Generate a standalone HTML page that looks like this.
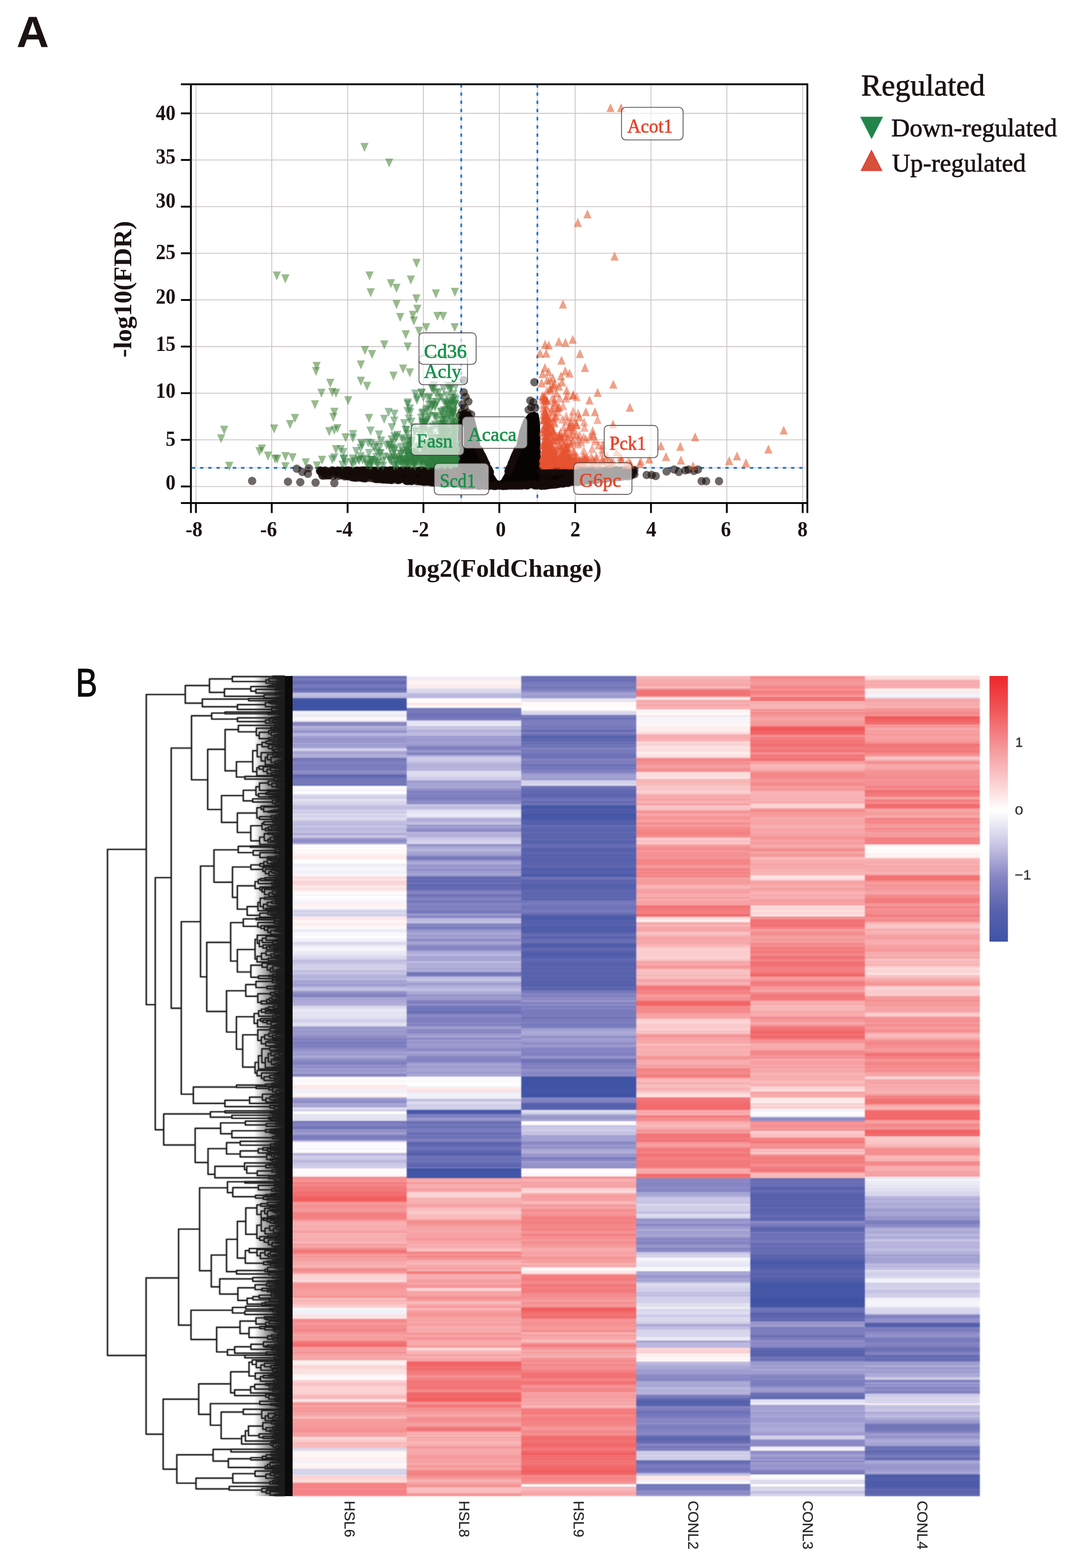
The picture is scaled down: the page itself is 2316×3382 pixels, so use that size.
<!DOCTYPE html>
<html lang="en"><head><meta charset="utf-8"><title>Figure</title>
<style>html,body{margin:0;padding:0;background:#fff}svg{display:block}text{font-family:"Liberation Serif","DejaVu Serif",serif}.ss text,text.ss{font-family:"Liberation Sans","DejaVu Sans",sans-serif}</style>
</head><body>
<svg width="2316" height="3382" viewBox="0 0 2316 3382">
<rect width="2316" height="3382" fill="#fff"/>
<text class="ss" x="35.6" y="101.6" font-size="94.3" font-weight="bold" fill="#1a1311" textLength="70.2" lengthAdjust="spacingAndGlyphs">A</text>
<text class="ss" x="163.2" y="1501.6" font-size="84.6" fill="#0a0a0a" stroke="#0a0a0a" stroke-width="1.5" textLength="46.6" lengthAdjust="spacingAndGlyphs">B</text>
<g id="volcano">
<path d="M422.5 181.7V1085M586 181.7V1085M749.6 181.7V1085M913.1 181.7V1085M1076.7 181.7V1085M1240.3 181.7V1085M1403.8 181.7V1085M1567.4 181.7V1085M1730.9 181.7V1085M411.7 1049.3H1741M411.7 948.7H1741M411.7 848.1H1741M411.7 747.5H1741M411.7 646.9H1741M411.7 546.3H1741M411.7 445.7H1741M411.7 345.1H1741M411.7 244.5H1741" stroke="#c9c4c4" stroke-width="1.8" fill="none"/>
<path d="M994.6 181.7V1083M1158.8 181.7V1083M413.7 1009.1H1739" stroke="#e6e3e3" stroke-width="3.2" fill="none"/>
<path d="M994.6 181.7V1083M1158.8 181.7V1083M413.7 1009.1H1739" stroke="#1e73cd" stroke-width="3.7" stroke-dasharray="7.2 10.5" fill="none"/>
<path d="M760 1019 L800 1017 L880 1016 L960 1015 L989 1014 L989 960 L989 903 L992 890 L1000 886 L1012 890 L1022 903 L1029 930 L1035 966 L1048 996 L1061 1020 L1071 1036 L1076.5 1039 L1082 1036 L1092 1018 L1104 992 L1114 966 L1121 930 L1130 906 L1141 893 L1152 889 L1160 894 L1163 912 L1164 960 L1165 1014 L1240 1016 L1300 1016 L1330 1017 L1330 1030 L1290 1037 L1240 1045 L1166 1051 L1100 1053.5 L1076 1054 L1040 1053 L987 1050 L945 1046.5 L900 1042.5 L860 1038 L814 1033 L780 1029 L760 1026 Z" fill="#070303" stroke="#070303" stroke-width="3" stroke-linejoin="round"/>
<g fill="#150c08" fill-opacity="0.62">
<circle cx="543.7" cy="1037.3" r="9"/><circle cx="621" cy="1039" r="9"/><circle cx="647.5" cy="1040" r="9"/><circle cx="680.5" cy="1040.8" r="9"/><circle cx="721" cy="1042" r="9"/><circle cx="640" cy="1011" r="9"/><circle cx="652" cy="1018" r="9"/><circle cx="664" cy="1022" r="9"/><circle cx="666" cy="1010" r="9"/><circle cx="1152.4" cy="824.4" r="9"/><circle cx="1143.6" cy="864" r="9"/><circle cx="1150" cy="867.5" r="9"/><circle cx="1146" cy="878" r="9"/><circle cx="1154" cy="880" r="9"/><circle cx="1140" cy="884" r="9"/><circle cx="1000" cy="846" r="9"/><circle cx="1004" cy="856" r="9"/><circle cx="1010" cy="866" r="9"/><circle cx="997" cy="872" r="9"/><circle cx="1002" cy="880" r="9"/><circle cx="996" cy="888" r="9"/><circle cx="1000" cy="820" r="9"/><circle cx="1008" cy="890" r="9"/><circle cx="1016" cy="894" r="9"/><circle cx="992" cy="896" r="9"/><circle cx="1368" cy="1013.5" r="9"/><circle cx="1368" cy="1023" r="9"/><circle cx="1394.4" cy="1024.5" r="9"/><circle cx="1405.4" cy="1024.5" r="9"/><circle cx="1414" cy="1026.7" r="9"/><circle cx="1437.5" cy="1017" r="9"/><circle cx="1453.7" cy="1012.7" r="9"/><circle cx="1463.9" cy="1018" r="9"/><circle cx="1478" cy="1014.4" r="9"/><circle cx="1484.5" cy="1012.7" r="9"/><circle cx="1496.4" cy="1015.7" r="9"/><circle cx="1505" cy="1012.7" r="9"/><circle cx="1513" cy="1037.8" r="9"/><circle cx="1522.8" cy="1037.8" r="9"/><circle cx="1550.5" cy="1037.8" r="9"/><circle cx="787.1" cy="1031.7" r="9"/><circle cx="850.8" cy="1015.2" r="9"/><circle cx="842.2" cy="1035.2" r="9"/><circle cx="717.2" cy="1017.1" r="9"/><circle cx="757" cy="1029.1" r="9"/><circle cx="982.9" cy="1023.2" r="9"/><circle cx="733.3" cy="1017.5" r="9"/><circle cx="864.5" cy="1016" r="9"/><circle cx="854.3" cy="1014.6" r="9"/><circle cx="751.8" cy="1015.3" r="9"/><circle cx="865.7" cy="1015.4" r="9"/><circle cx="928.3" cy="1016.3" r="9"/><circle cx="862.3" cy="1030.9" r="9"/><circle cx="776.4" cy="1020.4" r="9"/><circle cx="815.4" cy="1016.6" r="9"/><circle cx="836.7" cy="1032.8" r="9"/><circle cx="861.9" cy="1017.6" r="9"/><circle cx="898.6" cy="1038" r="9"/><circle cx="942" cy="1040" r="9"/><circle cx="884.1" cy="1026.5" r="9"/><circle cx="805.7" cy="1016.2" r="9"/><circle cx="828.5" cy="1014.8" r="9"/><circle cx="728.8" cy="1016.3" r="9"/><circle cx="824.8" cy="1030.9" r="9"/><circle cx="949.2" cy="1041.4" r="9"/><circle cx="955.3" cy="1019.2" r="9"/><circle cx="742.9" cy="1027.7" r="9"/><circle cx="768.8" cy="1015.3" r="9"/><circle cx="859.9" cy="1035.3" r="9"/><circle cx="875.3" cy="1016.2" r="9"/><circle cx="959.9" cy="1037.5" r="9"/><circle cx="807.7" cy="1015.3" r="9"/><circle cx="880.3" cy="1014.6" r="9"/><circle cx="752.6" cy="1015.1" r="9"/><circle cx="690.1" cy="1014.7" r="9"/><circle cx="874.2" cy="1014.7" r="9"/><circle cx="794.2" cy="1015.2" r="9"/><circle cx="944.7" cy="1040.8" r="9"/><circle cx="715.8" cy="1015.1" r="9"/><circle cx="938.7" cy="1014.8" r="9"/><circle cx="975.3" cy="1015.6" r="9"/><circle cx="853" cy="1030.2" r="9"/><circle cx="949" cy="1016.3" r="9"/><circle cx="800" cy="1031.5" r="9"/><circle cx="923.7" cy="1015.1" r="9"/><circle cx="933.5" cy="1037.2" r="9"/><circle cx="935.5" cy="1016.5" r="9"/><circle cx="845.3" cy="1015.2" r="9"/><circle cx="698.4" cy="1021.5" r="9"/><circle cx="824.2" cy="1033.5" r="9"/><circle cx="799.4" cy="1014.9" r="9"/><circle cx="749" cy="1027.3" r="9"/><circle cx="833.8" cy="1034.6" r="9"/><circle cx="888.2" cy="1036.1" r="9"/><circle cx="833.4" cy="1034.1" r="9"/><circle cx="930.2" cy="1019.8" r="9"/><circle cx="810.4" cy="1033" r="9"/><circle cx="728.1" cy="1019.5" r="9"/><circle cx="938" cy="1040.7" r="9"/><circle cx="854.6" cy="1014.7" r="9"/><circle cx="981.3" cy="1040.1" r="9"/><circle cx="820.1" cy="1021" r="9"/><circle cx="765.6" cy="1030" r="9"/><circle cx="815.7" cy="1021.4" r="9"/><circle cx="827.4" cy="1023.6" r="9"/><circle cx="965.3" cy="1042" r="9"/><circle cx="744.9" cy="1016.9" r="9"/><circle cx="832" cy="1034.1" r="9"/><circle cx="845.5" cy="1035.4" r="9"/><circle cx="858.1" cy="1014.9" r="9"/><circle cx="921.7" cy="1038.2" r="9"/><circle cx="963.7" cy="1042" r="9"/><circle cx="843.6" cy="1034.3" r="9"/><circle cx="833.4" cy="1031.6" r="9"/><circle cx="972.7" cy="1039.3" r="9"/><circle cx="942" cy="1014.7" r="9"/><circle cx="822.6" cy="1014.6" r="9"/><circle cx="925.2" cy="1017.9" r="9"/><circle cx="904.8" cy="1016.1" r="9"/><circle cx="954.8" cy="1019.6" r="9"/><circle cx="975.8" cy="1036.9" r="9"/><circle cx="939.7" cy="1040.4" r="9"/><circle cx="791.7" cy="1014.8" r="9"/><circle cx="906.6" cy="1038.5" r="9"/><circle cx="695.4" cy="1025.9" r="9"/><circle cx="985.5" cy="1019.7" r="9"/><circle cx="769.7" cy="1016.8" r="9"/><circle cx="728.9" cy="1020.7" r="9"/><circle cx="861.2" cy="1016.3" r="9"/><circle cx="817.6" cy="1026.8" r="9"/><circle cx="930.5" cy="1016.4" r="9"/><circle cx="948.8" cy="1015.4" r="9"/><circle cx="855.9" cy="1018.4" r="9"/><circle cx="728.8" cy="1014.9" r="9"/><circle cx="738.4" cy="1014.8" r="9"/><circle cx="781.5" cy="1016.6" r="9"/><circle cx="840" cy="1014.8" r="9"/><circle cx="695.4" cy="1024.8" r="9"/><circle cx="746.8" cy="1018.6" r="9"/><circle cx="935.7" cy="1038.5" r="9"/><circle cx="807.9" cy="1027.1" r="9"/><circle cx="792.8" cy="1030.7" r="9"/><circle cx="811.4" cy="1015.1" r="9"/><circle cx="728.9" cy="1016.5" r="9"/><circle cx="739" cy="1025" r="9"/><circle cx="774.6" cy="1014.9" r="9"/><circle cx="827.8" cy="1033.9" r="9"/><circle cx="978.5" cy="1043.5" r="9"/><circle cx="979.7" cy="1015.1" r="9"/><circle cx="832.4" cy="1015.5" r="9"/><circle cx="841.4" cy="1014.5" r="9"/><circle cx="716.9" cy="1014.6" r="9"/><circle cx="781.3" cy="1030.3" r="9"/><circle cx="915.2" cy="1036.8" r="9"/><circle cx="806.9" cy="1017.8" r="9"/><circle cx="907.2" cy="1016" r="9"/><circle cx="940.6" cy="1039.6" r="9"/><circle cx="933.7" cy="1040.1" r="9"/><circle cx="940.5" cy="1031.3" r="9"/><circle cx="957.8" cy="1042.3" r="9"/><circle cx="699.3" cy="1015.2" r="9"/><circle cx="940.7" cy="1040.1" r="9"/><circle cx="894.2" cy="1015.5" r="9"/><circle cx="929.3" cy="1039.7" r="9"/><circle cx="887.8" cy="1037.8" r="9"/><circle cx="712.3" cy="1016.5" r="9"/><circle cx="911.9" cy="1039" r="9"/><circle cx="833.7" cy="1033.3" r="9"/><circle cx="882.8" cy="1014.6" r="9"/><circle cx="766.2" cy="1030.5" r="9"/><circle cx="708.2" cy="1025.1" r="9"/><circle cx="777.3" cy="1030.2" r="9"/><circle cx="970.9" cy="1040.9" r="9"/><circle cx="980.4" cy="1015.4" r="9"/><circle cx="753.2" cy="1025.1" r="9"/><circle cx="842.6" cy="1034.9" r="9"/><circle cx="959.3" cy="1015.5" r="9"/><circle cx="825.2" cy="1015" r="9"/><circle cx="793.2" cy="1015.1" r="9"/><circle cx="915.2" cy="1017.2" r="9"/><circle cx="967.9" cy="1024.2" r="9"/><circle cx="801.7" cy="1025.6" r="9"/><circle cx="798.2" cy="1015.3" r="9"/><circle cx="704.5" cy="1017.2" r="9"/><circle cx="970.7" cy="1014.9" r="9"/><circle cx="843.3" cy="1014.8" r="9"/><circle cx="976.8" cy="1034.2" r="9"/><circle cx="964" cy="1041.1" r="9"/><circle cx="825.3" cy="1033.7" r="9"/><circle cx="728.2" cy="1015.1" r="9"/><circle cx="911.7" cy="1020.1" r="9"/><circle cx="886.8" cy="1037.4" r="9"/><circle cx="740.2" cy="1021.8" r="9"/><circle cx="988.9" cy="1015.4" r="9"/><circle cx="747.7" cy="1015.1" r="9"/><circle cx="761.7" cy="1026.6" r="9"/><circle cx="813.8" cy="1032.8" r="9"/><circle cx="791.5" cy="1014.6" r="9"/><circle cx="980.3" cy="1042.6" r="9"/><circle cx="948.9" cy="1014.9" r="9"/><circle cx="764.5" cy="1028.1" r="9"/><circle cx="951.9" cy="1014.5" r="9"/><circle cx="902.9" cy="1037.8" r="9"/><circle cx="968" cy="1042.6" r="9"/><circle cx="764.5" cy="1028.7" r="9"/><circle cx="972.4" cy="1041.4" r="9"/><circle cx="827.2" cy="1015.7" r="9"/><circle cx="924.7" cy="1031.5" r="9"/><circle cx="781.1" cy="1014.7" r="9"/><circle cx="880.9" cy="1016.3" r="9"/><circle cx="864.9" cy="1015.2" r="9"/><circle cx="870.3" cy="1014.5" r="9"/><circle cx="828.2" cy="1031.2" r="9"/><circle cx="832.6" cy="1014.9" r="9"/><circle cx="978.2" cy="1016.3" r="9"/><circle cx="892.3" cy="1015.3" r="9"/><circle cx="890.2" cy="1018.4" r="9"/><circle cx="700.2" cy="1026" r="9"/><circle cx="929.1" cy="1040.5" r="9"/><circle cx="981" cy="1021.8" r="9"/><circle cx="756.4" cy="1022.4" r="9"/><circle cx="746.2" cy="1024.8" r="9"/><circle cx="733.9" cy="1016.8" r="9"/><circle cx="705.6" cy="1025.3" r="9"/><circle cx="909.8" cy="1028.8" r="9"/><circle cx="913.9" cy="1039.1" r="9"/><circle cx="802.2" cy="1015.1" r="9"/><circle cx="690.9" cy="1016.5" r="9"/><circle cx="979.3" cy="1014.8" r="9"/><circle cx="936.5" cy="1041.2" r="9"/><circle cx="832" cy="1019" r="9"/><circle cx="799.3" cy="1017.9" r="9"/><circle cx="813.2" cy="1033.4" r="9"/><circle cx="700.5" cy="1018.3" r="9"/><circle cx="914.2" cy="1017.9" r="9"/><circle cx="771.7" cy="1030.4" r="9"/><circle cx="905" cy="1015.1" r="9"/><circle cx="964.9" cy="1016.7" r="9"/><circle cx="760.2" cy="1023.4" r="9"/><circle cx="765.3" cy="1018.2" r="9"/><circle cx="930.8" cy="1035.4" r="9"/><circle cx="872.2" cy="1015.1" r="9"/><circle cx="798.6" cy="1016.8" r="9"/><circle cx="749.2" cy="1014.9" r="9"/><circle cx="787.7" cy="1031.7" r="9"/><circle cx="769.5" cy="1028.8" r="9"/><circle cx="824.1" cy="1032.7" r="9"/><circle cx="892.2" cy="1031.1" r="9"/><circle cx="778.1" cy="1015.8" r="9"/><circle cx="911.4" cy="1014.8" r="9"/><circle cx="763.6" cy="1029.7" r="9"/><circle cx="808.8" cy="1032.8" r="9"/><circle cx="932.5" cy="1018.6" r="9"/><circle cx="832.4" cy="1033.2" r="9"/><circle cx="702.1" cy="1014.7" r="9"/><circle cx="981.9" cy="1026.4" r="9"/><circle cx="949.8" cy="1015.4" r="9"/><circle cx="923.3" cy="1018.9" r="9"/><circle cx="868.8" cy="1016" r="9"/><circle cx="800.6" cy="1014.7" r="9"/><circle cx="766.5" cy="1016.1" r="9"/><circle cx="693.4" cy="1016.2" r="9"/><circle cx="783.7" cy="1030.4" r="9"/><circle cx="709" cy="1025.3" r="9"/><circle cx="717.3" cy="1026.9" r="9"/><circle cx="782.3" cy="1019.1" r="9"/><circle cx="860" cy="1033.4" r="9"/><circle cx="989" cy="1015.2" r="9"/><circle cx="908.4" cy="1014.8" r="9"/><circle cx="960.5" cy="1026.5" r="9"/><circle cx="954.9" cy="1015.4" r="9"/><circle cx="882.2" cy="1018.1" r="9"/><circle cx="876.7" cy="1037.3" r="9"/><circle cx="775" cy="1017.3" r="9"/><circle cx="837.2" cy="1020.5" r="9"/><circle cx="982.7" cy="1015.5" r="9"/><circle cx="967.9" cy="1032.6" r="9"/><circle cx="937.4" cy="1041" r="9"/><circle cx="811.3" cy="1020.2" r="9"/><circle cx="755.4" cy="1015.6" r="9"/><circle cx="726.9" cy="1016.9" r="9"/><circle cx="858.7" cy="1016.6" r="9"/><circle cx="941.5" cy="1040.4" r="9"/><circle cx="878.1" cy="1036.3" r="9"/><circle cx="817.7" cy="1032.9" r="9"/><circle cx="836.9" cy="1032.7" r="9"/><circle cx="827.5" cy="1034.2" r="9"/><circle cx="728.5" cy="1027" r="9"/><circle cx="923.3" cy="1015.6" r="9"/><circle cx="841.2" cy="1017.9" r="9"/><circle cx="947.1" cy="1039.4" r="9"/><circle cx="837.6" cy="1021.8" r="9"/><circle cx="926.5" cy="1018.5" r="9"/><circle cx="795.3" cy="1016.6" r="9"/><circle cx="959" cy="1019" r="9"/><circle cx="840.7" cy="1018.3" r="9"/><circle cx="768.9" cy="1015.1" r="9"/><circle cx="744.6" cy="1025.7" r="9"/><circle cx="724.5" cy="1016" r="9"/><circle cx="951.9" cy="1039.1" r="9"/><circle cx="878.9" cy="1037.2" r="9"/><circle cx="987.1" cy="1015.8" r="9"/><circle cx="919.4" cy="1015.4" r="9"/><circle cx="913.1" cy="1021" r="9"/><circle cx="881.8" cy="1036.2" r="9"/><circle cx="783.8" cy="1014.5" r="9"/><circle cx="734.8" cy="1025.1" r="9"/><circle cx="729.6" cy="1016.1" r="9"/><circle cx="690.8" cy="1014.7" r="9"/><circle cx="757.3" cy="1015.8" r="9"/><circle cx="877.2" cy="1015.5" r="9"/><circle cx="971" cy="1014.9" r="9"/><circle cx="951.4" cy="1041.8" r="9"/><circle cx="858.7" cy="1035.5" r="9"/><circle cx="971.1" cy="1016.5" r="9"/><circle cx="961.1" cy="1042.1" r="9"/><circle cx="761.3" cy="1016.8" r="9"/><circle cx="855.3" cy="1018.7" r="9"/><circle cx="749.9" cy="1026.9" r="9"/><circle cx="742.4" cy="1015" r="9"/><circle cx="956.8" cy="1042.6" r="9"/><circle cx="943.3" cy="1039.7" r="9"/><circle cx="825.7" cy="1014.9" r="9"/><circle cx="759.7" cy="1028.3" r="9"/><circle cx="943.6" cy="1016.4" r="9"/><circle cx="856.1" cy="1035.1" r="9"/><circle cx="769.6" cy="1019.5" r="9"/><circle cx="954" cy="1014.5" r="9"/><circle cx="760.8" cy="1029.6" r="9"/><circle cx="954" cy="1015.1" r="9"/><circle cx="962.3" cy="1041.3" r="9"/><circle cx="983.7" cy="1035.6" r="9"/><circle cx="947.3" cy="1040.7" r="9"/><circle cx="782.3" cy="1031.4" r="9"/><circle cx="963.2" cy="1014.7" r="9"/><circle cx="793.5" cy="1014.7" r="9"/><circle cx="880.2" cy="1037.6" r="9"/><circle cx="867.1" cy="1033" r="9"/><circle cx="957.4" cy="1040.2" r="9"/><circle cx="973.3" cy="1014.7" r="9"/><circle cx="723.6" cy="1024" r="9"/><circle cx="937.5" cy="1016" r="9"/><circle cx="720" cy="1016.6" r="9"/><circle cx="785.7" cy="1015.3" r="9"/><circle cx="767" cy="1016.4" r="9"/><circle cx="786.2" cy="1028.9" r="9"/><circle cx="875.5" cy="1036.6" r="9"/><circle cx="921.9" cy="1039.2" r="9"/><circle cx="755" cy="1017.2" r="9"/><circle cx="690.4" cy="1016.7" r="9"/><circle cx="837.2" cy="1034.7" r="9"/><circle cx="838.4" cy="1020.3" r="9"/><circle cx="973.2" cy="1015" r="9"/><circle cx="899.8" cy="1015.5" r="9"/><circle cx="881" cy="1036" r="9"/><circle cx="926.1" cy="1016" r="9"/><circle cx="810.4" cy="1016.8" r="9"/><circle cx="956.5" cy="1014.5" r="9"/><circle cx="769" cy="1015.5" r="9"/><circle cx="955.2" cy="1041.3" r="9"/><circle cx="916.3" cy="1039.4" r="9"/><circle cx="788" cy="1026.1" r="9"/><circle cx="912.6" cy="1037.6" r="9"/><circle cx="863.8" cy="1033.4" r="9"/><circle cx="761.4" cy="1027.4" r="9"/><circle cx="736.4" cy="1014.9" r="9"/><circle cx="846.7" cy="1014.8" r="9"/><circle cx="908.6" cy="1017.2" r="9"/><circle cx="805.3" cy="1031" r="9"/><circle cx="820.5" cy="1033.8" r="9"/><circle cx="1207.7" cy="1015.2" r="9"/><circle cx="1246.6" cy="1038.4" r="9"/><circle cx="1293.7" cy="1015.4" r="9"/><circle cx="1287.9" cy="1031.2" r="9"/><circle cx="1252.9" cy="1037.9" r="9"/><circle cx="1212.2" cy="1037.2" r="9"/><circle cx="1307.4" cy="1031.7" r="9"/><circle cx="1229.2" cy="1016" r="9"/><circle cx="1250.8" cy="1037.5" r="9"/><circle cx="1216.5" cy="1041.4" r="9"/><circle cx="1248.7" cy="1020.4" r="9"/><circle cx="1298.2" cy="1016.8" r="9"/><circle cx="1264.9" cy="1020" r="9"/><circle cx="1275.8" cy="1031.9" r="9"/><circle cx="1270.9" cy="1035.5" r="9"/><circle cx="1310.9" cy="1024.5" r="9"/><circle cx="1248.9" cy="1018.9" r="9"/><circle cx="1304.2" cy="1016.7" r="9"/><circle cx="1364.9" cy="1014.6" r="9"/><circle cx="1246.7" cy="1038.6" r="9"/><circle cx="1307" cy="1015" r="9"/><circle cx="1272.5" cy="1023.4" r="9"/><circle cx="1208.8" cy="1041.2" r="9"/><circle cx="1294.1" cy="1033.7" r="9"/><circle cx="1360.7" cy="1024.7" r="9"/><circle cx="1260.6" cy="1037.7" r="9"/><circle cx="1334.4" cy="1017.4" r="9"/><circle cx="1242" cy="1039.6" r="9"/><circle cx="1166.5" cy="1016.4" r="9"/><circle cx="1215.5" cy="1042.1" r="9"/><circle cx="1294.7" cy="1016.1" r="9"/><circle cx="1177.5" cy="1040.7" r="9"/><circle cx="1194.4" cy="1045.3" r="9"/><circle cx="1168.3" cy="1047.8" r="9"/><circle cx="1186.5" cy="1014.7" r="9"/><circle cx="1322.8" cy="1027.5" r="9"/><circle cx="1199.9" cy="1042.4" r="9"/><circle cx="1301" cy="1020.1" r="9"/><circle cx="1305.9" cy="1029.5" r="9"/><circle cx="1278.1" cy="1015" r="9"/><circle cx="1194.1" cy="1015.5" r="9"/><circle cx="1260.4" cy="1036.9" r="9"/><circle cx="1275" cy="1017.5" r="9"/><circle cx="1335.8" cy="1026.6" r="9"/><circle cx="1241.7" cy="1017.2" r="9"/><circle cx="1294.7" cy="1016" r="9"/><circle cx="1289.2" cy="1022.3" r="9"/><circle cx="1364.3" cy="1015.9" r="9"/><circle cx="1311.1" cy="1021.4" r="9"/><circle cx="1261.9" cy="1037.4" r="9"/><circle cx="1253.9" cy="1036" r="9"/><circle cx="1225.2" cy="1040.8" r="9"/><circle cx="1220.9" cy="1033.1" r="9"/><circle cx="1326" cy="1015.1" r="9"/><circle cx="1284.5" cy="1035.1" r="9"/><circle cx="1312" cy="1015.7" r="9"/><circle cx="1226.7" cy="1014.5" r="9"/><circle cx="1352.1" cy="1024" r="9"/><circle cx="1289.6" cy="1032.8" r="9"/><circle cx="1286.5" cy="1016.2" r="9"/><circle cx="1300.7" cy="1016.7" r="9"/><circle cx="1202.6" cy="1040.7" r="9"/><circle cx="1298.5" cy="1029.7" r="9"/><circle cx="1279.5" cy="1014.9" r="9"/><circle cx="1251.2" cy="1037.4" r="9"/><circle cx="1354.6" cy="1015.8" r="9"/><circle cx="1190" cy="1042" r="9"/><circle cx="1256.2" cy="1014.5" r="9"/><circle cx="1285.6" cy="1026.5" r="9"/><circle cx="1249.3" cy="1038.8" r="9"/><circle cx="1196.7" cy="1014.5" r="9"/><circle cx="1304.1" cy="1019.6" r="9"/><circle cx="1341.6" cy="1028.3" r="9"/><circle cx="1314.2" cy="1030" r="9"/><circle cx="1183" cy="1045.7" r="9"/><circle cx="1354.3" cy="1027.3" r="9"/><circle cx="1169" cy="1018.6" r="9"/><circle cx="1228.8" cy="1016.5" r="9"/><circle cx="1339.9" cy="1014.6" r="9"/><circle cx="1282.1" cy="1035.2" r="9"/><circle cx="1327.1" cy="1029.6" r="9"/><circle cx="1243.9" cy="1034.8" r="9"/><circle cx="1280.5" cy="1015" r="9"/><circle cx="1333.1" cy="1027.4" r="9"/><circle cx="1287.4" cy="1031.6" r="9"/><circle cx="1242.1" cy="1036.5" r="9"/><circle cx="1329.1" cy="1014.5" r="9"/><circle cx="1251.3" cy="1036.3" r="9"/><circle cx="1174.5" cy="1043.5" r="9"/><circle cx="1281.5" cy="1031.5" r="9"/><circle cx="1304.3" cy="1015.1" r="9"/><circle cx="1277.8" cy="1016.9" r="9"/><circle cx="1213.3" cy="1042.2" r="9"/><circle cx="1207.7" cy="1041.5" r="9"/><circle cx="1258.9" cy="1032.7" r="9"/><circle cx="1213" cy="1040.1" r="9"/><circle cx="1271.4" cy="1036.3" r="9"/><circle cx="1204.8" cy="1043.5" r="9"/><circle cx="1280" cy="1035.4" r="9"/><circle cx="1175" cy="1023.3" r="9"/><circle cx="1187.4" cy="1045.8" r="9"/><circle cx="1286.6" cy="1034.9" r="9"/><circle cx="1172.8" cy="1034.2" r="9"/><circle cx="1280.6" cy="1034.8" r="9"/><circle cx="1217.3" cy="1014.6" r="9"/><circle cx="1202.5" cy="1014.6" r="9"/><circle cx="1278.6" cy="1031.4" r="9"/><circle cx="1349.8" cy="1015.9" r="9"/><circle cx="1190.2" cy="1019.3" r="9"/><circle cx="1280" cy="1029.2" r="9"/><circle cx="1245.4" cy="1015.4" r="9"/><circle cx="1210.8" cy="1014.6" r="9"/><circle cx="1237.1" cy="1036.8" r="9"/><circle cx="1175.5" cy="1045.9" r="9"/><circle cx="1365.1" cy="1021.9" r="9"/><circle cx="1302.7" cy="1033" r="9"/><circle cx="1231.4" cy="1014.9" r="9"/><circle cx="1263.2" cy="1014.8" r="9"/><circle cx="1194.9" cy="1016.2" r="9"/><circle cx="1310.9" cy="1018.4" r="9"/><circle cx="1345.5" cy="1015.4" r="9"/><circle cx="1292.9" cy="1015.4" r="9"/><circle cx="1332.3" cy="1016" r="9"/><circle cx="1210.8" cy="1042.3" r="9"/><circle cx="1195.2" cy="1017.6" r="9"/><circle cx="1249.2" cy="1014.8" r="9"/><circle cx="1335.6" cy="1028.8" r="9"/><circle cx="1348.4" cy="1020.3" r="9"/><circle cx="1208.7" cy="1015.5" r="9"/><circle cx="1218.1" cy="1014.8" r="9"/><circle cx="1352.9" cy="1015.7" r="9"/><circle cx="1312.7" cy="1020.3" r="9"/><circle cx="1329" cy="1014.7" r="9"/><circle cx="1334.1" cy="1025.9" r="9"/><circle cx="1210.1" cy="1015.8" r="9"/><circle cx="1202.4" cy="1044.1" r="9"/><circle cx="1182" cy="1045.7" r="9"/><circle cx="1221.3" cy="1040.4" r="9"/><circle cx="1329.9" cy="1014.8" r="9"/><circle cx="1314" cy="1016.4" r="9"/><circle cx="1329.8" cy="1023.6" r="9"/><circle cx="1169.1" cy="1045.1" r="9"/><circle cx="1219.8" cy="1025" r="9"/><circle cx="1199" cy="1044.8" r="9"/><circle cx="1271" cy="1036.5" r="9"/><circle cx="1310.3" cy="1017.5" r="9"/><circle cx="1309.7" cy="1016.6" r="9"/><circle cx="1266" cy="1036.1" r="9"/><circle cx="1170.2" cy="1019.6" r="9"/><circle cx="1202.8" cy="1014.7" r="9"/><circle cx="1331.1" cy="1029.6" r="9"/><circle cx="1169.6" cy="1047" r="9"/><circle cx="1307.9" cy="1032.5" r="9"/><circle cx="1190.9" cy="1045.2" r="9"/><circle cx="1190.7" cy="1015.3" r="9"/><circle cx="1285.5" cy="1017.5" r="9"/><circle cx="1281.7" cy="1016.6" r="9"/><circle cx="1244.5" cy="1028.1" r="9"/><circle cx="1245.9" cy="1038.9" r="9"/><circle cx="1214.6" cy="1037.1" r="9"/><circle cx="1176.8" cy="1045.2" r="9"/><circle cx="1216.4" cy="1042.2" r="9"/><circle cx="1273.2" cy="1035.4" r="9"/><circle cx="1170.2" cy="1040.6" r="9"/><circle cx="1344.7" cy="1016" r="9"/><circle cx="1303" cy="1026.5" r="9"/><circle cx="1216.6" cy="1038.3" r="9"/><circle cx="1224.1" cy="1041.8" r="9"/><circle cx="1286" cy="1034.5" r="9"/><circle cx="1260.2" cy="1015.6" r="9"/><circle cx="1191" cy="1014.7" r="9"/><circle cx="1248.1" cy="1015" r="9"/><circle cx="1183.7" cy="1034.5" r="9"/><circle cx="1281.2" cy="1016.1" r="9"/><circle cx="1309.5" cy="1031.4" r="9"/><circle cx="1228.7" cy="1014.9" r="9"/><circle cx="1269.5" cy="1036.8" r="9"/><circle cx="1237.2" cy="1017.5" r="9"/><circle cx="1278.4" cy="1015.5" r="9"/><circle cx="1365.5" cy="1016.7" r="9"/><circle cx="1179.5" cy="1046.9" r="9"/><circle cx="1244.4" cy="1039.5" r="9"/><circle cx="1211.5" cy="1043.1" r="9"/><circle cx="1234.1" cy="1039.4" r="9"/><circle cx="1270.6" cy="1034.6" r="9"/><circle cx="1262" cy="1034" r="9"/><circle cx="1191.7" cy="1017.6" r="9"/><circle cx="1320.7" cy="1024.4" r="9"/><circle cx="1250.4" cy="1030.3" r="9"/><circle cx="1242.7" cy="1037.9" r="9"/><circle cx="1225.2" cy="1041.1" r="9"/><circle cx="1231" cy="1029" r="9"/><circle cx="1255.7" cy="1014.8" r="9"/><circle cx="1195.3" cy="1045.1" r="9"/><circle cx="1351.9" cy="1027.2" r="9"/><circle cx="1207.3" cy="1015.6" r="9"/><circle cx="1175.6" cy="1043.6" r="9"/><circle cx="1322.2" cy="1029.8" r="9"/><circle cx="1304.4" cy="1032.3" r="9"/><circle cx="1272.1" cy="1014.7" r="9"/><circle cx="1247" cy="1036.2" r="9"/><circle cx="1360.8" cy="1018.3" r="9"/><circle cx="1235.3" cy="1019.9" r="9"/><circle cx="1230.3" cy="1031" r="9"/><circle cx="1188.3" cy="1043.4" r="9"/><circle cx="1251" cy="1014.8" r="9"/><circle cx="1269.3" cy="1015.6" r="9"/><circle cx="1202.8" cy="1043.7" r="9"/><circle cx="1174.5" cy="1047" r="9"/><circle cx="1305.5" cy="1025.5" r="9"/><circle cx="1301" cy="1032.9" r="9"/><circle cx="1296.7" cy="1026.1" r="9"/><circle cx="1249" cy="1014.7" r="9"/><circle cx="1319.4" cy="1014.7" r="9"/><circle cx="1271.5" cy="1034.2" r="9"/><circle cx="1178.5" cy="1046.5" r="9"/><circle cx="1310.5" cy="1014.8" r="9"/><circle cx="1186.1" cy="1045.6" r="9"/><circle cx="1256.9" cy="1015.2" r="9"/><circle cx="1345.9" cy="1026.8" r="9"/><circle cx="1216.4" cy="1038.7" r="9"/><circle cx="1229.6" cy="1025" r="9"/><circle cx="1287.7" cy="1030.3" r="9"/><circle cx="1215.1" cy="1042.6" r="9"/><circle cx="1228.4" cy="1039.1" r="9"/><circle cx="1215.2" cy="1014.8" r="9"/><circle cx="1203.7" cy="1019.8" r="9"/><circle cx="1279.4" cy="1035" r="9"/><circle cx="1247.4" cy="1014.6" r="9"/><circle cx="1332.8" cy="1014.9" r="9"/><circle cx="1223.3" cy="1014.9" r="9"/><circle cx="1300.2" cy="1033.3" r="9"/><circle cx="1220.5" cy="1017.2" r="9"/><circle cx="1255.5" cy="1020.6" r="9"/><circle cx="1237.3" cy="1016.4" r="9"/><circle cx="1359.6" cy="1026.3" r="9"/><circle cx="1257.4" cy="1037.8" r="9"/><circle cx="1347.7" cy="1015.2" r="9"/><circle cx="1288.9" cy="1017.3" r="9"/><circle cx="1269.6" cy="1015.7" r="9"/><circle cx="1321.9" cy="1030.4" r="9"/><circle cx="1244.8" cy="1014.6" r="9"/><circle cx="1337.9" cy="1016.1" r="9"/><circle cx="1279.5" cy="1035.2" r="9"/><circle cx="1179.3" cy="1015.1" r="9"/><circle cx="1191.5" cy="1016.4" r="9"/><circle cx="1247.5" cy="1036.1" r="9"/><circle cx="1340" cy="1015" r="9"/><circle cx="1303.3" cy="1031.4" r="9"/><circle cx="1307.2" cy="1017.3" r="9"/><circle cx="1293" cy="1014.8" r="9"/><circle cx="1309.9" cy="1014.6" r="9"/><circle cx="1206" cy="1015" r="9"/><circle cx="1173.9" cy="1047.3" r="9"/><circle cx="1335.6" cy="1016.4" r="9"/><circle cx="1253.9" cy="1016.2" r="9"/><circle cx="1166.2" cy="1048" r="9"/><circle cx="1174.7" cy="1047.5" r="9"/><circle cx="1215.4" cy="1042.6" r="9"/><circle cx="1183.4" cy="1016.3" r="9"/><circle cx="1121.6" cy="1045.7" r="9"/><circle cx="1039.5" cy="1047.7" r="9"/><circle cx="1156.6" cy="1046.5" r="9"/><circle cx="1153.7" cy="1045.8" r="9"/><circle cx="1120" cy="1045.7" r="9"/><circle cx="1100.5" cy="1047.4" r="9"/><circle cx="999.6" cy="1045.8" r="9"/><circle cx="1065.4" cy="1047.4" r="9"/><circle cx="1153.4" cy="1047.1" r="9"/><circle cx="1124.1" cy="1047.7" r="9"/><circle cx="1113.7" cy="1045.9" r="9"/><circle cx="1036" cy="1046.9" r="9"/><circle cx="1160.6" cy="1045.9" r="9"/><circle cx="1085.7" cy="1048" r="9"/><circle cx="1000.5" cy="1046.7" r="9"/><circle cx="1062.4" cy="1048" r="9"/><circle cx="1044.7" cy="1047.8" r="9"/><circle cx="1114.4" cy="1046.6" r="9"/><circle cx="1031.9" cy="1047.4" r="9"/><circle cx="1080.7" cy="1047.7" r="9"/><circle cx="1154.7" cy="1046.7" r="9"/><circle cx="1042.7" cy="1045.3" r="9"/><circle cx="1015" cy="1046.5" r="9"/><circle cx="1048.7" cy="1046" r="9"/><circle cx="1086.5" cy="1046.6" r="9"/><circle cx="1019.8" cy="1046.2" r="9"/><circle cx="1095.4" cy="1047.5" r="9"/><circle cx="1124.8" cy="1045.6" r="9"/><circle cx="1010.1" cy="1047" r="9"/><circle cx="1053.4" cy="1047.8" r="9"/><circle cx="1000.6" cy="1046.8" r="9"/><circle cx="1024.7" cy="1046.2" r="9"/><circle cx="1068.9" cy="1048.2" r="9"/><circle cx="1047.1" cy="1047.2" r="9"/><circle cx="1053.9" cy="1047.9" r="9"/><circle cx="1002.6" cy="1047.2" r="9"/><circle cx="1164.6" cy="1045.4" r="9"/><circle cx="1004.8" cy="1045.8" r="9"/><circle cx="1162.5" cy="1046.1" r="9"/><circle cx="1009.1" cy="1046.5" r="9"/><circle cx="1066.4" cy="1048.1" r="9"/><circle cx="1085.6" cy="1048.4" r="9"/><circle cx="1151.8" cy="1046" r="9"/><circle cx="1100.5" cy="1044.8" r="9"/><circle cx="1104.9" cy="1047.7" r="9"/><circle cx="1033.3" cy="1047.6" r="9"/><circle cx="994.9" cy="1045.3" r="9"/><circle cx="1137.8" cy="1047.1" r="9"/><circle cx="1022.7" cy="1046.4" r="9"/><circle cx="1138.8" cy="1044.3" r="9"/><circle cx="1019.6" cy="1045.7" r="9"/><circle cx="1136.1" cy="1045.9" r="9"/><circle cx="1047.5" cy="1047.7" r="9"/><circle cx="1135.3" cy="1047.1" r="9"/><circle cx="1054.9" cy="1047.2" r="9"/><circle cx="1055" cy="1046" r="9"/><circle cx="1032.1" cy="1047.7" r="9"/><circle cx="1089.8" cy="1047.1" r="9"/><circle cx="1134.3" cy="1046.1" r="9"/><circle cx="1149.3" cy="1043.8" r="9"/><circle cx="1077" cy="1047.7" r="9"/><circle cx="1017.7" cy="1047.1" r="9"/><circle cx="1092.3" cy="1048.2" r="9"/><circle cx="1111.1" cy="1047.7" r="9"/><circle cx="1068" cy="1044.1" r="9"/><circle cx="1005.8" cy="1047.2" r="9"/><circle cx="1067.4" cy="1048.1" r="9"/><circle cx="1117.2" cy="1047.8" r="9"/><circle cx="1138" cy="1045.2" r="9"/><circle cx="1128.5" cy="1047" r="9"/><circle cx="1038.4" cy="981.3" r="9"/><circle cx="1111.8" cy="980.7" r="9"/><circle cx="1048.2" cy="1001.7" r="9"/><circle cx="1103.4" cy="1000.4" r="9"/><circle cx="1044.4" cy="993.8" r="9"/><circle cx="1106.7" cy="992.8" r="9"/><circle cx="1042" cy="988.7" r="9"/><circle cx="1108.7" cy="987.9" r="9"/><circle cx="1039.8" cy="984.3" r="9"/><circle cx="1110.5" cy="983.6" r="9"/><circle cx="1042.4" cy="989.7" r="9"/><circle cx="1108.3" cy="988.8" r="9"/><circle cx="1048.3" cy="1002" r="9"/><circle cx="1103.3" cy="1000.6" r="9"/><circle cx="1052.5" cy="1010.6" r="9"/><circle cx="1099.8" cy="1009" r="9"/><circle cx="1054.5" cy="1014.8" r="9"/><circle cx="1098.1" cy="1013" r="9"/><circle cx="1035.3" cy="974.9" r="9"/><circle cx="1114.4" cy="974.6" r="9"/><circle cx="1038.7" cy="982" r="9"/><circle cx="1111.5" cy="981.4" r="9"/><circle cx="1042.5" cy="989.9" r="9"/><circle cx="1108.3" cy="989" r="9"/><circle cx="1045.6" cy="996.4" r="9"/><circle cx="1105.6" cy="995.3" r="9"/><circle cx="1040.1" cy="984.8" r="9"/><circle cx="1110.3" cy="984.1" r="9"/><circle cx="1036.1" cy="976.6" r="9"/><circle cx="1113.7" cy="976.2" r="9"/><circle cx="1033.2" cy="970.6" r="9"/><circle cx="1116.1" cy="970.4" r="9"/><circle cx="1039.4" cy="983.5" r="9"/><circle cx="1110.9" cy="982.8" r="9"/><circle cx="1043" cy="990.9" r="9"/><circle cx="1107.9" cy="989.9" r="9"/><circle cx="1056.3" cy="1018.4" r="9"/><circle cx="1096.6" cy="1016.5" r="9"/><circle cx="1054.6" cy="1015.1" r="9"/><circle cx="1098" cy="1013.3" r="9"/><circle cx="1053.5" cy="1012.7" r="9"/><circle cx="1099" cy="1011" r="9"/><circle cx="1056.3" cy="1018.6" r="9"/><circle cx="1096.6" cy="1016.7" r="9"/><circle cx="1056" cy="1017.9" r="9"/><circle cx="1096.8" cy="1016" r="9"/><circle cx="1047.1" cy="999.5" r="9"/><circle cx="1104.4" cy="998.2" r="9"/><circle cx="1052.1" cy="1009.8" r="9"/><circle cx="1100.2" cy="1008.2" r="9"/><circle cx="1032.6" cy="969.2" r="9"/><circle cx="1116.7" cy="969.1" r="9"/>
</g>
<path d="M924.9 967.1H986.9V1008.1H924.9Z" fill="#1f8a4c"/>
<g fill="#2f7d3e" fill-opacity="0.5">
<path d="M914.7 921.4h17.6l-8.8 19.4z"/><path d="M920.7 972.9h17.6l-8.8 19.4z"/><path d="M907.9 952.8h17.6l-8.8 19.4z"/><path d="M948.6 972.7h17.6l-8.8 19.4z"/><path d="M974.3 852.7h17.6l-8.8 19.4z"/><path d="M901.8 982.4h17.6l-8.8 19.4z"/><path d="M970.3 957h17.6l-8.8 19.4z"/><path d="M945.7 924.6h17.6l-8.8 19.4z"/><path d="M940.9 938.6h17.6l-8.8 19.4z"/><path d="M921.7 946.2h17.6l-8.8 19.4z"/><path d="M968.2 962.8h17.6l-8.8 19.4z"/><path d="M831.7 983.1h17.6l-8.8 19.4z"/><path d="M968.3 943.6h17.6l-8.8 19.4z"/><path d="M957 864.7h17.6l-8.8 19.4z"/><path d="M926.6 989.7h17.6l-8.8 19.4z"/><path d="M932.2 977.1h17.6l-8.8 19.4z"/><path d="M959.3 942.7h17.6l-8.8 19.4z"/><path d="M968.3 939.9h17.6l-8.8 19.4z"/><path d="M918 948.5h17.6l-8.8 19.4z"/><path d="M941.8 990.8h17.6l-8.8 19.4z"/><path d="M938.2 991.3h17.6l-8.8 19.4z"/><path d="M923.8 864.1h17.6l-8.8 19.4z"/><path d="M883.6 913.1h17.6l-8.8 19.4z"/><path d="M969.1 911.4h17.6l-8.8 19.4z"/><path d="M943.6 878.6h17.6l-8.8 19.4z"/><path d="M765.5 983.9h17.6l-8.8 19.4z"/><path d="M878.5 941.4h17.6l-8.8 19.4z"/><path d="M878.2 986.6h17.6l-8.8 19.4z"/><path d="M958.4 992.4h17.6l-8.8 19.4z"/><path d="M975.1 965.4h17.6l-8.8 19.4z"/><path d="M960.4 936.4h17.6l-8.8 19.4z"/><path d="M895.7 972.7h17.6l-8.8 19.4z"/><path d="M832.5 959.5h17.6l-8.8 19.4z"/><path d="M841.6 931.9h17.6l-8.8 19.4z"/><path d="M812.9 941.4h17.6l-8.8 19.4z"/><path d="M964.1 860.5h17.6l-8.8 19.4z"/><path d="M948.8 905.5h17.6l-8.8 19.4z"/><path d="M901.5 900.6h17.6l-8.8 19.4z"/><path d="M967.6 880.4h17.6l-8.8 19.4z"/><path d="M888.7 965.3h17.6l-8.8 19.4z"/><path d="M973.2 911.4h17.6l-8.8 19.4z"/><path d="M969.3 934.9h17.6l-8.8 19.4z"/><path d="M869.8 943.5h17.6l-8.8 19.4z"/><path d="M806.3 988.4h17.6l-8.8 19.4z"/><path d="M956.9 921.7h17.6l-8.8 19.4z"/><path d="M937.4 982.1h17.6l-8.8 19.4z"/><path d="M919.2 875.4h17.6l-8.8 19.4z"/><path d="M974.7 988.3h17.6l-8.8 19.4z"/><path d="M870.6 988.6h17.6l-8.8 19.4z"/><path d="M923.3 982.7h17.6l-8.8 19.4z"/><path d="M900.1 973.6h17.6l-8.8 19.4z"/><path d="M965.9 964.5h17.6l-8.8 19.4z"/><path d="M925.5 858h17.6l-8.8 19.4z"/><path d="M868.1 918.7h17.6l-8.8 19.4z"/><path d="M948.7 995.4h17.6l-8.8 19.4z"/><path d="M930.5 985.5h17.6l-8.8 19.4z"/><path d="M870.7 859.3h17.6l-8.8 19.4z"/><path d="M963 993.9h17.6l-8.8 19.4z"/><path d="M901.7 883.1h17.6l-8.8 19.4z"/><path d="M933.9 963.2h17.6l-8.8 19.4z"/><path d="M854.1 984.9h17.6l-8.8 19.4z"/><path d="M841.1 963.1h17.6l-8.8 19.4z"/><path d="M971 933.7h17.6l-8.8 19.4z"/><path d="M960.2 969.8h17.6l-8.8 19.4z"/><path d="M917.9 847.3h17.6l-8.8 19.4z"/><path d="M964 993.4h17.6l-8.8 19.4z"/><path d="M934.9 966.6h17.6l-8.8 19.4z"/><path d="M944 939.2h17.6l-8.8 19.4z"/><path d="M975.7 967.4h17.6l-8.8 19.4z"/><path d="M949.5 938.9h17.6l-8.8 19.4z"/><path d="M935.9 995h17.6l-8.8 19.4z"/><path d="M965.8 993.2h17.6l-8.8 19.4z"/><path d="M955.3 922.5h17.6l-8.8 19.4z"/><path d="M930.8 975.1h17.6l-8.8 19.4z"/><path d="M921.1 976.2h17.6l-8.8 19.4z"/><path d="M770.3 946.5h17.6l-8.8 19.4z"/><path d="M922.3 994h17.6l-8.8 19.4z"/><path d="M841.4 898.5h17.6l-8.8 19.4z"/><path d="M910.5 897.5h17.6l-8.8 19.4z"/><path d="M946.6 929.5h17.6l-8.8 19.4z"/><path d="M872.3 974.4h17.6l-8.8 19.4z"/><path d="M881.8 972.3h17.6l-8.8 19.4z"/><path d="M929.6 907h17.6l-8.8 19.4z"/><path d="M947.9 929.4h17.6l-8.8 19.4z"/><path d="M942 943.2h17.6l-8.8 19.4z"/><path d="M949.2 992.2h17.6l-8.8 19.4z"/><path d="M946.2 952.7h17.6l-8.8 19.4z"/><path d="M958.6 977.8h17.6l-8.8 19.4z"/><path d="M966.6 967.8h17.6l-8.8 19.4z"/><path d="M842.1 995.8h17.6l-8.8 19.4z"/><path d="M937.5 956.3h17.6l-8.8 19.4z"/><path d="M952.6 940.5h17.6l-8.8 19.4z"/><path d="M971.6 984h17.6l-8.8 19.4z"/><path d="M952 972.5h17.6l-8.8 19.4z"/><path d="M923.7 910.2h17.6l-8.8 19.4z"/><path d="M809.9 968.7h17.6l-8.8 19.4z"/><path d="M970.7 938.2h17.6l-8.8 19.4z"/><path d="M919.3 983.3h17.6l-8.8 19.4z"/><path d="M878.7 967h17.6l-8.8 19.4z"/><path d="M843.5 959.2h17.6l-8.8 19.4z"/><path d="M932.8 991.7h17.6l-8.8 19.4z"/><path d="M955 844h17.6l-8.8 19.4z"/><path d="M974.6 976.6h17.6l-8.8 19.4z"/><path d="M955.7 984.4h17.6l-8.8 19.4z"/><path d="M960 915.4h17.6l-8.8 19.4z"/><path d="M961.5 962.5h17.6l-8.8 19.4z"/><path d="M845.6 935h17.6l-8.8 19.4z"/><path d="M961.8 927h17.6l-8.8 19.4z"/><path d="M867.7 990.8h17.6l-8.8 19.4z"/><path d="M948.8 858h17.6l-8.8 19.4z"/><path d="M962.5 986.6h17.6l-8.8 19.4z"/><path d="M839.8 945.2h17.6l-8.8 19.4z"/><path d="M808.5 928.5h17.6l-8.8 19.4z"/><path d="M950.2 980.5h17.6l-8.8 19.4z"/><path d="M907.6 904.5h17.6l-8.8 19.4z"/><path d="M901.8 961.8h17.6l-8.8 19.4z"/><path d="M972.2 969h17.6l-8.8 19.4z"/><path d="M973.1 960.8h17.6l-8.8 19.4z"/><path d="M949.5 931h17.6l-8.8 19.4z"/><path d="M916.5 951.1h17.6l-8.8 19.4z"/><path d="M935.4 976.6h17.6l-8.8 19.4z"/><path d="M806.4 995.4h17.6l-8.8 19.4z"/><path d="M913.8 992.5h17.6l-8.8 19.4z"/><path d="M950 910.8h17.6l-8.8 19.4z"/><path d="M965 989.8h17.6l-8.8 19.4z"/><path d="M880.8 986.1h17.6l-8.8 19.4z"/><path d="M866.1 990.1h17.6l-8.8 19.4z"/><path d="M925.5 959.8h17.6l-8.8 19.4z"/><path d="M923.1 937.4h17.6l-8.8 19.4z"/><path d="M915.9 925.2h17.6l-8.8 19.4z"/><path d="M887.7 969.7h17.6l-8.8 19.4z"/><path d="M894.8 976.5h17.6l-8.8 19.4z"/><path d="M878.2 900.7h17.6l-8.8 19.4z"/><path d="M879.2 971.8h17.6l-8.8 19.4z"/><path d="M954.8 956.3h17.6l-8.8 19.4z"/><path d="M791 947.1h17.6l-8.8 19.4z"/><path d="M975.5 986.9h17.6l-8.8 19.4z"/><path d="M906.4 953.5h17.6l-8.8 19.4z"/><path d="M946.7 897.5h17.6l-8.8 19.4z"/><path d="M883.7 979.1h17.6l-8.8 19.4z"/><path d="M974.3 990.1h17.6l-8.8 19.4z"/><path d="M972.1 986.8h17.6l-8.8 19.4z"/><path d="M923.1 950.1h17.6l-8.8 19.4z"/><path d="M792.3 983h17.6l-8.8 19.4z"/><path d="M965.5 966.1h17.6l-8.8 19.4z"/><path d="M888.6 983.4h17.6l-8.8 19.4z"/><path d="M964.6 827.4h17.6l-8.8 19.4z"/><path d="M877.6 994.4h17.6l-8.8 19.4z"/><path d="M712.1 977.9h17.6l-8.8 19.4z"/><path d="M910 950.4h17.6l-8.8 19.4z"/><path d="M870.6 968.3h17.6l-8.8 19.4z"/><path d="M950.5 955.4h17.6l-8.8 19.4z"/><path d="M968.7 841.1h17.6l-8.8 19.4z"/><path d="M971.7 908.6h17.6l-8.8 19.4z"/><path d="M942.5 927.5h17.6l-8.8 19.4z"/><path d="M972.1 863.8h17.6l-8.8 19.4z"/><path d="M941.6 941.2h17.6l-8.8 19.4z"/><path d="M957.1 979.5h17.6l-8.8 19.4z"/><path d="M938.9 976.1h17.6l-8.8 19.4z"/><path d="M961.3 978.9h17.6l-8.8 19.4z"/><path d="M908.8 901.8h17.6l-8.8 19.4z"/><path d="M921 980.1h17.6l-8.8 19.4z"/><path d="M846 985h17.6l-8.8 19.4z"/><path d="M955.8 861.2h17.6l-8.8 19.4z"/><path d="M862.9 903.9h17.6l-8.8 19.4z"/><path d="M949.8 974.3h17.6l-8.8 19.4z"/><path d="M831.1 952.2h17.6l-8.8 19.4z"/><path d="M901 984.6h17.6l-8.8 19.4z"/><path d="M936.6 935.9h17.6l-8.8 19.4z"/><path d="M835.8 938.9h17.6l-8.8 19.4z"/><path d="M835.4 980.7h17.6l-8.8 19.4z"/><path d="M877.1 966.7h17.6l-8.8 19.4z"/><path d="M963 864.2h17.6l-8.8 19.4z"/><path d="M974.5 972.9h17.6l-8.8 19.4z"/><path d="M736.5 988.5h17.6l-8.8 19.4z"/><path d="M817.4 995.7h17.6l-8.8 19.4z"/><path d="M889 985.5h17.6l-8.8 19.4z"/><path d="M964 989.5h17.6l-8.8 19.4z"/><path d="M969.9 920.1h17.6l-8.8 19.4z"/><path d="M812.1 968.8h17.6l-8.8 19.4z"/><path d="M836.3 912.7h17.6l-8.8 19.4z"/><path d="M958.6 994.1h17.6l-8.8 19.4z"/><path d="M899.6 892h17.6l-8.8 19.4z"/><path d="M930.1 993.8h17.6l-8.8 19.4z"/><path d="M939.3 978.8h17.6l-8.8 19.4z"/><path d="M974.8 989h17.6l-8.8 19.4z"/><path d="M838.2 971.1h17.6l-8.8 19.4z"/><path d="M932.4 987.8h17.6l-8.8 19.4z"/><path d="M939.5 986.6h17.6l-8.8 19.4z"/><path d="M900.5 983.2h17.6l-8.8 19.4z"/><path d="M888.4 985.7h17.6l-8.8 19.4z"/><path d="M968.3 950.2h17.6l-8.8 19.4z"/><path d="M931.3 967.4h17.6l-8.8 19.4z"/><path d="M948 829.7h17.6l-8.8 19.4z"/><path d="M751.9 980.2h17.6l-8.8 19.4z"/><path d="M890.1 853.8h17.6l-8.8 19.4z"/><path d="M963.4 975.2h17.6l-8.8 19.4z"/><path d="M971.4 975.9h17.6l-8.8 19.4z"/><path d="M929.6 993.4h17.6l-8.8 19.4z"/><path d="M922.9 961.5h17.6l-8.8 19.4z"/><path d="M975.4 966.4h17.6l-8.8 19.4z"/><path d="M906.9 919h17.6l-8.8 19.4z"/><path d="M924.1 944.2h17.6l-8.8 19.4z"/><path d="M712 918.5h17.6l-8.8 19.4z"/><path d="M942.8 912.3h17.6l-8.8 19.4z"/><path d="M940.6 970.9h17.6l-8.8 19.4z"/><path d="M944.3 963.8h17.6l-8.8 19.4z"/><path d="M966 961.3h17.6l-8.8 19.4z"/><path d="M914.9 996h17.6l-8.8 19.4z"/><path d="M956.9 823.2h17.6l-8.8 19.4z"/><path d="M945.2 933.7h17.6l-8.8 19.4z"/><path d="M961.7 978h17.6l-8.8 19.4z"/><path d="M855 988.1h17.6l-8.8 19.4z"/><path d="M819.6 894.6h17.6l-8.8 19.4z"/><path d="M898.6 993h17.6l-8.8 19.4z"/><path d="M908.1 970.3h17.6l-8.8 19.4z"/><path d="M951.3 943.5h17.6l-8.8 19.4z"/><path d="M886.4 996.3h17.6l-8.8 19.4z"/><path d="M929.4 868.8h17.6l-8.8 19.4z"/><path d="M911.2 978.6h17.6l-8.8 19.4z"/><path d="M945 906h17.6l-8.8 19.4z"/><path d="M943.4 913.6h17.6l-8.8 19.4z"/><path d="M914 946.7h17.6l-8.8 19.4z"/><path d="M950.7 921.3h17.6l-8.8 19.4z"/><path d="M924.9 930.5h17.6l-8.8 19.4z"/><path d="M914.1 979.6h17.6l-8.8 19.4z"/><path d="M819.5 975.9h17.6l-8.8 19.4z"/><path d="M892.5 953.8h17.6l-8.8 19.4z"/><path d="M933.8 947.3h17.6l-8.8 19.4z"/><path d="M966.1 979.7h17.6l-8.8 19.4z"/><path d="M926.9 822.3h17.6l-8.8 19.4z"/><path d="M927.1 947.1h17.6l-8.8 19.4z"/><path d="M958.3 884.9h17.6l-8.8 19.4z"/><path d="M863.2 983.8h17.6l-8.8 19.4z"/><path d="M909.2 955.4h17.6l-8.8 19.4z"/><path d="M829.3 879.7h17.6l-8.8 19.4z"/><path d="M973.2 862h17.6l-8.8 19.4z"/><path d="M859.4 964.5h17.6l-8.8 19.4z"/><path d="M967.5 883.3h17.6l-8.8 19.4z"/><path d="M957.2 985.2h17.6l-8.8 19.4z"/><path d="M947.3 989.1h17.6l-8.8 19.4z"/><path d="M927.9 888.4h17.6l-8.8 19.4z"/><path d="M970.1 956.3h17.6l-8.8 19.4z"/><path d="M937.1 917.5h17.6l-8.8 19.4z"/><path d="M871.4 953.1h17.6l-8.8 19.4z"/><path d="M965.5 901.9h17.6l-8.8 19.4z"/><path d="M946.2 920.6h17.6l-8.8 19.4z"/><path d="M958.4 947.5h17.6l-8.8 19.4z"/><path d="M948.9 965.6h17.6l-8.8 19.4z"/><path d="M974.9 964.5h17.6l-8.8 19.4z"/><path d="M920.8 981.4h17.6l-8.8 19.4z"/><path d="M963.3 992.4h17.6l-8.8 19.4z"/><path d="M955.1 912.2h17.6l-8.8 19.4z"/><path d="M958 970.3h17.6l-8.8 19.4z"/><path d="M969.9 877h17.6l-8.8 19.4z"/><path d="M848 929.2h17.6l-8.8 19.4z"/><path d="M940.1 981.4h17.6l-8.8 19.4z"/><path d="M913.2 892h17.6l-8.8 19.4z"/><path d="M973.2 965.5h17.6l-8.8 19.4z"/><path d="M946.2 957.5h17.6l-8.8 19.4z"/><path d="M953.2 913.6h17.6l-8.8 19.4z"/><path d="M907.8 961.5h17.6l-8.8 19.4z"/><path d="M947.7 885.8h17.6l-8.8 19.4z"/><path d="M919.6 964h17.6l-8.8 19.4z"/><path d="M962.2 824.5h17.6l-8.8 19.4z"/><path d="M945.6 913.7h17.6l-8.8 19.4z"/><path d="M950 923.6h17.6l-8.8 19.4z"/><path d="M883.8 991.5h17.6l-8.8 19.4z"/><path d="M927.3 964.7h17.6l-8.8 19.4z"/><path d="M824.6 950.8h17.6l-8.8 19.4z"/><path d="M974.4 902.4h17.6l-8.8 19.4z"/><path d="M935.5 936.7h17.6l-8.8 19.4z"/><path d="M856.4 955.1h17.6l-8.8 19.4z"/><path d="M934.1 960.7h17.6l-8.8 19.4z"/><path d="M938.2 849.6h17.6l-8.8 19.4z"/><path d="M929.2 951.5h17.6l-8.8 19.4z"/><path d="M903.5 880.7h17.6l-8.8 19.4z"/><path d="M942.5 906.8h17.6l-8.8 19.4z"/><path d="M901.6 993.6h17.6l-8.8 19.4z"/><path d="M880.2 942.7h17.6l-8.8 19.4z"/><path d="M967.9 898.8h17.6l-8.8 19.4z"/><path d="M970.9 979.8h17.6l-8.8 19.4z"/><path d="M969.1 883.4h17.6l-8.8 19.4z"/><path d="M884.6 990.2h17.6l-8.8 19.4z"/><path d="M972.4 941.2h17.6l-8.8 19.4z"/><path d="M894.9 920.5h17.6l-8.8 19.4z"/><path d="M972.4 952.6h17.6l-8.8 19.4z"/><path d="M940.7 918.4h17.6l-8.8 19.4z"/><path d="M841.7 883.6h17.6l-8.8 19.4z"/><path d="M949.5 985.9h17.6l-8.8 19.4z"/><path d="M975.7 947.8h17.6l-8.8 19.4z"/><path d="M956.2 975h17.6l-8.8 19.4z"/><path d="M956.9 971.4h17.6l-8.8 19.4z"/><path d="M923 866.3h17.6l-8.8 19.4z"/><path d="M940.5 948.8h17.6l-8.8 19.4z"/><path d="M952.4 992.8h17.6l-8.8 19.4z"/><path d="M870.2 862.5h17.6l-8.8 19.4z"/><path d="M956.7 867.4h17.6l-8.8 19.4z"/><path d="M972.6 981.3h17.6l-8.8 19.4z"/><path d="M945.5 945.2h17.6l-8.8 19.4z"/><path d="M932.2 954.9h17.6l-8.8 19.4z"/><path d="M946.3 938.1h17.6l-8.8 19.4z"/><path d="M961.5 889h17.6l-8.8 19.4z"/><path d="M923 829.1h17.6l-8.8 19.4z"/><path d="M951.4 992.8h17.6l-8.8 19.4z"/><path d="M941.7 945.8h17.6l-8.8 19.4z"/><path d="M950.5 941.1h17.6l-8.8 19.4z"/><path d="M872.1 975.1h17.6l-8.8 19.4z"/><path d="M895 973.4h17.6l-8.8 19.4z"/><path d="M917.5 888.6h17.6l-8.8 19.4z"/><path d="M797.4 956.1h17.6l-8.8 19.4z"/><path d="M838.5 957.3h17.6l-8.8 19.4z"/><path d="M938.9 992.4h17.6l-8.8 19.4z"/><path d="M972.8 928.6h17.6l-8.8 19.4z"/><path d="M971.2 864.5h17.6l-8.8 19.4z"/><path d="M963.1 936.1h17.6l-8.8 19.4z"/><path d="M922.3 826.6h17.6l-8.8 19.4z"/><path d="M931 889.2h17.6l-8.8 19.4z"/><path d="M902.6 921.9h17.6l-8.8 19.4z"/><path d="M960.6 973.1h17.6l-8.8 19.4z"/><path d="M965.8 875.4h17.6l-8.8 19.4z"/><path d="M961 830.4h17.6l-8.8 19.4z"/><path d="M969.6 989.3h17.6l-8.8 19.4z"/><path d="M956.6 924.9h17.6l-8.8 19.4z"/><path d="M900.4 839.4h17.6l-8.8 19.4z"/><path d="M972.3 985.2h17.6l-8.8 19.4z"/><path d="M973.3 917.3h17.6l-8.8 19.4z"/><path d="M953.4 876.2h17.6l-8.8 19.4z"/><path d="M919 978.7h17.6l-8.8 19.4z"/><path d="M922.3 970.8h17.6l-8.8 19.4z"/><path d="M817.2 985.2h17.6l-8.8 19.4z"/><path d="M855.7 970.3h17.6l-8.8 19.4z"/><path d="M871 985.4h17.6l-8.8 19.4z"/><path d="M973.9 963.3h17.6l-8.8 19.4z"/><path d="M909.1 964.6h17.6l-8.8 19.4z"/><path d="M924.5 979.5h17.6l-8.8 19.4z"/><path d="M935.3 989.8h17.6l-8.8 19.4z"/><path d="M939.4 909.8h17.6l-8.8 19.4z"/><path d="M968.2 920.9h17.6l-8.8 19.4z"/><path d="M967.6 879.3h17.6l-8.8 19.4z"/><path d="M953.6 946.7h17.6l-8.8 19.4z"/><path d="M885.3 967.9h17.6l-8.8 19.4z"/><path d="M802.3 950.8h17.6l-8.8 19.4z"/><path d="M932.7 989.8h17.6l-8.8 19.4z"/><path d="M916.5 863.9h17.6l-8.8 19.4z"/><path d="M970.1 944.7h17.6l-8.8 19.4z"/><path d="M955.4 986.3h17.6l-8.8 19.4z"/><path d="M974 824.7h17.6l-8.8 19.4z"/><path d="M752.2 935.7h17.6l-8.8 19.4z"/><path d="M787.1 968.3h17.6l-8.8 19.4z"/><path d="M972.8 925.4h17.6l-8.8 19.4z"/><path d="M937.1 969.4h17.6l-8.8 19.4z"/><path d="M887.4 977.5h17.6l-8.8 19.4z"/><path d="M874.7 983.2h17.6l-8.8 19.4z"/><path d="M971.4 972.8h17.6l-8.8 19.4z"/><path d="M969.5 941.9h17.6l-8.8 19.4z"/><path d="M874.6 943.1h17.6l-8.8 19.4z"/><path d="M935.6 936.2h17.6l-8.8 19.4z"/><path d="M929 994.1h17.6l-8.8 19.4z"/><path d="M908 989.5h17.6l-8.8 19.4z"/><path d="M919.7 986.9h17.6l-8.8 19.4z"/><path d="M945.4 967.4h17.6l-8.8 19.4z"/><path d="M964.4 924.1h17.6l-8.8 19.4z"/><path d="M790.3 984h17.6l-8.8 19.4z"/><path d="M855.3 969.6h17.6l-8.8 19.4z"/><path d="M933.3 859.1h17.6l-8.8 19.4z"/><path d="M969.7 985.6h17.6l-8.8 19.4z"/><path d="M968 856.1h17.6l-8.8 19.4z"/><path d="M925.9 950.8h17.6l-8.8 19.4z"/><path d="M934.9 988h17.6l-8.8 19.4z"/><path d="M926 984.4h17.6l-8.8 19.4z"/><path d="M946.2 949.4h17.6l-8.8 19.4z"/><path d="M942.3 981.7h17.6l-8.8 19.4z"/><path d="M967.2 981.2h17.6l-8.8 19.4z"/><path d="M841.9 978.1h17.6l-8.8 19.4z"/><path d="M831.3 950.1h17.6l-8.8 19.4z"/><path d="M788.3 995.3h17.6l-8.8 19.4z"/><path d="M873.7 951.8h17.6l-8.8 19.4z"/><path d="M899.7 940.2h17.6l-8.8 19.4z"/><path d="M885.4 979h17.6l-8.8 19.4z"/><path d="M956.1 985.3h17.6l-8.8 19.4z"/><path d="M943.4 994.2h17.6l-8.8 19.4z"/><path d="M953.5 947.9h17.6l-8.8 19.4z"/><path d="M970.4 849.5h17.6l-8.8 19.4z"/><path d="M958.7 939h17.6l-8.8 19.4z"/><path d="M875.9 936.3h17.6l-8.8 19.4z"/><path d="M971.9 914h17.6l-8.8 19.4z"/><path d="M916.3 977.6h17.6l-8.8 19.4z"/><path d="M913.1 993.5h17.6l-8.8 19.4z"/><path d="M865.8 918.2h17.6l-8.8 19.4z"/><path d="M867.3 968.5h17.6l-8.8 19.4z"/><path d="M810.2 955.2h17.6l-8.8 19.4z"/><path d="M791.7 995.6h17.6l-8.8 19.4z"/><path d="M941.9 961.1h17.6l-8.8 19.4z"/><path d="M957.7 990.2h17.6l-8.8 19.4z"/><path d="M901.8 908.5h17.6l-8.8 19.4z"/><path d="M948.5 985.4h17.6l-8.8 19.4z"/><path d="M961.7 986.3h17.6l-8.8 19.4z"/><path d="M949.8 979.9h17.6l-8.8 19.4z"/><path d="M933.4 892.2h17.6l-8.8 19.4z"/><path d="M877.3 950.7h17.6l-8.8 19.4z"/><path d="M911.9 981.6h17.6l-8.8 19.4z"/><path d="M875.1 872.2h17.6l-8.8 19.4z"/><path d="M893.4 989.9h17.6l-8.8 19.4z"/><path d="M964.5 967.8h17.6l-8.8 19.4z"/><path d="M886.6 922.2h17.6l-8.8 19.4z"/><path d="M860.8 986.7h17.6l-8.8 19.4z"/><path d="M886.7 840.2h17.6l-8.8 19.4z"/><path d="M870.1 877.7h17.6l-8.8 19.4z"/><path d="M938.7 937.1h17.6l-8.8 19.4z"/><path d="M875.7 880.5h17.6l-8.8 19.4z"/><path d="M952.9 860.4h17.6l-8.8 19.4z"/><path d="M785.2 946h17.6l-8.8 19.4z"/><path d="M750 988.2h17.6l-8.8 19.4z"/><path d="M957.1 893.5h17.6l-8.8 19.4z"/><path d="M958.8 875.3h17.6l-8.8 19.4z"/><path d="M936.1 981.7h17.6l-8.8 19.4z"/><path d="M931.7 978.4h17.6l-8.8 19.4z"/><path d="M900.5 837.8h17.6l-8.8 19.4z"/><path d="M943.6 914h17.6l-8.8 19.4z"/><path d="M872.9 894.6h17.6l-8.8 19.4z"/><path d="M790.2 920.1h17.6l-8.8 19.4z"/><path d="M942 880.3h17.6l-8.8 19.4z"/><path d="M907 990.3h17.6l-8.8 19.4z"/><path d="M949 876.2h17.6l-8.8 19.4z"/><path d="M857.7 936.3h17.6l-8.8 19.4z"/><path d="M975.8 891.8h17.6l-8.8 19.4z"/><path d="M975 951.7h17.6l-8.8 19.4z"/><path d="M866.6 988.5h17.6l-8.8 19.4z"/><path d="M915.4 960.3h17.6l-8.8 19.4z"/><path d="M949.4 955.7h17.6l-8.8 19.4z"/><path d="M947.6 980.4h17.6l-8.8 19.4z"/><path d="M912.9 872.7h17.6l-8.8 19.4z"/><path d="M970.1 973.4h17.6l-8.8 19.4z"/><path d="M897.1 975.3h17.6l-8.8 19.4z"/><path d="M905.3 957.6h17.6l-8.8 19.4z"/><path d="M967.7 887.1h17.6l-8.8 19.4z"/><path d="M973.3 920.1h17.6l-8.8 19.4z"/><path d="M962.8 881.4h17.6l-8.8 19.4z"/><path d="M769.2 975.3h17.6l-8.8 19.4z"/><path d="M959.5 966.5h17.6l-8.8 19.4z"/><path d="M914.5 849.9h17.6l-8.8 19.4z"/><path d="M943.3 847.4h17.6l-8.8 19.4z"/><path d="M772.1 950.4h17.6l-8.8 19.4z"/><path d="M859.9 982.4h17.6l-8.8 19.4z"/><path d="M927.1 984.6h17.6l-8.8 19.4z"/><path d="M963.5 996.3h17.6l-8.8 19.4z"/><path d="M867.7 956.1h17.6l-8.8 19.4z"/><path d="M947.7 977.2h17.6l-8.8 19.4z"/><path d="M923.5 989.3h17.6l-8.8 19.4z"/><path d="M928.9 864.7h17.6l-8.8 19.4z"/><path d="M803.4 964.9h17.6l-8.8 19.4z"/><path d="M904.3 847.4h17.6l-8.8 19.4z"/><path d="M912.1 991.1h17.6l-8.8 19.4z"/><path d="M769 957.3h17.6l-8.8 19.4z"/><path d="M905.3 966.5h17.6l-8.8 19.4z"/><path d="M945.3 930h17.6l-8.8 19.4z"/><path d="M902.3 947.3h17.6l-8.8 19.4z"/><path d="M931 838.5h17.6l-8.8 19.4z"/><path d="M731.6 966.3h17.6l-8.8 19.4z"/><path d="M858.3 992.4h17.6l-8.8 19.4z"/><path d="M922.8 919.9h17.6l-8.8 19.4z"/><path d="M885.1 956.9h17.6l-8.8 19.4z"/><path d="M890.7 849.1h17.6l-8.8 19.4z"/><path d="M973.8 904.3h17.6l-8.8 19.4z"/><path d="M966.5 970.2h17.6l-8.8 19.4z"/><path d="M965.9 848.9h17.6l-8.8 19.4z"/><path d="M919.9 937.5h17.6l-8.8 19.4z"/><path d="M943.5 993.2h17.6l-8.8 19.4z"/><path d="M909 905h17.6l-8.8 19.4z"/><path d="M882.1 974.4h17.6l-8.8 19.4z"/><path d="M924.7 973.5h17.6l-8.8 19.4z"/><path d="M726 960.1h17.6l-8.8 19.4z"/><path d="M869.2 926.9h17.6l-8.8 19.4z"/><path d="M944.8 921.4h17.6l-8.8 19.4z"/><path d="M899.3 914.2h17.6l-8.8 19.4z"/><path d="M964.6 974.8h17.6l-8.8 19.4z"/><path d="M861.8 939.5h17.6l-8.8 19.4z"/><path d="M948.2 891.5h17.6l-8.8 19.4z"/><path d="M928.6 986.3h17.6l-8.8 19.4z"/><path d="M964.5 857h17.6l-8.8 19.4z"/><path d="M963.9 907.3h17.6l-8.8 19.4z"/><path d="M972.5 971.5h17.6l-8.8 19.4z"/><path d="M944.5 972.9h17.6l-8.8 19.4z"/><path d="M951.9 982.6h17.6l-8.8 19.4z"/><path d="M950.8 981.7h17.6l-8.8 19.4z"/><path d="M968.6 958h17.6l-8.8 19.4z"/><path d="M943.4 976.3h17.6l-8.8 19.4z"/><path d="M759.4 964h17.6l-8.8 19.4z"/><path d="M961.2 975.7h17.6l-8.8 19.4z"/><path d="M937 837.3h17.6l-8.8 19.4z"/><path d="M909.8 875.8h17.6l-8.8 19.4z"/><path d="M951.4 896.2h17.6l-8.8 19.4z"/><path d="M883.5 985.4h17.6l-8.8 19.4z"/><path d="M922.6 954.1h17.6l-8.8 19.4z"/><path d="M884.7 922.6h17.6l-8.8 19.4z"/><path d="M946.6 974.9h17.6l-8.8 19.4z"/><path d="M926.8 830.7h17.6l-8.8 19.4z"/><path d="M911 973.7h17.6l-8.8 19.4z"/><path d="M879.6 976.4h17.6l-8.8 19.4z"/><path d="M861.5 993.5h17.6l-8.8 19.4z"/><path d="M947.6 940.8h17.6l-8.8 19.4z"/><path d="M957.9 975.8h17.6l-8.8 19.4z"/><path d="M924.1 991.5h17.6l-8.8 19.4z"/><path d="M902 903.3h17.6l-8.8 19.4z"/><path d="M868.2 961h17.6l-8.8 19.4z"/><path d="M952.1 988.5h17.6l-8.8 19.4z"/><path d="M752.4 927.6h17.6l-8.8 19.4z"/><path d="M899.1 929.6h17.6l-8.8 19.4z"/><path d="M943.3 897.4h17.6l-8.8 19.4z"/><path d="M948.8 906.3h17.6l-8.8 19.4z"/><path d="M868.9 963.2h17.6l-8.8 19.4z"/><path d="M930.4 992.6h17.6l-8.8 19.4z"/><path d="M757.9 985.6h17.6l-8.8 19.4z"/><path d="M897.8 982.9h17.6l-8.8 19.4z"/><path d="M729.7 993.6h17.6l-8.8 19.4z"/><path d="M932.1 995h17.6l-8.8 19.4z"/><path d="M919.4 986.2h17.6l-8.8 19.4z"/><path d="M773 982.9h17.6l-8.8 19.4z"/><path d="M884.4 988.2h17.6l-8.8 19.4z"/><path d="M885.5 990.8h17.6l-8.8 19.4z"/><path d="M778.1 980.5h17.6l-8.8 19.4z"/><path d="M782.3 993.3h17.6l-8.8 19.4z"/><path d="M857.8 981.2h17.6l-8.8 19.4z"/><path d="M902.3 978.3h17.6l-8.8 19.4z"/><path d="M732.6 981.4h17.6l-8.8 19.4z"/><path d="M793.2 983.3h17.6l-8.8 19.4z"/><path d="M751.9 993.7h17.6l-8.8 19.4z"/><path d="M846.7 982.2h17.6l-8.8 19.4z"/><path d="M875.4 990.8h17.6l-8.8 19.4z"/><path d="M968.7 984.2h17.6l-8.8 19.4z"/><path d="M791.3 990.8h17.6l-8.8 19.4z"/><path d="M950.6 991.8h17.6l-8.8 19.4z"/><path d="M965.6 982.7h17.6l-8.8 19.4z"/><path d="M803.9 989.1h17.6l-8.8 19.4z"/><path d="M848.3 994.9h17.6l-8.8 19.4z"/><path d="M782.2 989.8h17.6l-8.8 19.4z"/><path d="M975.8 983.7h17.6l-8.8 19.4z"/><path d="M960.2 990.8h17.6l-8.8 19.4z"/><path d="M969.6 987.4h17.6l-8.8 19.4z"/><path d="M890.1 980.1h17.6l-8.8 19.4z"/><path d="M971.8 979.7h17.6l-8.8 19.4z"/><path d="M963.7 991.8h17.6l-8.8 19.4z"/><path d="M870.6 989.5h17.6l-8.8 19.4z"/><path d="M933.4 984.9h17.6l-8.8 19.4z"/><path d="M950 980.4h17.6l-8.8 19.4z"/><path d="M951.2 979.4h17.6l-8.8 19.4z"/><path d="M800.3 985.5h17.6l-8.8 19.4z"/><path d="M972.8 980.7h17.6l-8.8 19.4z"/><path d="M973.1 986.2h17.6l-8.8 19.4z"/><path d="M917.5 995.1h17.6l-8.8 19.4z"/><path d="M870.4 981.8h17.6l-8.8 19.4z"/><path d="M882.6 988.3h17.6l-8.8 19.4z"/><path d="M899.8 984.5h17.6l-8.8 19.4z"/><path d="M948.8 978.9h17.6l-8.8 19.4z"/><path d="M802.8 977h17.6l-8.8 19.4z"/><path d="M933.6 976.5h17.6l-8.8 19.4z"/><path d="M968.2 986.7h17.6l-8.8 19.4z"/><path d="M960.9 987.2h17.6l-8.8 19.4z"/><path d="M854.1 982.1h17.6l-8.8 19.4z"/><path d="M911.7 989.5h17.6l-8.8 19.4z"/><path d="M953.7 988.2h17.6l-8.8 19.4z"/><path d="M940.8 992.4h17.6l-8.8 19.4z"/><path d="M834.5 985.9h17.6l-8.8 19.4z"/><path d="M914.7 992.4h17.6l-8.8 19.4z"/><path d="M846.8 992.4h17.6l-8.8 19.4z"/><path d="M943.3 985.1h17.6l-8.8 19.4z"/><path d="M847.7 976.8h17.6l-8.8 19.4z"/><path d="M829.7 977.3h17.6l-8.8 19.4z"/><path d="M707.7 981.8h17.6l-8.8 19.4z"/><path d="M841 995.1h17.6l-8.8 19.4z"/><path d="M951.6 996.1h17.6l-8.8 19.4z"/><path d="M764.4 981.8h17.6l-8.8 19.4z"/><path d="M870.4 991h17.6l-8.8 19.4z"/><path d="M929.4 993h17.6l-8.8 19.4z"/><path d="M869.8 976.4h17.6l-8.8 19.4z"/><path d="M937.3 995.4h17.6l-8.8 19.4z"/><path d="M955.6 989.2h17.6l-8.8 19.4z"/><path d="M732.4 980.1h17.6l-8.8 19.4z"/><path d="M911.6 994.3h17.6l-8.8 19.4z"/>
</g>
<g fill="#34761f" fill-opacity="0.5">
<path d="M777.2 308.3h17.6l-8.8 19.4z"/><path d="M830.5 341.9h17.6l-8.8 19.4z"/><path d="M588.1 585.6h17.6l-8.8 19.4z"/><path d="M606.6 591.8h17.6l-8.8 19.4z"/><path d="M788.2 585.6h17.6l-8.8 19.4z"/><path d="M889.5 558.3h17.6l-8.8 19.4z"/><path d="M877.2 594.3h17.6l-8.8 19.4z"/><path d="M834.2 602.3h17.6l-8.8 19.4z"/><path d="M846.2 612h17.6l-8.8 19.4z"/><path d="M790.5 621.7h17.6l-8.8 19.4z"/><path d="M931.2 624.3h17.6l-8.8 19.4z"/><path d="M972.2 620.8h17.6l-8.8 19.4z"/><path d="M889 634.9h17.6l-8.8 19.4z"/><path d="M846.2 647.3h17.6l-8.8 19.4z"/><path d="M891.2 657.3h17.6l-8.8 19.4z"/><path d="M854.2 674.9h17.6l-8.8 19.4z"/><path d="M881.5 670.5h17.6l-8.8 19.4z"/><path d="M883.7 682.8h17.6l-8.8 19.4z"/><path d="M934.3 672.7h17.6l-8.8 19.4z"/><path d="M946.7 672.7h17.6l-8.8 19.4z"/><path d="M894.7 704.8h17.6l-8.8 19.4z"/><path d="M910.2 696.9h17.6l-8.8 19.4z"/><path d="M971.7 696.9h17.6l-8.8 19.4z"/><path d="M866.2 712.3h17.6l-8.8 19.4z"/><path d="M819.9 734.3h17.6l-8.8 19.4z"/><path d="M870.5 738.7h17.6l-8.8 19.4z"/><path d="M778.2 746.2h17.6l-8.8 19.4z"/><path d="M793.5 755h17.6l-8.8 19.4z"/><path d="M769.4 777.4h17.6l-8.8 19.4z"/><path d="M673.9 780.5h17.6l-8.8 19.4z"/><path d="M672.6 791.5h17.6l-8.8 19.4z"/><path d="M860.4 786.2h17.6l-8.8 19.4z"/><path d="M874.9 794.6h17.6l-8.8 19.4z"/><path d="M839.7 801.6h17.6l-8.8 19.4z"/><path d="M703.4 817h17.6l-8.8 19.4z"/><path d="M769.4 812.6h17.6l-8.8 19.4z"/><path d="M782.6 823.6h17.6l-8.8 19.4z"/><path d="M684.4 838.6h17.6l-8.8 19.4z"/><path d="M707.8 836.8h17.6l-8.8 19.4z"/><path d="M715.7 838.6h17.6l-8.8 19.4z"/><path d="M670.4 863.2h17.6l-8.8 19.4z"/><path d="M742.1 854.4h17.6l-8.8 19.4z"/><path d="M712.2 879.5h17.6l-8.8 19.4z"/><path d="M710 890.5h17.6l-8.8 19.4z"/><path d="M627.2 892.7h17.6l-8.8 19.4z"/><path d="M616.7 905.9h17.6l-8.8 19.4z"/><path d="M582.4 915.5h17.6l-8.8 19.4z"/><path d="M474.6 918.2h17.6l-8.8 19.4z"/><path d="M468 936.7h17.6l-8.8 19.4z"/><path d="M787 892.7h17.6l-8.8 19.4z"/><path d="M701.2 921.3h17.6l-8.8 19.4z"/><path d="M718.8 914.7h17.6l-8.8 19.4z"/><path d="M736.4 934.5h17.6l-8.8 19.4z"/><path d="M550.7 964.3h17.6l-8.8 19.4z"/><path d="M556 958.7h17.6l-8.8 19.4z"/><path d="M569.2 974.1h17.6l-8.8 19.4z"/><path d="M584.6 980.7h17.6l-8.8 19.4z"/><path d="M589 980.7h17.6l-8.8 19.4z"/><path d="M606.6 974.9h17.6l-8.8 19.4z"/><path d="M622 977.6h17.6l-8.8 19.4z"/><path d="M485.6 996.1h17.6l-8.8 19.4z"/><path d="M606.6 996.9h17.6l-8.8 19.4z"/><path d="M650.6 988.6h17.6l-8.8 19.4z"/><path d="M674.8 995.2h17.6l-8.8 19.4z"/><path d="M685.8 982.9h17.6l-8.8 19.4z"/><path d="M715.7 960h17.6l-8.8 19.4z"/>
</g>
<g fill="#e8532f" fill-opacity="0.46">
<path d="M1167.5 1006h17.6l-8.8 -19.4z"/><path d="M1186.7 922.1h17.6l-8.8 -19.4z"/><path d="M1166.3 908.6h17.6l-8.8 -19.4z"/><path d="M1194.6 1005.8h17.6l-8.8 -19.4z"/><path d="M1170.3 970h17.6l-8.8 -19.4z"/><path d="M1161.6 995.3h17.6l-8.8 -19.4z"/><path d="M1211.3 868.2h17.6l-8.8 -19.4z"/><path d="M1214.6 978.1h17.6l-8.8 -19.4z"/><path d="M1229 983.5h17.6l-8.8 -19.4z"/><path d="M1166.6 901.7h17.6l-8.8 -19.4z"/><path d="M1170.5 1012h17.6l-8.8 -19.4z"/><path d="M1180.2 959.7h17.6l-8.8 -19.4z"/><path d="M1233.2 1012.2h17.6l-8.8 -19.4z"/><path d="M1186.2 919.7h17.6l-8.8 -19.4z"/><path d="M1250.6 1010.1h17.6l-8.8 -19.4z"/><path d="M1163.7 966.7h17.6l-8.8 -19.4z"/><path d="M1200.7 989.2h17.6l-8.8 -19.4z"/><path d="M1187.8 882.1h17.6l-8.8 -19.4z"/><path d="M1170.1 951.2h17.6l-8.8 -19.4z"/><path d="M1257.3 996h17.6l-8.8 -19.4z"/><path d="M1165.2 983.7h17.6l-8.8 -19.4z"/><path d="M1166.2 958.8h17.6l-8.8 -19.4z"/><path d="M1185.6 999.3h17.6l-8.8 -19.4z"/><path d="M1202 959.6h17.6l-8.8 -19.4z"/><path d="M1184.4 938.7h17.6l-8.8 -19.4z"/><path d="M1213.4 1008.6h17.6l-8.8 -19.4z"/><path d="M1186.7 1009.5h17.6l-8.8 -19.4z"/><path d="M1206.4 981.9h17.6l-8.8 -19.4z"/><path d="M1171.9 937.3h17.6l-8.8 -19.4z"/><path d="M1208.8 949.5h17.6l-8.8 -19.4z"/><path d="M1166.9 974.3h17.6l-8.8 -19.4z"/><path d="M1198.1 868.1h17.6l-8.8 -19.4z"/><path d="M1171.8 1008.9h17.6l-8.8 -19.4z"/><path d="M1181 997.1h17.6l-8.8 -19.4z"/><path d="M1231.7 919.1h17.6l-8.8 -19.4z"/><path d="M1216 952.1h17.6l-8.8 -19.4z"/><path d="M1164.7 1010.4h17.6l-8.8 -19.4z"/><path d="M1162.3 914.8h17.6l-8.8 -19.4z"/><path d="M1171.9 1009.8h17.6l-8.8 -19.4z"/><path d="M1170.8 851.7h17.6l-8.8 -19.4z"/><path d="M1269.6 945.5h17.6l-8.8 -19.4z"/><path d="M1263.6 951.4h17.6l-8.8 -19.4z"/><path d="M1167.5 994.4h17.6l-8.8 -19.4z"/><path d="M1218.5 1011.7h17.6l-8.8 -19.4z"/><path d="M1308.6 1006.2h17.6l-8.8 -19.4z"/><path d="M1169.1 938.1h17.6l-8.8 -19.4z"/><path d="M1167.9 913.5h17.6l-8.8 -19.4z"/><path d="M1165.3 969.5h17.6l-8.8 -19.4z"/><path d="M1250.8 919.5h17.6l-8.8 -19.4z"/><path d="M1160.8 863h17.6l-8.8 -19.4z"/><path d="M1193.9 897.7h17.6l-8.8 -19.4z"/><path d="M1189.2 908.8h17.6l-8.8 -19.4z"/><path d="M1197.6 954.4h17.6l-8.8 -19.4z"/><path d="M1164 915.8h17.6l-8.8 -19.4z"/><path d="M1192.9 1009.4h17.6l-8.8 -19.4z"/><path d="M1181.4 992h17.6l-8.8 -19.4z"/><path d="M1216.6 1012.3h17.6l-8.8 -19.4z"/><path d="M1233.1 1011.3h17.6l-8.8 -19.4z"/><path d="M1185.7 912.1h17.6l-8.8 -19.4z"/><path d="M1203.6 1004.9h17.6l-8.8 -19.4z"/><path d="M1183.6 998.8h17.6l-8.8 -19.4z"/><path d="M1314 1005.7h17.6l-8.8 -19.4z"/><path d="M1178.5 965.1h17.6l-8.8 -19.4z"/><path d="M1214.2 1006.8h17.6l-8.8 -19.4z"/><path d="M1175.4 985.1h17.6l-8.8 -19.4z"/><path d="M1167.2 926h17.6l-8.8 -19.4z"/><path d="M1317.8 956.5h17.6l-8.8 -19.4z"/><path d="M1163.9 1012.4h17.6l-8.8 -19.4z"/><path d="M1208.9 1005.5h17.6l-8.8 -19.4z"/><path d="M1190.7 957.7h17.6l-8.8 -19.4z"/><path d="M1182.1 976.1h17.6l-8.8 -19.4z"/><path d="M1203.4 955.8h17.6l-8.8 -19.4z"/><path d="M1214.6 863h17.6l-8.8 -19.4z"/><path d="M1234.9 865.5h17.6l-8.8 -19.4z"/><path d="M1207.4 1010.9h17.6l-8.8 -19.4z"/><path d="M1183.7 898.3h17.6l-8.8 -19.4z"/><path d="M1168.8 885.7h17.6l-8.8 -19.4z"/><path d="M1184.5 840.1h17.6l-8.8 -19.4z"/><path d="M1175.3 995.2h17.6l-8.8 -19.4z"/><path d="M1176.7 986.9h17.6l-8.8 -19.4z"/><path d="M1184.6 1006.8h17.6l-8.8 -19.4z"/><path d="M1270.7 948.7h17.6l-8.8 -19.4z"/><path d="M1234.8 926.1h17.6l-8.8 -19.4z"/><path d="M1173.8 928.5h17.6l-8.8 -19.4z"/><path d="M1182.4 995.4h17.6l-8.8 -19.4z"/><path d="M1171.4 1011.5h17.6l-8.8 -19.4z"/><path d="M1221.7 924h17.6l-8.8 -19.4z"/><path d="M1232.1 1006.1h17.6l-8.8 -19.4z"/><path d="M1201 990.1h17.6l-8.8 -19.4z"/><path d="M1192.2 985.2h17.6l-8.8 -19.4z"/><path d="M1191.6 1002.2h17.6l-8.8 -19.4z"/><path d="M1192.3 949.4h17.6l-8.8 -19.4z"/><path d="M1182.1 845h17.6l-8.8 -19.4z"/><path d="M1174.5 998.4h17.6l-8.8 -19.4z"/><path d="M1161.2 869.7h17.6l-8.8 -19.4z"/><path d="M1212.1 994.6h17.6l-8.8 -19.4z"/><path d="M1184.2 1001.1h17.6l-8.8 -19.4z"/><path d="M1208.7 942.7h17.6l-8.8 -19.4z"/><path d="M1217.9 930.1h17.6l-8.8 -19.4z"/><path d="M1172.8 995.5h17.6l-8.8 -19.4z"/><path d="M1208.7 1011.1h17.6l-8.8 -19.4z"/><path d="M1173 998.6h17.6l-8.8 -19.4z"/><path d="M1197.3 950.6h17.6l-8.8 -19.4z"/><path d="M1197.9 948.4h17.6l-8.8 -19.4z"/><path d="M1175.5 941.1h17.6l-8.8 -19.4z"/><path d="M1163.5 1008.8h17.6l-8.8 -19.4z"/><path d="M1179 1011.9h17.6l-8.8 -19.4z"/><path d="M1165.6 1003.5h17.6l-8.8 -19.4z"/><path d="M1220.7 993.5h17.6l-8.8 -19.4z"/><path d="M1165 1001h17.6l-8.8 -19.4z"/><path d="M1182.2 991h17.6l-8.8 -19.4z"/><path d="M1184.8 942.2h17.6l-8.8 -19.4z"/><path d="M1164.8 934.1h17.6l-8.8 -19.4z"/><path d="M1177.8 850.3h17.6l-8.8 -19.4z"/><path d="M1162 905h17.6l-8.8 -19.4z"/><path d="M1171.2 906.3h17.6l-8.8 -19.4z"/><path d="M1227.1 896.2h17.6l-8.8 -19.4z"/><path d="M1174 945.7h17.6l-8.8 -19.4z"/><path d="M1169.3 1012.2h17.6l-8.8 -19.4z"/><path d="M1167.7 870.8h17.6l-8.8 -19.4z"/><path d="M1196.8 947.8h17.6l-8.8 -19.4z"/><path d="M1168.8 947.5h17.6l-8.8 -19.4z"/><path d="M1164.9 1003.4h17.6l-8.8 -19.4z"/><path d="M1203.9 983.6h17.6l-8.8 -19.4z"/><path d="M1171 961.9h17.6l-8.8 -19.4z"/><path d="M1161.3 1008.7h17.6l-8.8 -19.4z"/><path d="M1166.4 897.2h17.6l-8.8 -19.4z"/><path d="M1213.1 985.5h17.6l-8.8 -19.4z"/><path d="M1224.1 1003.8h17.6l-8.8 -19.4z"/><path d="M1179.3 995.3h17.6l-8.8 -19.4z"/><path d="M1165.5 968.1h17.6l-8.8 -19.4z"/><path d="M1225.7 995.6h17.6l-8.8 -19.4z"/><path d="M1180.3 992.5h17.6l-8.8 -19.4z"/><path d="M1171 925.4h17.6l-8.8 -19.4z"/><path d="M1170.8 999.8h17.6l-8.8 -19.4z"/><path d="M1179.3 983.5h17.6l-8.8 -19.4z"/><path d="M1186.8 950.9h17.6l-8.8 -19.4z"/><path d="M1162.8 889.8h17.6l-8.8 -19.4z"/><path d="M1234.7 947h17.6l-8.8 -19.4z"/><path d="M1161.9 996.6h17.6l-8.8 -19.4z"/><path d="M1165.7 978h17.6l-8.8 -19.4z"/><path d="M1211.5 975.6h17.6l-8.8 -19.4z"/><path d="M1165.8 1006.8h17.6l-8.8 -19.4z"/><path d="M1168.5 973.4h17.6l-8.8 -19.4z"/><path d="M1184.4 997h17.6l-8.8 -19.4z"/><path d="M1163.6 1005.2h17.6l-8.8 -19.4z"/><path d="M1186.6 985.7h17.6l-8.8 -19.4z"/><path d="M1216.4 997.6h17.6l-8.8 -19.4z"/><path d="M1244.2 962.8h17.6l-8.8 -19.4z"/><path d="M1165.4 895h17.6l-8.8 -19.4z"/><path d="M1242.5 1001.5h17.6l-8.8 -19.4z"/><path d="M1164.2 998.4h17.6l-8.8 -19.4z"/><path d="M1266.1 994.2h17.6l-8.8 -19.4z"/><path d="M1214.4 975.5h17.6l-8.8 -19.4z"/><path d="M1185.4 1008.1h17.6l-8.8 -19.4z"/><path d="M1170.1 989.7h17.6l-8.8 -19.4z"/><path d="M1179 947.1h17.6l-8.8 -19.4z"/><path d="M1330.2 1005.1h17.6l-8.8 -19.4z"/><path d="M1168.8 973.1h17.6l-8.8 -19.4z"/><path d="M1204 1012.1h17.6l-8.8 -19.4z"/><path d="M1161.7 969.2h17.6l-8.8 -19.4z"/><path d="M1215.8 974.4h17.6l-8.8 -19.4z"/><path d="M1171.6 966.3h17.6l-8.8 -19.4z"/><path d="M1198.7 971.1h17.6l-8.8 -19.4z"/><path d="M1167.1 949.2h17.6l-8.8 -19.4z"/><path d="M1279.7 914.5h17.6l-8.8 -19.4z"/><path d="M1179.4 895.3h17.6l-8.8 -19.4z"/><path d="M1168.9 872.1h17.6l-8.8 -19.4z"/><path d="M1197.9 997.3h17.6l-8.8 -19.4z"/><path d="M1164.2 872.8h17.6l-8.8 -19.4z"/><path d="M1162.2 998h17.6l-8.8 -19.4z"/><path d="M1166.9 977.9h17.6l-8.8 -19.4z"/><path d="M1217.2 1000h17.6l-8.8 -19.4z"/><path d="M1275.3 960h17.6l-8.8 -19.4z"/><path d="M1207.2 981.8h17.6l-8.8 -19.4z"/><path d="M1281.9 1012h17.6l-8.8 -19.4z"/><path d="M1187.2 996.8h17.6l-8.8 -19.4z"/><path d="M1281.8 969.5h17.6l-8.8 -19.4z"/><path d="M1170.7 954.2h17.6l-8.8 -19.4z"/><path d="M1169.9 904.4h17.6l-8.8 -19.4z"/><path d="M1171.2 976h17.6l-8.8 -19.4z"/><path d="M1182 989.4h17.6l-8.8 -19.4z"/><path d="M1205.8 987.4h17.6l-8.8 -19.4z"/><path d="M1179.8 1011.4h17.6l-8.8 -19.4z"/><path d="M1232.7 1002.1h17.6l-8.8 -19.4z"/><path d="M1198.9 1012.8h17.6l-8.8 -19.4z"/><path d="M1185.4 994.8h17.6l-8.8 -19.4z"/><path d="M1211.5 963h17.6l-8.8 -19.4z"/><path d="M1171.9 1003.8h17.6l-8.8 -19.4z"/><path d="M1292.6 1005h17.6l-8.8 -19.4z"/><path d="M1166.7 1003h17.6l-8.8 -19.4z"/><path d="M1196.3 968.2h17.6l-8.8 -19.4z"/><path d="M1163.1 881.4h17.6l-8.8 -19.4z"/><path d="M1168.2 996.7h17.6l-8.8 -19.4z"/><path d="M1185.3 959.6h17.6l-8.8 -19.4z"/><path d="M1250.3 981.1h17.6l-8.8 -19.4z"/><path d="M1241.1 947.4h17.6l-8.8 -19.4z"/><path d="M1277.1 993.9h17.6l-8.8 -19.4z"/><path d="M1162.8 981.2h17.6l-8.8 -19.4z"/><path d="M1165.2 864.2h17.6l-8.8 -19.4z"/><path d="M1174.7 1011.7h17.6l-8.8 -19.4z"/><path d="M1300 992.2h17.6l-8.8 -19.4z"/><path d="M1183 889.4h17.6l-8.8 -19.4z"/><path d="M1237.9 967.3h17.6l-8.8 -19.4z"/><path d="M1204 913.5h17.6l-8.8 -19.4z"/><path d="M1165.7 969.4h17.6l-8.8 -19.4z"/><path d="M1204.6 995.9h17.6l-8.8 -19.4z"/><path d="M1226.7 959.5h17.6l-8.8 -19.4z"/><path d="M1253.8 1008h17.6l-8.8 -19.4z"/><path d="M1168.9 961.8h17.6l-8.8 -19.4z"/><path d="M1172.8 941.7h17.6l-8.8 -19.4z"/><path d="M1179.3 996.5h17.6l-8.8 -19.4z"/><path d="M1206.9 968h17.6l-8.8 -19.4z"/><path d="M1216 1008.2h17.6l-8.8 -19.4z"/><path d="M1186.8 953.7h17.6l-8.8 -19.4z"/><path d="M1226.4 945.5h17.6l-8.8 -19.4z"/><path d="M1187.1 1012.2h17.6l-8.8 -19.4z"/><path d="M1211.2 944.4h17.6l-8.8 -19.4z"/><path d="M1168.8 949.8h17.6l-8.8 -19.4z"/><path d="M1171.5 919.8h17.6l-8.8 -19.4z"/><path d="M1290.2 978.8h17.6l-8.8 -19.4z"/><path d="M1182.2 998.8h17.6l-8.8 -19.4z"/><path d="M1171.5 873.8h17.6l-8.8 -19.4z"/><path d="M1178.9 932.6h17.6l-8.8 -19.4z"/><path d="M1220.2 947.1h17.6l-8.8 -19.4z"/><path d="M1171 1004.6h17.6l-8.8 -19.4z"/><path d="M1173.3 998.2h17.6l-8.8 -19.4z"/><path d="M1166.7 1010.6h17.6l-8.8 -19.4z"/><path d="M1183 981.3h17.6l-8.8 -19.4z"/><path d="M1196.4 1007.9h17.6l-8.8 -19.4z"/><path d="M1184.2 939.2h17.6l-8.8 -19.4z"/><path d="M1187.6 1001.1h17.6l-8.8 -19.4z"/><path d="M1206.8 1011.7h17.6l-8.8 -19.4z"/><path d="M1179.6 1002.2h17.6l-8.8 -19.4z"/><path d="M1234.5 924.9h17.6l-8.8 -19.4z"/><path d="M1201.8 950.8h17.6l-8.8 -19.4z"/><path d="M1175.3 925.1h17.6l-8.8 -19.4z"/><path d="M1231.2 995h17.6l-8.8 -19.4z"/><path d="M1238.2 957.3h17.6l-8.8 -19.4z"/><path d="M1197 887.2h17.6l-8.8 -19.4z"/><path d="M1161.3 999.4h17.6l-8.8 -19.4z"/><path d="M1213.6 966.6h17.6l-8.8 -19.4z"/><path d="M1163.6 993.6h17.6l-8.8 -19.4z"/><path d="M1168.5 1012.5h17.6l-8.8 -19.4z"/><path d="M1160.8 940.9h17.6l-8.8 -19.4z"/><path d="M1173.3 997h17.6l-8.8 -19.4z"/><path d="M1272.2 1005.5h17.6l-8.8 -19.4z"/><path d="M1177.4 1003.1h17.6l-8.8 -19.4z"/><path d="M1176.5 968.2h17.6l-8.8 -19.4z"/><path d="M1187.3 980.2h17.6l-8.8 -19.4z"/><path d="M1163 994.7h17.6l-8.8 -19.4z"/><path d="M1167.9 1007.5h17.6l-8.8 -19.4z"/><path d="M1200.7 1007h17.6l-8.8 -19.4z"/><path d="M1173.2 940.8h17.6l-8.8 -19.4z"/><path d="M1214 918.1h17.6l-8.8 -19.4z"/><path d="M1188.4 987.6h17.6l-8.8 -19.4z"/><path d="M1268.8 1000.2h17.6l-8.8 -19.4z"/><path d="M1162.8 963.2h17.6l-8.8 -19.4z"/><path d="M1208.9 1002.7h17.6l-8.8 -19.4z"/><path d="M1212.3 983.4h17.6l-8.8 -19.4z"/><path d="M1225.9 997.1h17.6l-8.8 -19.4z"/><path d="M1164.7 915h17.6l-8.8 -19.4z"/><path d="M1169.4 959.5h17.6l-8.8 -19.4z"/><path d="M1227.3 938.5h17.6l-8.8 -19.4z"/><path d="M1171.4 918.2h17.6l-8.8 -19.4z"/><path d="M1205.2 1006.9h17.6l-8.8 -19.4z"/><path d="M1166.8 962.5h17.6l-8.8 -19.4z"/><path d="M1196.4 999.9h17.6l-8.8 -19.4z"/><path d="M1201.8 1005.9h17.6l-8.8 -19.4z"/><path d="M1172.9 996.2h17.6l-8.8 -19.4z"/><path d="M1191.8 979.5h17.6l-8.8 -19.4z"/><path d="M1162 935h17.6l-8.8 -19.4z"/><path d="M1170.9 935h17.6l-8.8 -19.4z"/><path d="M1202.4 992h17.6l-8.8 -19.4z"/><path d="M1199.7 941.9h17.6l-8.8 -19.4z"/><path d="M1170 872.7h17.6l-8.8 -19.4z"/><path d="M1205.1 990.3h17.6l-8.8 -19.4z"/><path d="M1167.7 994.6h17.6l-8.8 -19.4z"/><path d="M1221 997.3h17.6l-8.8 -19.4z"/><path d="M1212.2 906.9h17.6l-8.8 -19.4z"/><path d="M1175.8 917.3h17.6l-8.8 -19.4z"/><path d="M1212.9 989.9h17.6l-8.8 -19.4z"/><path d="M1199.1 1009.3h17.6l-8.8 -19.4z"/><path d="M1162.7 1007.2h17.6l-8.8 -19.4z"/><path d="M1167.4 969.3h17.6l-8.8 -19.4z"/><path d="M1165.9 999.5h17.6l-8.8 -19.4z"/><path d="M1190.8 970.1h17.6l-8.8 -19.4z"/><path d="M1212.2 985.6h17.6l-8.8 -19.4z"/><path d="M1221.8 967.3h17.6l-8.8 -19.4z"/><path d="M1163.6 1006h17.6l-8.8 -19.4z"/><path d="M1187.7 983.2h17.6l-8.8 -19.4z"/><path d="M1205.8 995.2h17.6l-8.8 -19.4z"/><path d="M1176.3 997.6h17.6l-8.8 -19.4z"/><path d="M1211.6 973.7h17.6l-8.8 -19.4z"/><path d="M1179.7 924h17.6l-8.8 -19.4z"/><path d="M1268 977h17.6l-8.8 -19.4z"/><path d="M1202.1 976.1h17.6l-8.8 -19.4z"/><path d="M1162.2 993.1h17.6l-8.8 -19.4z"/><path d="M1166.3 867.7h17.6l-8.8 -19.4z"/><path d="M1200.2 974.9h17.6l-8.8 -19.4z"/><path d="M1163.6 991.3h17.6l-8.8 -19.4z"/><path d="M1220.9 928.9h17.6l-8.8 -19.4z"/><path d="M1164.3 978.1h17.6l-8.8 -19.4z"/><path d="M1164.7 982.6h17.6l-8.8 -19.4z"/><path d="M1174.6 1009.6h17.6l-8.8 -19.4z"/><path d="M1166.6 924.6h17.6l-8.8 -19.4z"/><path d="M1163.7 1006h17.6l-8.8 -19.4z"/><path d="M1191.7 1002h17.6l-8.8 -19.4z"/><path d="M1168.3 904.7h17.6l-8.8 -19.4z"/><path d="M1219.9 1001.3h17.6l-8.8 -19.4z"/><path d="M1177.5 979.3h17.6l-8.8 -19.4z"/><path d="M1172.1 1004.8h17.6l-8.8 -19.4z"/><path d="M1173 1005.3h17.6l-8.8 -19.4z"/><path d="M1251.6 931.3h17.6l-8.8 -19.4z"/><path d="M1186.9 871.2h17.6l-8.8 -19.4z"/><path d="M1174.6 956.9h17.6l-8.8 -19.4z"/><path d="M1212.2 975h17.6l-8.8 -19.4z"/><path d="M1166.4 932.9h17.6l-8.8 -19.4z"/><path d="M1290.5 999.8h17.6l-8.8 -19.4z"/><path d="M1229.3 1006h17.6l-8.8 -19.4z"/><path d="M1172.3 987.8h17.6l-8.8 -19.4z"/><path d="M1186.6 995h17.6l-8.8 -19.4z"/><path d="M1239.5 1003.1h17.6l-8.8 -19.4z"/><path d="M1168.4 989.4h17.6l-8.8 -19.4z"/><path d="M1177.8 930.4h17.6l-8.8 -19.4z"/><path d="M1182.8 1000.3h17.6l-8.8 -19.4z"/><path d="M1219.6 1012.2h17.6l-8.8 -19.4z"/><path d="M1254.6 956.5h17.6l-8.8 -19.4z"/><path d="M1176.9 829.5h17.6l-8.8 -19.4z"/><path d="M1173.3 909.6h17.6l-8.8 -19.4z"/><path d="M1179.9 985.3h17.6l-8.8 -19.4z"/><path d="M1180.1 986.5h17.6l-8.8 -19.4z"/><path d="M1171.2 1005.7h17.6l-8.8 -19.4z"/><path d="M1182.3 867.8h17.6l-8.8 -19.4z"/><path d="M1249.9 951.8h17.6l-8.8 -19.4z"/><path d="M1172.1 927.7h17.6l-8.8 -19.4z"/><path d="M1227.4 860.7h17.6l-8.8 -19.4z"/><path d="M1218.2 934.2h17.6l-8.8 -19.4z"/><path d="M1172.6 911.6h17.6l-8.8 -19.4z"/><path d="M1180.3 948.4h17.6l-8.8 -19.4z"/><path d="M1166.5 902.3h17.6l-8.8 -19.4z"/><path d="M1177.4 966h17.6l-8.8 -19.4z"/><path d="M1178 909.1h17.6l-8.8 -19.4z"/><path d="M1237.7 900.7h17.6l-8.8 -19.4z"/><path d="M1274.5 1003.8h17.6l-8.8 -19.4z"/><path d="M1206.9 930.5h17.6l-8.8 -19.4z"/><path d="M1162.7 949h17.6l-8.8 -19.4z"/><path d="M1193.1 889.6h17.6l-8.8 -19.4z"/><path d="M1177.6 976.1h17.6l-8.8 -19.4z"/><path d="M1223 920.6h17.6l-8.8 -19.4z"/><path d="M1170.5 889.7h17.6l-8.8 -19.4z"/><path d="M1172.4 987.7h17.6l-8.8 -19.4z"/><path d="M1176.9 1006.4h17.6l-8.8 -19.4z"/><path d="M1225.8 1011.2h17.6l-8.8 -19.4z"/><path d="M1163.7 997.2h17.6l-8.8 -19.4z"/><path d="M1215.9 1008.6h17.6l-8.8 -19.4z"/><path d="M1186 999.4h17.6l-8.8 -19.4z"/><path d="M1227 981.8h17.6l-8.8 -19.4z"/><path d="M1186.7 876.9h17.6l-8.8 -19.4z"/><path d="M1195.5 887.8h17.6l-8.8 -19.4z"/><path d="M1196.9 1006h17.6l-8.8 -19.4z"/><path d="M1190.6 906.1h17.6l-8.8 -19.4z"/><path d="M1182.7 972.8h17.6l-8.8 -19.4z"/><path d="M1205.5 884.6h17.6l-8.8 -19.4z"/><path d="M1179.1 998.7h17.6l-8.8 -19.4z"/><path d="M1291 985.5h17.6l-8.8 -19.4z"/><path d="M1166.1 940.9h17.6l-8.8 -19.4z"/><path d="M1162.1 864.5h17.6l-8.8 -19.4z"/><path d="M1183.8 958.8h17.6l-8.8 -19.4z"/><path d="M1183.6 936.5h17.6l-8.8 -19.4z"/><path d="M1191 1006.9h17.6l-8.8 -19.4z"/><path d="M1224.3 909.1h17.6l-8.8 -19.4z"/><path d="M1171 986.2h17.6l-8.8 -19.4z"/><path d="M1226.8 930.4h17.6l-8.8 -19.4z"/><path d="M1248.5 997.9h17.6l-8.8 -19.4z"/><path d="M1180.3 978.5h17.6l-8.8 -19.4z"/><path d="M1269.3 938.1h17.6l-8.8 -19.4z"/><path d="M1175.4 999.2h17.6l-8.8 -19.4z"/><path d="M1214.6 988.7h17.6l-8.8 -19.4z"/><path d="M1193 1000.3h17.6l-8.8 -19.4z"/><path d="M1205.8 970.9h17.6l-8.8 -19.4z"/><path d="M1289 1003.5h17.6l-8.8 -19.4z"/><path d="M1225.5 963.1h17.6l-8.8 -19.4z"/><path d="M1259.2 1000.6h17.6l-8.8 -19.4z"/><path d="M1219 964.4h17.6l-8.8 -19.4z"/><path d="M1310 1005.5h17.6l-8.8 -19.4z"/><path d="M1350.3 1008.6h17.6l-8.8 -19.4z"/><path d="M1162.4 1002.7h17.6l-8.8 -19.4z"/><path d="M1329.2 994.7h17.6l-8.8 -19.4z"/><path d="M1213.3 994h17.6l-8.8 -19.4z"/><path d="M1221.1 1009.9h17.6l-8.8 -19.4z"/><path d="M1234.1 996.6h17.6l-8.8 -19.4z"/><path d="M1201.3 1000.7h17.6l-8.8 -19.4z"/><path d="M1182.8 1007.2h17.6l-8.8 -19.4z"/><path d="M1200.8 1002.5h17.6l-8.8 -19.4z"/><path d="M1207.2 1010.9h17.6l-8.8 -19.4z"/><path d="M1161.1 1005.9h17.6l-8.8 -19.4z"/><path d="M1253.6 997.7h17.6l-8.8 -19.4z"/><path d="M1180.6 1007.6h17.6l-8.8 -19.4z"/><path d="M1214.2 1009.3h17.6l-8.8 -19.4z"/><path d="M1228.7 994.6h17.6l-8.8 -19.4z"/><path d="M1177.3 1001h17.6l-8.8 -19.4z"/><path d="M1254.6 997.7h17.6l-8.8 -19.4z"/><path d="M1252.3 998.5h17.6l-8.8 -19.4z"/><path d="M1184.1 995.9h17.6l-8.8 -19.4z"/><path d="M1351.4 1011.7h17.6l-8.8 -19.4z"/><path d="M1373 1003.9h17.6l-8.8 -19.4z"/><path d="M1167.3 1011.4h17.6l-8.8 -19.4z"/><path d="M1278 999.2h17.6l-8.8 -19.4z"/><path d="M1172 1003.5h17.6l-8.8 -19.4z"/><path d="M1235.6 992.7h17.6l-8.8 -19.4z"/><path d="M1190.8 997.4h17.6l-8.8 -19.4z"/><path d="M1181.4 1008.8h17.6l-8.8 -19.4z"/><path d="M1173.6 1004.5h17.6l-8.8 -19.4z"/><path d="M1231.6 1006.7h17.6l-8.8 -19.4z"/><path d="M1173.7 1008.4h17.6l-8.8 -19.4z"/><path d="M1167.2 1008.9h17.6l-8.8 -19.4z"/><path d="M1188.6 1002.6h17.6l-8.8 -19.4z"/><path d="M1175.6 1003.1h17.6l-8.8 -19.4z"/><path d="M1203.3 993.2h17.6l-8.8 -19.4z"/><path d="M1209.7 993.8h17.6l-8.8 -19.4z"/><path d="M1207.6 1008.8h17.6l-8.8 -19.4z"/><path d="M1226.7 1009.9h17.6l-8.8 -19.4z"/><path d="M1174.3 1011.3h17.6l-8.8 -19.4z"/><path d="M1249.6 993.3h17.6l-8.8 -19.4z"/><path d="M1198.7 1005.7h17.6l-8.8 -19.4z"/><path d="M1201.4 1005.7h17.6l-8.8 -19.4z"/><path d="M1247 1004.9h17.6l-8.8 -19.4z"/><path d="M1172.8 995.4h17.6l-8.8 -19.4z"/><path d="M1223.2 1012.7h17.6l-8.8 -19.4z"/><path d="M1300.1 998.1h17.6l-8.8 -19.4z"/><path d="M1192.9 1000.1h17.6l-8.8 -19.4z"/><path d="M1346.8 1004.7h17.6l-8.8 -19.4z"/><path d="M1202.4 1006.8h17.6l-8.8 -19.4z"/>
</g>
<g fill="#e15428" fill-opacity="0.55">
<path d="M1307.7 241.8h17.6l-8.8 -19.4z"/><path d="M1330.6 241.8h17.6l-8.8 -19.4z"/><path d="M1258 471h17.6l-8.8 -19.4z"/><path d="M1237.2 489.5h17.6l-8.8 -19.4z"/><path d="M1316.5 562.1h17.6l-8.8 -19.4z"/><path d="M1205.2 665.5h17.6l-8.8 -19.4z"/><path d="M1196.4 745.9h17.6l-8.8 -19.4z"/><path d="M1210.5 748.1h17.6l-8.8 -19.4z"/><path d="M1226.3 741.5h17.6l-8.8 -19.4z"/><path d="M1166.5 752.5h17.6l-8.8 -19.4z"/><path d="M1174.4 753.8h17.6l-8.8 -19.4z"/><path d="M1155.9 771.4h17.6l-8.8 -19.4z"/><path d="M1169.1 771.4h17.6l-8.8 -19.4z"/><path d="M1241.7 772.3h17.6l-8.8 -19.4z"/><path d="M1202.1 786.4h17.6l-8.8 -19.4z"/><path d="M1252.7 802.2h17.6l-8.8 -19.4z"/><path d="M1313.8 838.3h17.6l-8.8 -19.4z"/><path d="M1280 855.9h17.6l-8.8 -19.4z"/><path d="M1262.4 872.6h17.6l-8.8 -19.4z"/><path d="M1349.5 888h17.6l-8.8 -19.4z"/><path d="M1254.5 897.7h17.6l-8.8 -19.4z"/><path d="M1274.2 897.7h17.6l-8.8 -19.4z"/><path d="M1240.4 908.7h17.6l-8.8 -19.4z"/><path d="M1681.2 937.3h17.6l-8.8 -19.4z"/><path d="M1490.2 951.8h17.6l-8.8 -19.4z"/><path d="M1458.2 972.5h17.6l-8.8 -19.4z"/><path d="M1416.4 971.1h17.6l-8.8 -19.4z"/><path d="M1648.2 978.2h17.6l-8.8 -19.4z"/><path d="M1580.5 993.1h17.6l-8.8 -19.4z"/><path d="M1563.7 1003.2h17.6l-8.8 -19.4z"/><path d="M1599.8 1007.7h17.6l-8.8 -19.4z"/><path d="M1459.5 1001.9h17.6l-8.8 -19.4z"/><path d="M1427.4 994.5h17.6l-8.8 -19.4z"/><path d="M1485.9 1014.3h17.6l-8.8 -19.4z"/><path d="M1313.2 924.5h17.6l-8.8 -19.4z"/><path d="M1291.2 969.5h17.6l-8.8 -19.4z"/><path d="M1321.2 984.5h17.6l-8.8 -19.4z"/><path d="M1331.2 999.5h17.6l-8.8 -19.4z"/><path d="M1219.2 994.5h17.6l-8.8 -19.4z"/><path d="M1241.2 1004.5h17.6l-8.8 -19.4z"/><path d="M1266.2 1009.5h17.6l-8.8 -19.4z"/><path d="M1301.2 1009.5h17.6l-8.8 -19.4z"/><path d="M1341.2 1011.5h17.6l-8.8 -19.4z"/><path d="M1371.2 1009.5h17.6l-8.8 -19.4z"/><path d="M1391.2 999.5h17.6l-8.8 -19.4z"/><path d="M1166.2 802.5h17.6l-8.8 -19.4z"/><path d="M1174.2 811.5h17.6l-8.8 -19.4z"/><path d="M1183.2 824.5h17.6l-8.8 -19.4z"/><path d="M1201.2 820.5h17.6l-8.8 -19.4z"/><path d="M1210.2 809.5h17.6l-8.8 -19.4z"/><path d="M1219.2 814.5h17.6l-8.8 -19.4z"/><path d="M1203.2 833.5h17.6l-8.8 -19.4z"/><path d="M1196.2 842.5h17.6l-8.8 -19.4z"/><path d="M1161.2 815.5h17.6l-8.8 -19.4z"/><path d="M1171.2 829.5h17.6l-8.8 -19.4z"/><path d="M1187.2 837.5h17.6l-8.8 -19.4z"/><path d="M1159.2 835.5h17.6l-8.8 -19.4z"/><path d="M1177.2 847.5h17.6l-8.8 -19.4z"/><path d="M1213.2 851.5h17.6l-8.8 -19.4z"/><path d="M1227.2 861.5h17.6l-8.8 -19.4z"/><path d="M1191.2 857.5h17.6l-8.8 -19.4z"/>
</g>
<path d="M1275 954H1303" stroke="#e8532f" stroke-width="1.5" stroke-opacity=".7"/>
<rect x="903.5" y="767" width="104.7" height="62.7" rx="9" ry="9" fill="#fff" fill-opacity="0.64" stroke="#453f3f" stroke-width="1.6"/>
<text x="914.2" y="814.6" font-size="42" fill="#17914a" stroke="#17914a" stroke-width="0.9" textLength="80.5" lengthAdjust="spacingAndGlyphs">Acly</text>
<rect x="903.5" y="717.9" width="123.2" height="67.8" rx="9" ry="9" fill="#fff" fill-opacity="0.64" stroke="#453f3f" stroke-width="1.6"/>
<text x="914.2" y="772" font-size="42" fill="#17914a" stroke="#17914a" stroke-width="0.9" textLength="92.5" lengthAdjust="spacingAndGlyphs">Cd36</text>
<rect x="886.8" y="914.6" width="113.5" height="67.3" rx="9" ry="9" fill="#fff" fill-opacity="0.64" stroke="#453f3f" stroke-width="1.6"/>
<text x="898" y="965" font-size="42" fill="#17914a" stroke="#17914a" stroke-width="0.9" textLength="78" lengthAdjust="spacingAndGlyphs">Fasn</text>
<rect x="996.8" y="899" width="140.2" height="68" rx="9" ry="9" fill="#fff" fill-opacity="0.64" stroke="#453f3f" stroke-width="1.6"/>
<text x="1009" y="950.6" font-size="42" fill="#17914a" stroke="#17914a" stroke-width="0.9" textLength="105" lengthAdjust="spacingAndGlyphs">Acaca</text>
<rect x="936.5" y="999.5" width="117.5" height="67.7" rx="9" ry="9" fill="#fff" fill-opacity="0.64" stroke="#453f3f" stroke-width="1.6"/>
<text x="948.3" y="1050.5" font-size="42" fill="#17914a" stroke="#17914a" stroke-width="0.9" textLength="77.5" lengthAdjust="spacingAndGlyphs">Scd1</text>
<rect x="1302.9" y="917.6" width="115.7" height="69.6" rx="9" ry="9" fill="#fff" fill-opacity="0.64" stroke="#453f3f" stroke-width="1.6"/>
<text x="1314.3" y="969.6" font-size="42" fill="#e8432a" stroke="#e8432a" stroke-width="0.9" textLength="78.8" lengthAdjust="spacingAndGlyphs">Pck1</text>
<rect x="1237.3" y="998.2" width="125.4" height="68.2" rx="9" ry="9" fill="#fff" fill-opacity="0.64" stroke="#453f3f" stroke-width="1.6"/>
<text x="1249.2" y="1049.6" font-size="42" fill="#e8432a" stroke="#e8432a" stroke-width="0.9" textLength="90.2" lengthAdjust="spacingAndGlyphs">G6pc</text>
<rect x="1340.3" y="231.5" width="132.7" height="70.3" rx="9" ry="9" fill="#fff" fill-opacity="0.64" stroke="#453f3f" stroke-width="1.6"/>
<text x="1352.8" y="286" font-size="42" fill="#e8432a" stroke="#e8432a" stroke-width="0.9" textLength="98.1" lengthAdjust="spacingAndGlyphs">Acot1</text>
<path d="M390.2 181.7H1742.5M390.2 1085H1742.5M411.7 180.2V1106.5M1741 180.2V1106.5" stroke="#0b0707" stroke-width="4" fill="none"/>
<path d="M422.5 1085V1106.5M586 1085V1106.5M749.6 1085V1106.5M913.1 1085V1106.5M1076.7 1085V1106.5M1240.3 1085V1106.5M1403.8 1085V1106.5M1567.4 1085V1106.5M1730.9 1085V1106.5M390.2 1049.3H411.7M390.2 948.7H411.7M390.2 848.1H411.7M390.2 747.5H411.7M390.2 646.9H411.7M390.2 546.3H411.7M390.2 445.7H411.7M390.2 345.1H411.7M390.2 244.5H411.7" stroke="#0b0707" stroke-width="4" fill="none"/>
<g font-weight="bold" font-size="47" fill="#1a1311">
<text transform="translate(378.6 1055.5) scale(0.905 1)" text-anchor="end">0</text>
<text transform="translate(378.6 961.8) scale(0.905 1)" text-anchor="end">5</text>
<text transform="translate(378.6 858) scale(0.905 1)" text-anchor="end">10</text>
<text transform="translate(378.6 757) scale(0.905 1)" text-anchor="end">15</text>
<text transform="translate(378.6 655) scale(0.905 1)" text-anchor="end">20</text>
<text transform="translate(378.6 558.8) scale(0.905 1)" text-anchor="end">25</text>
<text transform="translate(378.6 448.1) scale(0.905 1)" text-anchor="end">30</text>
<text transform="translate(378.6 353.4) scale(0.905 1)" text-anchor="end">35</text>
<text transform="translate(378.6 258.8) scale(0.905 1)" text-anchor="end">40</text>
<text transform="translate(400.3 1156.7) scale(0.93 1)">-8</text>
<text transform="translate(561 1156.7) scale(0.93 1)">-6</text>
<text transform="translate(724 1156.7) scale(0.93 1)">-4</text>
<text transform="translate(888.6 1156.7) scale(0.93 1)">-2</text>
<text transform="translate(1069 1156.7) scale(0.93 1)">0</text>
<text transform="translate(1229.8 1156.7) scale(0.93 1)">2</text>
<text transform="translate(1393.6 1156.7) scale(0.93 1)">4</text>
<text transform="translate(1554.4 1156.7) scale(0.93 1)">6</text>
<text transform="translate(1719.8 1156.7) scale(0.93 1)">8</text>
</g>
<text x="878" y="1244.2" font-weight="bold" font-size="54.5" fill="#1a1311" textLength="419.6" lengthAdjust="spacingAndGlyphs">log2(FoldChange)</text>
<text transform="translate(282.6 771) rotate(-90)" font-weight="bold" font-size="55.5" fill="#1a1311" textLength="294.5" lengthAdjust="spacingAndGlyphs">-log10(FDR)</text>
<text x="1857" y="206.4" font-size="64.5" fill="#1a1311" stroke="#1a1311" stroke-width="0.9" textLength="267" lengthAdjust="spacingAndGlyphs">Regulated</text>
<text x="1922" y="294" font-size="54" fill="#1a1311" stroke="#1a1311" stroke-width="0.9" textLength="357.5" lengthAdjust="spacingAndGlyphs">Down-regulated</text>
<text x="1923.5" y="369.5" font-size="54" fill="#1a1311" stroke="#1a1311" stroke-width="0.9" textLength="288.5" lengthAdjust="spacingAndGlyphs">Up-regulated</text>
<path d="M1856.2 252.6H1903L1879.6 298.6Z" fill="#22844a" stroke="#17954b" stroke-width="1.6" stroke-linejoin="miter"/>
<path d="M1857 368H1901.6L1879.3 324.6Z" fill="#d6513a" stroke="#ec2f26" stroke-width="1.6" stroke-linejoin="miter"/>
</g>
<defs><filter id="vb" x="-0.01" y="-0.01" width="1.02" height="1.02" color-interpolation-filters="sRGB"><feGaussianBlur stdDeviation="1.1"/></filter></defs>
<g id="heat" shape-rendering="crispEdges" filter="url(#vb)">
<path d="M628 1515h249v3h-249z" fill="#3f53a5"/>
<path d="M628 1512h249v3h-249zM628 1518h249v15h-249z" fill="#3f53a5"/>
<path d="M628 1506h249v6h-249z" fill="#4355a6"/>
<path d="M628 1671h249v3h-249z" fill="#5862ad"/>
<path d="M628 1470h249v3h-249zM628 1485h249v3h-249zM628 1674h249v3h-249z" fill="#6269b1"/>
<path d="M628 1458h249v3h-249zM628 1473h249v3h-249z" fill="#686eb4"/>
<path d="M628 1461h249v3h-249zM628 1467h249v3h-249zM628 1482h249v3h-249zM628 1488h249v3h-249zM628 1635h249v3h-249zM628 1677h249v3h-249zM628 1692h249v3h-249zM628 2418h249v3h-249zM628 2430h249v3h-249z" fill="#6e72b7"/>
<path d="M628 1476h249v3h-249zM628 1491h249v3h-249zM628 1638h249v3h-249zM628 1680h249v12h-249zM628 2247h249v3h-249zM628 2433h249v3h-249z" fill="#7477ba"/>
<path d="M628 1464h249v3h-249zM628 1479h249v3h-249zM628 1641h249v3h-249zM628 1647h249v15h-249zM628 2241h249v3h-249zM628 2292h249v3h-249zM628 2448h249v9h-249z" fill="#7a7cbd"/>
<path d="M628 2145h249v3h-249zM628 2250h249v9h-249zM628 2319h249v3h-249zM628 2421h249v9h-249z" fill="#8080c0"/>
<path d="M628 1560h249v3h-249zM628 1644h249v3h-249zM628 1668h249v3h-249zM628 2148h249v3h-249zM628 2259h249v3h-249zM628 2289h249v3h-249zM628 2316h249v3h-249zM628 2457h249v3h-249z" fill="#8685c3"/>
<path d="M628 1557h249v3h-249zM628 1563h249v3h-249zM628 1665h249v3h-249zM628 1812h249v3h-249zM628 2142h249v3h-249zM628 2235h249v6h-249zM628 2244h249v3h-249zM628 2286h249v3h-249zM628 2295h249v3h-249zM628 2301h249v3h-249zM628 2376h249v3h-249zM628 2439h249v3h-249z" fill="#8c8ac6"/>
<path d="M628 1575h249v6h-249zM628 1593h249v3h-249zM628 1599h249v3h-249zM628 1662h249v3h-249zM628 1809h249v3h-249zM628 1815h249v3h-249zM628 2139h249v3h-249zM628 2223h249v3h-249zM628 2232h249v3h-249zM628 2262h249v6h-249zM628 2283h249v3h-249zM628 2298h249v3h-249zM628 2307h249v3h-249zM628 2370h249v6h-249z" fill="#9492ca"/>
<path d="M628 1590h249v3h-249zM628 1596h249v3h-249zM628 1605h249v3h-249zM628 2115h249v3h-249zM628 2124h249v3h-249zM628 2214h249v6h-249zM628 2226h249v6h-249zM628 2271h249v6h-249zM628 2310h249v3h-249zM628 2385h249v3h-249zM628 2436h249v3h-249zM628 2445h249v3h-249z" fill="#9c9ace"/>
<path d="M628 1587h249v3h-249zM628 1608h249v6h-249zM628 1623h249v3h-249zM628 2121h249v3h-249zM628 2154h249v3h-249zM628 2220h249v3h-249zM628 2268h249v3h-249zM628 2280h249v3h-249zM628 2304h249v3h-249zM628 2313h249v3h-249zM628 2442h249v3h-249z" fill="#a3a1d2"/>
<path d="M628 1569h249v6h-249zM628 1602h249v3h-249zM628 1620h249v3h-249zM628 1632h249v3h-249zM628 1797h249v3h-249zM628 1806h249v3h-249zM628 1818h249v3h-249zM628 2118h249v3h-249zM628 2136h249v3h-249zM628 2151h249v3h-249zM628 2157h249v6h-249zM628 2166h249v3h-249zM628 2277h249v3h-249zM628 2367h249v3h-249zM628 2379h249v6h-249z" fill="#aba9d6"/>
<path d="M628 1503h249v3h-249zM628 1626h249v6h-249zM628 2103h249v6h-249zM628 2127h249v3h-249zM628 2163h249v3h-249zM628 2487h249v3h-249z" fill="#b3b1da"/>
<path d="M628 1500h249v3h-249zM628 1566h249v3h-249zM628 1581h249v6h-249zM628 1776h249v3h-249zM628 1785h249v6h-249zM628 1800h249v3h-249zM628 2070h249v3h-249zM628 2094h249v3h-249zM628 2109h249v6h-249zM628 2490h249v3h-249zM628 2502h249v6h-249z" fill="#bab8de"/>
<path d="M628 1494h249v6h-249zM628 1737h249v9h-249zM628 1770h249v6h-249zM628 1779h249v3h-249zM628 1791h249v6h-249zM628 2073h249v6h-249zM628 2100h249v3h-249zM628 2130h249v3h-249z" fill="#c2c0e2"/>
<path d="M628 1719h249v3h-249zM628 1752h249v3h-249zM628 1782h249v3h-249zM628 2091h249v3h-249zM628 2097h249v3h-249zM628 2133h249v3h-249zM628 2394h249v3h-249zM628 2460h249v3h-249zM628 2499h249v3h-249zM628 2508h249v6h-249z" fill="#cac8e6"/>
<path d="M628 1617h249v3h-249zM628 1734h249v3h-249zM628 1746h249v6h-249zM628 1758h249v3h-249zM628 1803h249v3h-249zM628 1965h249v3h-249zM628 1971h249v6h-249zM628 2079h249v9h-249zM628 2199h249v6h-249zM628 2493h249v6h-249zM628 2514h249v6h-249zM628 3168h249v3h-249zM628 3177h249v3h-249z" fill="#d1cfe9"/>
<path d="M628 1614h249v3h-249zM628 1713h249v6h-249zM628 1728h249v6h-249zM628 1761h249v3h-249zM628 1767h249v3h-249zM628 1962h249v3h-249zM628 2034h249v3h-249zM628 2064h249v6h-249zM628 2088h249v3h-249zM628 2169h249v6h-249zM628 3123h249v3h-249zM628 3171h249v6h-249z" fill="#d7d6ec"/>
<path d="M628 1722h249v3h-249zM628 1755h249v3h-249zM628 1764h249v3h-249zM628 1968h249v3h-249zM628 2031h249v3h-249zM628 2061h249v3h-249zM628 2193h249v6h-249zM628 2205h249v3h-249zM628 2211h249v3h-249zM628 2388h249v6h-249zM628 2415h249v3h-249zM628 3126h249v3h-249z" fill="#deddef"/>
<path d="M628 1542h249v3h-249zM628 1554h249v3h-249zM628 1725h249v3h-249zM628 2037h249v3h-249zM628 2058h249v3h-249zM628 2175h249v3h-249zM628 2181h249v12h-249zM628 2208h249v3h-249zM628 2403h249v12h-249zM628 3180h249v3h-249z" fill="#e4e4f2"/>
<path d="M628 1863h249v3h-249zM628 2004h249v6h-249zM628 2052h249v6h-249zM628 2178h249v3h-249z" fill="#ebeaf6"/>
<path d="M628 1533h249v9h-249zM628 1545h249v3h-249zM628 1704h249v3h-249zM628 1866h249v6h-249zM628 1878h249v6h-249zM628 1929h249v3h-249zM628 1944h249v3h-249zM628 1959h249v3h-249zM628 2025h249v6h-249zM628 2040h249v6h-249zM628 2049h249v3h-249zM628 2322h249v3h-249zM628 2349h249v9h-249zM628 2820h249v3h-249zM628 2826h249v9h-249zM628 3150h249v6h-249z" fill="#f2f1f9"/>
<path d="M628 1701h249v3h-249zM628 1872h249v6h-249zM628 1884h249v6h-249zM628 1938h249v6h-249zM628 2010h249v6h-249zM628 2022h249v3h-249zM628 2046h249v3h-249zM628 2331h249v3h-249zM628 2358h249v3h-249zM628 2469h249v3h-249zM628 2475h249v6h-249zM628 2526h249v3h-249zM628 2532h249v6h-249zM628 2823h249v3h-249z" fill="#f8f8fc"/>
<path d="M628 1695h249v3h-249zM628 1707h249v6h-249zM628 1824h249v3h-249zM628 1830h249v3h-249zM628 1836h249v3h-249zM628 1854h249v9h-249zM628 1926h249v3h-249zM628 1932h249v6h-249zM628 2019h249v3h-249zM628 2325h249v3h-249zM628 2337h249v3h-249zM628 2397h249v6h-249zM628 2466h249v3h-249zM628 2472h249v3h-249zM628 2481h249v3h-249zM628 2523h249v3h-249zM628 2529h249v3h-249zM628 2973h249v3h-249zM628 3132h249v3h-249z" fill="#ffffff"/>
<path d="M628 1548h249v6h-249zM628 1698h249v3h-249zM628 1821h249v3h-249zM628 1827h249v3h-249zM628 1923h249v3h-249zM628 1956h249v3h-249zM628 1986h249v3h-249zM628 1998h249v6h-249zM628 2016h249v3h-249zM628 2328h249v3h-249zM628 2334h249v3h-249zM628 2361h249v3h-249zM628 2484h249v3h-249zM628 2520h249v3h-249zM628 2967h249v6h-249zM628 3138h249v6h-249zM628 3156h249v6h-249zM628 3165h249v3h-249z" fill="#fef8f8"/>
<path d="M628 1833h249v3h-249zM628 1839h249v6h-249zM628 1920h249v3h-249zM628 1947h249v9h-249zM628 1977h249v3h-249zM628 1983h249v3h-249zM628 1989h249v3h-249zM628 1995h249v3h-249zM628 2463h249v3h-249zM628 2841h249v3h-249zM628 2934h249v9h-249zM628 2964h249v3h-249zM628 3135h249v3h-249zM628 3147h249v3h-249zM628 3162h249v3h-249z" fill="#fef2f2"/>
<path d="M628 1845h249v9h-249zM628 1896h249v3h-249zM628 1911h249v3h-249zM628 1992h249v3h-249zM628 2343h249v6h-249zM628 2364h249v3h-249zM628 3018h249v3h-249zM628 3129h249v3h-249zM628 3144h249v3h-249z" fill="#fdebeb"/>
<path d="M628 1914h249v3h-249zM628 1980h249v3h-249zM628 2340h249v3h-249zM628 2835h249v6h-249zM628 2943h249v3h-249zM628 2955h249v3h-249zM628 2961h249v3h-249zM628 3021h249v3h-249z" fill="#fce4e4"/>
<path d="M628 1890h249v6h-249zM628 1908h249v3h-249zM628 1917h249v3h-249zM628 2760h249v3h-249zM628 2952h249v3h-249zM628 2958h249v3h-249zM628 3192h249v6h-249z" fill="#fcddde"/>
<path d="M628 1899h249v3h-249zM628 1905h249v3h-249zM628 2754h249v3h-249zM628 2949h249v3h-249zM628 2976h249v3h-249zM628 2991h249v3h-249zM628 3000h249v3h-249zM628 3099h249v6h-249zM628 3186h249v6h-249z" fill="#fbd6d7"/>
<path d="M628 1902h249v3h-249zM628 2748h249v6h-249zM628 2757h249v3h-249zM628 2763h249v3h-249zM628 2814h249v3h-249zM628 2946h249v3h-249zM628 2979h249v3h-249zM628 2994h249v6h-249zM628 3003h249v3h-249zM628 3183h249v3h-249z" fill="#fbd0d1"/>
<path d="M628 2817h249v3h-249zM628 2988h249v3h-249zM628 3006h249v3h-249zM628 3105h249v6h-249z" fill="#fac9ca"/>
<path d="M628 2799h249v3h-249zM628 2982h249v6h-249z" fill="#f9c2c4"/>
<path d="M628 2679h249v3h-249zM628 2808h249v6h-249zM628 3009h249v3h-249zM628 3015h249v3h-249zM628 3057h249v3h-249zM628 3114h249v9h-249z" fill="#f9bcbd"/>
<path d="M628 2640h249v3h-249zM628 2661h249v3h-249zM628 2667h249v3h-249zM628 2730h249v3h-249zM628 2802h249v6h-249zM628 3012h249v3h-249zM628 3054h249v3h-249zM628 3111h249v3h-249z" fill="#f8b5b6"/>
<path d="M628 2634h249v6h-249zM628 2646h249v6h-249zM628 2673h249v6h-249zM628 2721h249v3h-249zM628 2727h249v3h-249zM628 2925h249v3h-249z" fill="#f8aeb0"/>
<path d="M628 2643h249v3h-249zM628 2652h249v3h-249zM628 2658h249v3h-249zM628 2664h249v3h-249zM628 2670h249v3h-249zM628 2688h249v3h-249zM628 2724h249v3h-249zM628 2733h249v3h-249zM628 2745h249v3h-249zM628 2931h249v3h-249zM628 3051h249v3h-249z" fill="#f7a8aa"/>
<path d="M628 2685h249v3h-249zM628 2706h249v3h-249zM628 2712h249v9h-249zM628 2784h249v3h-249zM628 2790h249v3h-249zM628 2877h249v6h-249zM628 2886h249v3h-249zM628 2907h249v3h-249zM628 2913h249v3h-249zM628 2919h249v6h-249zM628 2928h249v3h-249zM628 3024h249v3h-249zM628 3030h249v6h-249zM628 3045h249v6h-249zM628 3090h249v9h-249z" fill="#f6a1a3"/>
<path d="M628 2595h249v3h-249zM628 2607h249v6h-249zM628 2631h249v3h-249zM628 2655h249v3h-249zM628 2682h249v3h-249zM628 2766h249v3h-249zM628 2778h249v6h-249zM628 2787h249v3h-249zM628 2793h249v3h-249zM628 2844h249v3h-249zM628 2853h249v3h-249zM628 2883h249v3h-249zM628 2889h249v3h-249zM628 2910h249v3h-249zM628 3039h249v3h-249zM628 3060h249v18h-249z" fill="#f69b9c"/>
<path d="M628 2544h249v6h-249zM628 2592h249v3h-249zM628 2598h249v3h-249zM628 2604h249v3h-249zM628 2709h249v3h-249zM628 2742h249v3h-249zM628 2769h249v9h-249zM628 2856h249v3h-249zM628 2871h249v6h-249zM628 3036h249v3h-249zM628 3042h249v3h-249zM628 3078h249v6h-249zM628 3087h249v3h-249z" fill="#f59496"/>
<path d="M628 2538h249v6h-249zM628 2601h249v3h-249zM628 2613h249v3h-249zM628 2691h249v3h-249zM628 2703h249v3h-249zM628 2739h249v3h-249zM628 2796h249v3h-249zM628 2850h249v3h-249zM628 2859h249v9h-249zM628 2904h249v3h-249zM628 2916h249v3h-249zM628 3027h249v3h-249zM628 3084h249v3h-249zM628 3210h249v3h-249z" fill="#f48d8f"/>
<path d="M628 2553h249v6h-249zM628 2628h249v3h-249zM628 2694h249v3h-249zM628 2736h249v3h-249zM628 2847h249v3h-249zM628 3198h249v3h-249zM628 3204h249v3h-249zM628 3216h249v3h-249zM628 3222h249v5h-249z" fill="#f48688"/>
<path d="M628 2616h249v12h-249zM628 2868h249v3h-249zM628 2892h249v3h-249zM628 3201h249v3h-249zM628 3207h249v3h-249zM628 3213h249v3h-249zM628 3219h249v3h-249z" fill="#f47f81"/>
<path d="M628 2550h249v3h-249zM628 2559h249v12h-249zM628 2700h249v3h-249z" fill="#f3787a"/>
<path d="M628 2574h249v3h-249zM628 2697h249v3h-249zM628 2895h249v6h-249z" fill="#f27173"/>
<path d="M628 2571h249v3h-249zM628 2577h249v3h-249z" fill="#f26a6c"/>
<path d="M628 2580h249v3h-249zM628 2589h249v3h-249zM628 2901h249v3h-249z" fill="#f26365"/>
<path d="M628 2583h249v6h-249z" fill="#f15c5e"/>
<path d="M877 2394h247v3h-247zM877 2520h247v6h-247zM877 2538h247v3h-247z" fill="#3f53a5"/>
<path d="M877 2526h247v9h-247z" fill="#4355a6"/>
<path d="M877 2535h247v3h-247z" fill="#4657a7"/>
<path d="M877 2397h247v6h-247z" fill="#4a59a8"/>
<path d="M877 2487h247v3h-247z" fill="#515eab"/>
<path d="M877 2466h247v3h-247zM877 2490h247v3h-247z" fill="#5862ad"/>
<path d="M877 1893h247v3h-247zM877 1899h247v3h-247zM877 1908h247v3h-247zM877 2463h247v3h-247zM877 2484h247v3h-247zM877 2511h247v6h-247z" fill="#5c64ae"/>
<path d="M877 1911h247v3h-247zM877 1917h247v3h-247zM877 2469h247v3h-247zM877 2481h247v3h-247zM877 2508h247v3h-247z" fill="#6269b1"/>
<path d="M877 1905h247v3h-247zM877 1914h247v3h-247zM877 1929h247v3h-247zM877 2181h247v3h-247zM877 2421h247v3h-247zM877 2430h247v3h-247zM877 2442h247v6h-247zM877 2451h247v3h-247zM877 2472h247v3h-247zM877 2499h247v3h-247z" fill="#686eb4"/>
<path d="M877 1539h247v9h-247zM877 1890h247v3h-247zM877 1896h247v3h-247zM877 1902h247v3h-247zM877 1944h247v3h-247zM877 2097h247v3h-247zM877 2175h247v3h-247zM877 2184h247v3h-247zM877 2418h247v3h-247zM877 2475h247v6h-247zM877 2493h247v6h-247zM877 2502h247v6h-247z" fill="#6e72b7"/>
<path d="M877 1527h247v6h-247zM877 1536h247v3h-247zM877 1848h247v6h-247zM877 1932h247v3h-247zM877 1965h247v3h-247zM877 2100h247v3h-247zM877 2169h247v6h-247zM877 2178h247v3h-247zM877 2424h247v6h-247zM877 2448h247v3h-247zM877 2454h247v3h-247zM877 2517h247v3h-247z" fill="#7477ba"/>
<path d="M877 1533h247v3h-247zM877 1548h247v3h-247zM877 1611h247v3h-247zM877 1707h247v3h-247zM877 1719h247v6h-247zM877 1941h247v3h-247zM877 1962h247v3h-247zM877 1968h247v3h-247zM877 1998h247v6h-247zM877 2103h247v3h-247zM877 2160h247v3h-247zM877 2196h247v3h-247zM877 2202h247v3h-247zM877 2406h247v3h-247zM877 2433h247v9h-247z" fill="#7a7cbd"/>
<path d="M877 1551h247v3h-247zM877 1614h247v3h-247zM877 1623h247v3h-247zM877 1713h247v6h-247zM877 1920h247v3h-247zM877 1935h247v3h-247zM877 1953h247v6h-247zM877 1992h247v3h-247zM877 2199h247v3h-247zM877 2208h247v3h-247zM877 2286h247v3h-247zM877 2457h247v6h-247z" fill="#8080c0"/>
<path d="M877 1626h247v3h-247zM877 1710h247v3h-247zM877 1725h247v3h-247zM877 1731h247v3h-247zM877 1791h247v3h-247zM877 1923h247v6h-247zM877 1938h247v3h-247zM877 1947h247v6h-247zM877 1959h247v3h-247zM877 1977h247v3h-247zM877 2040h247v9h-247zM877 2157h247v3h-247zM877 2163h247v3h-247zM877 2187h247v3h-247zM877 2193h247v3h-247zM877 2211h247v3h-247zM877 2220h247v3h-247zM877 2226h247v3h-247zM877 2238h247v3h-247zM877 2280h247v6h-247zM877 2403h247v3h-247z" fill="#8685c3"/>
<path d="M877 1608h247v3h-247zM877 1704h247v3h-247zM877 1788h247v3h-247zM877 1821h247v3h-247zM877 1845h247v3h-247zM877 1875h247v3h-247zM877 1974h247v3h-247zM877 1995h247v3h-247zM877 2025h247v6h-247zM877 2190h247v3h-247zM877 2205h247v3h-247zM877 2223h247v3h-247zM877 2247h247v3h-247zM877 2262h247v6h-247zM877 2277h247v3h-247zM877 2289h247v3h-247zM877 2409h247v3h-247z" fill="#8c8ac6"/>
<path d="M877 1617h247v3h-247zM877 1701h247v3h-247zM877 1728h247v3h-247zM877 1779h247v3h-247zM877 1854h247v3h-247zM877 1866h247v3h-247zM877 2004h247v3h-247zM877 2037h247v3h-247zM877 2049h247v3h-247zM877 2145h247v3h-247zM877 2166h247v3h-247zM877 2241h247v3h-247zM877 2259h247v3h-247zM877 2415h247v3h-247z" fill="#9492ca"/>
<path d="M877 1587h247v3h-247zM877 1593h247v6h-247zM877 1605h247v3h-247zM877 1620h247v3h-247zM877 1686h247v3h-247zM877 1785h247v3h-247zM877 1869h247v6h-247zM877 1881h247v3h-247zM877 1887h247v3h-247zM877 2007h247v3h-247zM877 2016h247v3h-247zM877 2121h247v3h-247zM877 2148h247v9h-247zM877 2217h247v3h-247zM877 2229h247v6h-247zM877 2253h247v6h-247zM877 2271h247v6h-247zM877 2292h247v3h-247zM877 2298h247v3h-247zM877 2313h247v3h-247zM877 2412h247v3h-247z" fill="#9c9ace"/>
<path d="M877 1590h247v3h-247zM877 1599h247v6h-247zM877 1683h247v3h-247zM877 1692h247v3h-247zM877 1698h247v3h-247zM877 1782h247v3h-247zM877 1824h247v3h-247zM877 1839h247v6h-247zM877 1857h247v3h-247zM877 1863h247v3h-247zM877 1878h247v3h-247zM877 1971h247v3h-247zM877 2010h247v3h-247zM877 2019h247v6h-247zM877 2034h247v3h-247zM877 2064h247v3h-247zM877 2070h247v3h-247zM877 2088h247v3h-247zM877 2214h247v3h-247zM877 2244h247v3h-247zM877 2250h247v3h-247zM877 2301h247v6h-247zM877 2310h247v3h-247zM877 2319h247v3h-247z" fill="#a3a1d2"/>
<path d="M877 1575h247v3h-247zM877 1689h247v3h-247zM877 1695h247v3h-247zM877 1767h247v3h-247zM877 1827h247v3h-247zM877 1836h247v3h-247zM877 1884h247v3h-247zM877 2013h247v3h-247zM877 2031h247v3h-247zM877 2055h247v3h-247zM877 2061h247v3h-247zM877 2067h247v3h-247zM877 2079h247v3h-247zM877 2094h247v3h-247zM877 2118h247v3h-247zM877 2124h247v3h-247zM877 2139h247v6h-247zM877 2235h247v3h-247zM877 2268h247v3h-247zM877 2295h247v3h-247zM877 2307h247v3h-247zM877 2316h247v3h-247z" fill="#aba9d6"/>
<path d="M877 1629h247v3h-247zM877 1647h247v9h-247zM877 1659h247v3h-247zM877 1764h247v3h-247zM877 1770h247v3h-247zM877 1797h247v9h-247zM877 1830h247v3h-247zM877 1860h247v3h-247zM877 2052h247v3h-247zM877 2076h247v3h-247zM877 2082h247v6h-247zM877 2091h247v3h-247zM877 2127h247v3h-247z" fill="#b3b1da"/>
<path d="M877 1497h247v9h-247zM877 1578h247v6h-247zM877 1644h247v3h-247zM877 1656h247v3h-247zM877 1740h247v3h-247zM877 1794h247v3h-247zM877 1833h247v3h-247zM877 1980h247v6h-247zM877 2106h247v3h-247zM877 2115h247v3h-247zM877 2130h247v3h-247zM877 2136h247v3h-247z" fill="#bab8de"/>
<path d="M877 1494h247v3h-247zM877 1566h247v3h-247zM877 1572h247v3h-247zM877 1584h247v3h-247zM877 1734h247v3h-247zM877 1743h247v3h-247zM877 1773h247v6h-247zM877 1986h247v6h-247zM877 2058h247v3h-247zM877 2073h247v3h-247zM877 2109h247v3h-247zM877 2133h247v3h-247zM877 2370h247v6h-247z" fill="#c2c0e2"/>
<path d="M877 1569h247v3h-247zM877 1632h247v3h-247zM877 1638h247v6h-247zM877 1677h247v3h-247zM877 1737h247v3h-247zM877 1806h247v6h-247zM877 2112h247v3h-247zM877 2391h247v3h-247z" fill="#cac8e6"/>
<path d="M877 1635h247v3h-247zM877 1680h247v3h-247zM877 1812h247v3h-247zM877 1818h247v3h-247zM877 2382h247v6h-247z" fill="#d1cfe9"/>
<path d="M877 1488h247v3h-247zM877 1662h247v3h-247zM877 1674h247v3h-247zM877 1815h247v3h-247zM877 2379h247v3h-247zM877 2388h247v3h-247z" fill="#d7d6ec"/>
<path d="M877 1485h247v3h-247zM877 1491h247v3h-247zM877 1665h247v9h-247zM877 1746h247v3h-247zM877 1761h247v3h-247z" fill="#deddef"/>
<path d="M877 1554h247v9h-247zM877 1749h247v6h-247zM877 2376h247v3h-247z" fill="#e4e4f2"/>
<path d="M877 1461h247v3h-247zM877 1563h247v3h-247zM877 1755h247v6h-247zM877 2355h247v3h-247z" fill="#ebeaf6"/>
<path d="M877 2343h247v3h-247zM877 2358h247v12h-247z" fill="#f2f1f9"/>
<path d="M877 1458h247v3h-247zM877 2325h247v3h-247zM877 2331h247v3h-247z" fill="#f8f8fc"/>
<path d="M877 1506h247v9h-247zM877 2322h247v3h-247zM877 2328h247v3h-247zM877 2334h247v9h-247z" fill="#ffffff"/>
<path d="M877 1473h247v3h-247zM877 1521h247v6h-247z" fill="#fef8f8"/>
<path d="M877 1467h247v6h-247z" fill="#fef2f2"/>
<path d="M877 1464h247v3h-247zM877 1476h247v9h-247zM877 1515h247v3h-247zM877 2346h247v3h-247z" fill="#fdebeb"/>
<path d="M877 1518h247v3h-247zM877 2349h247v6h-247z" fill="#fce4e4"/>
<path d="M877 2907h247v3h-247z" fill="#fcddde"/>
<path d="M877 2574h247v3h-247zM877 2580h247v3h-247zM877 2778h247v6h-247zM877 2910h247v3h-247z" fill="#fbd6d7"/>
<path d="M877 2571h247v3h-247zM877 2577h247v3h-247z" fill="#fbd0d1"/>
<path d="M877 2613h247v6h-247zM877 2694h247v3h-247z" fill="#fac9ca"/>
<path d="M877 2610h247v3h-247zM877 2808h247v3h-247zM877 3210h247v3h-247zM877 3216h247v3h-247z" fill="#f9c2c4"/>
<path d="M877 2607h247v3h-247zM877 2619h247v9h-247zM877 2724h247v3h-247zM877 3096h247v3h-247zM877 3213h247v3h-247z" fill="#f9bcbd"/>
<path d="M877 2559h247v3h-247zM877 2586h247v6h-247zM877 2604h247v3h-247zM877 2628h247v3h-247zM877 2691h247v3h-247zM877 2697h247v3h-247zM877 2718h247v3h-247zM877 2739h247v3h-247zM877 2823h247v3h-247zM877 2913h247v6h-247zM877 2925h247v3h-247zM877 3090h247v3h-247zM877 3108h247v9h-247zM877 3192h247v3h-247zM877 3207h247v3h-247z" fill="#f8b5b6"/>
<path d="M877 2544h247v6h-247zM877 2553h247v3h-247zM877 2583h247v3h-247zM877 2592h247v6h-247zM877 2682h247v6h-247zM877 2721h247v3h-247zM877 2748h247v9h-247zM877 2784h247v3h-247zM877 2811h247v3h-247zM877 2820h247v3h-247zM877 2862h247v3h-247zM877 2871h247v3h-247zM877 2892h247v3h-247zM877 2898h247v3h-247zM877 2919h247v3h-247zM877 2928h247v3h-247zM877 3102h247v3h-247zM877 3126h247v3h-247zM877 3156h247v3h-247zM877 3195h247v3h-247zM877 3219h247v3h-247z" fill="#f8aeb0"/>
<path d="M877 2541h247v3h-247zM877 2556h247v3h-247zM877 2568h247v3h-247zM877 2601h247v3h-247zM877 2646h247v3h-247zM877 2652h247v6h-247zM877 2676h247v3h-247zM877 2688h247v3h-247zM877 2727h247v6h-247zM877 2757h247v3h-247zM877 2766h247v3h-247zM877 2790h247v3h-247zM877 2805h247v3h-247zM877 2814h247v3h-247zM877 2844h247v3h-247zM877 2850h247v3h-247zM877 2859h247v3h-247zM877 2865h247v6h-247zM877 2880h247v3h-247zM877 2895h247v3h-247zM877 3051h247v3h-247zM877 3093h247v3h-247zM877 3105h247v3h-247zM877 3117h247v3h-247zM877 3129h247v9h-247zM877 3165h247v3h-247z" fill="#f7a8aa"/>
<path d="M877 2562h247v3h-247zM877 2649h247v3h-247zM877 2658h247v12h-247zM877 2679h247v3h-247zM877 2733h247v6h-247zM877 2769h247v3h-247zM877 2787h247v3h-247zM877 2793h247v3h-247zM877 2826h247v3h-247zM877 2841h247v3h-247zM877 2847h247v3h-247zM877 2853h247v3h-247zM877 2889h247v3h-247zM877 2931h247v6h-247zM877 3048h247v3h-247zM877 3054h247v3h-247zM877 3069h247v6h-247zM877 3087h247v3h-247zM877 3099h247v3h-247zM877 3123h247v3h-247zM877 3147h247v9h-247zM877 3168h247v3h-247zM877 3189h247v3h-247zM877 3198h247v3h-247z" fill="#f6a1a3"/>
<path d="M877 2565h247v3h-247zM877 2598h247v3h-247zM877 2640h247v6h-247zM877 2673h247v3h-247zM877 2760h247v6h-247zM877 2802h247v3h-247zM877 2829h247v3h-247zM877 2838h247v3h-247zM877 2856h247v3h-247zM877 2877h247v3h-247zM877 2883h247v3h-247zM877 2901h247v6h-247zM877 2922h247v3h-247zM877 3024h247v3h-247zM877 3045h247v3h-247zM877 3138h247v9h-247zM877 3159h247v3h-247zM877 3186h247v3h-247zM877 3201h247v3h-247z" fill="#f69b9c"/>
<path d="M877 2550h247v3h-247zM877 2631h247v3h-247zM877 2670h247v3h-247zM877 2706h247v3h-247zM877 2712h247v6h-247zM877 2772h247v6h-247zM877 2796h247v3h-247zM877 2817h247v3h-247zM877 2832h247v6h-247zM877 2874h247v3h-247zM877 2967h247v3h-247zM877 3036h247v3h-247zM877 3042h247v3h-247zM877 3066h247v3h-247zM877 3075h247v3h-247zM877 3120h247v3h-247zM877 3162h247v3h-247zM877 3225h247v2h-247z" fill="#f59496"/>
<path d="M877 2634h247v6h-247zM877 2703h247v3h-247zM877 2799h247v3h-247zM877 2886h247v3h-247zM877 2970h247v3h-247zM877 3000h247v3h-247zM877 3027h247v3h-247zM877 3039h247v3h-247zM877 3057h247v9h-247zM877 3183h247v3h-247zM877 3204h247v3h-247zM877 3222h247v3h-247z" fill="#f48d8f"/>
<path d="M877 2997h247v3h-247zM877 3171h247v6h-247zM877 3180h247v3h-247z" fill="#f48688"/>
<path d="M877 2700h247v3h-247zM877 2709h247v3h-247zM877 2745h247v3h-247zM877 2961h247v6h-247zM877 2973h247v3h-247zM877 3177h247v3h-247z" fill="#f47f81"/>
<path d="M877 2742h247v3h-247zM877 2955h247v6h-247zM877 2976h247v3h-247zM877 2982h247v9h-247zM877 2994h247v3h-247zM877 3030h247v6h-247zM877 3078h247v3h-247zM877 3084h247v3h-247z" fill="#f3787a"/>
<path d="M877 2949h247v3h-247zM877 2979h247v3h-247zM877 2991h247v3h-247zM877 3081h247v3h-247z" fill="#f27173"/>
<path d="M877 2946h247v3h-247zM877 3003h247v3h-247zM877 3009h247v6h-247zM877 3021h247v3h-247z" fill="#f26a6c"/>
<path d="M877 2940h247v6h-247zM877 2952h247v3h-247zM877 3006h247v3h-247zM877 3015h247v3h-247z" fill="#f26365"/>
<path d="M877 2937h247v3h-247zM877 3018h247v3h-247z" fill="#f15c5e"/>
<path d="M1124 2322h248v6h-248zM1124 2337h248v9h-248z" fill="#3f53a5"/>
<path d="M1124 2328h248v9h-248zM1124 2349h248v3h-248zM1124 2358h248v9h-248z" fill="#3f53a5"/>
<path d="M1124 1755h248v3h-248zM1124 2346h248v3h-248zM1124 2352h248v6h-248z" fill="#4355a6"/>
<path d="M1124 1737h248v6h-248zM1124 1758h248v9h-248zM1124 1887h248v3h-248z" fill="#4657a7"/>
<path d="M1124 1743h248v3h-248zM1124 1749h248v3h-248zM1124 1980h248v3h-248z" fill="#4a59a8"/>
<path d="M1124 1752h248v3h-248zM1124 1767h248v3h-248zM1124 1776h248v3h-248zM1124 1875h248v3h-248zM1124 1974h248v6h-248zM1124 1998h248v9h-248zM1124 2037h248v3h-248zM1124 2058h248v3h-248zM1124 2124h248v3h-248z" fill="#4e5caa"/>
<path d="M1124 1746h248v3h-248zM1124 1830h248v3h-248zM1124 1872h248v3h-248zM1124 1884h248v3h-248zM1124 1983h248v3h-248zM1124 2007h248v3h-248zM1124 2040h248v3h-248zM1124 2055h248v3h-248z" fill="#515eab"/>
<path d="M1124 1587h248v3h-248zM1124 1770h248v3h-248zM1124 1836h248v3h-248zM1124 1842h248v3h-248zM1124 1851h248v6h-248zM1124 1881h248v3h-248zM1124 1899h248v3h-248zM1124 1905h248v12h-248zM1124 1986h248v6h-248zM1124 2010h248v3h-248zM1124 2034h248v3h-248zM1124 2052h248v3h-248zM1124 2061h248v6h-248zM1124 2079h248v3h-248zM1124 2109h248v3h-248zM1124 2118h248v3h-248zM1124 2382h248v9h-248z" fill="#5560ac"/>
<path d="M1124 1590h248v3h-248zM1124 1596h248v3h-248zM1124 1713h248v3h-248zM1124 1773h248v3h-248zM1124 1788h248v3h-248zM1124 1806h248v3h-248zM1124 1812h248v9h-248zM1124 1833h248v3h-248zM1124 1845h248v3h-248zM1124 1857h248v9h-248zM1124 1878h248v3h-248zM1124 1917h248v3h-248zM1124 1926h248v3h-248zM1124 1938h248v3h-248zM1124 1992h248v6h-248zM1124 2022h248v3h-248zM1124 2043h248v3h-248zM1124 2073h248v6h-248zM1124 2088h248v3h-248zM1124 2097h248v6h-248zM1124 2106h248v3h-248zM1124 2115h248v3h-248zM1124 2121h248v3h-248z" fill="#5862ad"/>
<path d="M1124 1575h248v3h-248zM1124 1716h248v3h-248zM1124 1728h248v3h-248zM1124 1785h248v3h-248zM1124 1791h248v3h-248zM1124 1797h248v9h-248zM1124 1848h248v3h-248zM1124 1869h248v3h-248zM1124 1932h248v3h-248zM1124 2019h248v3h-248zM1124 2049h248v3h-248zM1124 2082h248v6h-248zM1124 2091h248v6h-248zM1124 2103h248v3h-248zM1124 2112h248v3h-248zM1124 2130h248v6h-248zM1124 2379h248v3h-248zM1124 2391h248v3h-248z" fill="#5c64ae"/>
<path d="M1124 1593h248v3h-248zM1124 1602h248v3h-248zM1124 1701h248v12h-248zM1124 1782h248v3h-248zM1124 1794h248v3h-248zM1124 1809h248v3h-248zM1124 1827h248v3h-248zM1124 1839h248v3h-248zM1124 1866h248v3h-248zM1124 1890h248v3h-248zM1124 1896h248v3h-248zM1124 1902h248v3h-248zM1124 1920h248v6h-248zM1124 1929h248v3h-248zM1124 1935h248v3h-248zM1124 1971h248v3h-248zM1124 2013h248v3h-248zM1124 2067h248v6h-248zM1124 2127h248v3h-248z" fill="#6269b1"/>
<path d="M1124 1458h248v6h-248zM1124 1467h248v3h-248zM1124 1548h248v3h-248zM1124 1584h248v3h-248zM1124 1632h248v3h-248zM1124 1650h248v3h-248zM1124 1719h248v3h-248zM1124 1779h248v3h-248zM1124 1821h248v6h-248zM1124 1956h248v3h-248zM1124 2016h248v3h-248zM1124 2025h248v9h-248zM1124 2046h248v3h-248z" fill="#686eb4"/>
<path d="M1124 1464h248v3h-248zM1124 1482h248v3h-248zM1124 1608h248v3h-248zM1124 1626h248v6h-248zM1124 1656h248v3h-248zM1124 1695h248v6h-248zM1124 1722h248v3h-248zM1124 1731h248v6h-248zM1124 1941h248v3h-248zM1124 1968h248v3h-248zM1124 2193h248v3h-248zM1124 2286h248v6h-248z" fill="#6e72b7"/>
<path d="M1124 1470h248v3h-248zM1124 1551h248v3h-248zM1124 1566h248v3h-248zM1124 1572h248v3h-248zM1124 1581h248v3h-248zM1124 1599h248v3h-248zM1124 1605h248v3h-248zM1124 1617h248v3h-248zM1124 1623h248v3h-248zM1124 1641h248v3h-248zM1124 1647h248v3h-248zM1124 1725h248v3h-248zM1124 1893h248v3h-248zM1124 1944h248v3h-248zM1124 1950h248v6h-248zM1124 1959h248v6h-248zM1124 2136h248v6h-248zM1124 2178h248v3h-248zM1124 2184h248v3h-248zM1124 2196h248v3h-248zM1124 2208h248v3h-248zM1124 2283h248v3h-248zM1124 2496h248v3h-248z" fill="#7477ba"/>
<path d="M1124 1473h248v9h-248zM1124 1542h248v6h-248zM1124 1557h248v3h-248zM1124 1563h248v3h-248zM1124 1569h248v3h-248zM1124 1578h248v3h-248zM1124 1611h248v3h-248zM1124 1620h248v3h-248zM1124 1653h248v3h-248zM1124 1947h248v3h-248zM1124 1965h248v3h-248zM1124 2148h248v3h-248zM1124 2163h248v3h-248zM1124 2169h248v3h-248zM1124 2181h248v3h-248zM1124 2187h248v6h-248zM1124 2199h248v6h-248zM1124 2211h248v6h-248zM1124 2295h248v3h-248zM1124 2301h248v3h-248zM1124 2376h248v3h-248z" fill="#7a7cbd"/>
<path d="M1124 1485h248v6h-248zM1124 1554h248v3h-248zM1124 1560h248v3h-248zM1124 1635h248v3h-248zM1124 1644h248v3h-248zM1124 1659h248v6h-248zM1124 2172h248v3h-248zM1124 2205h248v3h-248zM1124 2271h248v6h-248zM1124 2292h248v3h-248zM1124 2373h248v3h-248z" fill="#8080c0"/>
<path d="M1124 1614h248v3h-248zM1124 1638h248v3h-248zM1124 1665h248v3h-248zM1124 2142h248v6h-248zM1124 2154h248v3h-248zM1124 2175h248v3h-248zM1124 2259h248v12h-248zM1124 2313h248v3h-248zM1124 2367h248v6h-248zM1124 2463h248v3h-248zM1124 2499h248v3h-248z" fill="#8685c3"/>
<path d="M1124 2160h248v3h-248zM1124 2235h248v3h-248zM1124 2250h248v3h-248zM1124 2298h248v3h-248zM1124 2304h248v3h-248zM1124 2310h248v3h-248zM1124 2316h248v6h-248zM1124 2466h248v3h-248zM1124 2502h248v3h-248zM1124 2517h248v3h-248z" fill="#8c8ac6"/>
<path d="M1124 1491h248v3h-248zM1124 2151h248v3h-248zM1124 2166h248v3h-248zM1124 2247h248v3h-248zM1124 2277h248v3h-248zM1124 2307h248v3h-248zM1124 2409h248v3h-248zM1124 2472h248v6h-248zM1124 2490h248v3h-248zM1124 2508h248v9h-248z" fill="#9492ca"/>
<path d="M1124 1500h248v6h-248zM1124 1668h248v3h-248zM1124 1680h248v3h-248zM1124 2157h248v3h-248zM1124 2217h248v3h-248zM1124 2238h248v3h-248zM1124 2244h248v3h-248zM1124 2253h248v6h-248zM1124 2280h248v3h-248zM1124 2406h248v3h-248zM1124 2460h248v3h-248zM1124 2469h248v3h-248zM1124 2493h248v3h-248z" fill="#9c9ace"/>
<path d="M1124 1494h248v6h-248zM1124 1671h248v9h-248zM1124 2220h248v3h-248zM1124 2232h248v3h-248zM1124 2241h248v3h-248zM1124 2412h248v6h-248zM1124 2448h248v12h-248zM1124 2487h248v3h-248zM1124 2505h248v3h-248z" fill="#a3a1d2"/>
<path d="M1124 2223h248v9h-248zM1124 2403h248v3h-248zM1124 2478h248v6h-248z" fill="#aba9d6"/>
<path d="M1124 2484h248v3h-248z" fill="#b3b1da"/>
<path d="M1124 2427h248v3h-248zM1124 2442h248v3h-248z" fill="#c2c0e2"/>
<path d="M1124 2430h248v6h-248zM1124 2439h248v3h-248zM1124 2445h248v3h-248z" fill="#cac8e6"/>
<path d="M1124 1686h248v3h-248zM1124 2436h248v3h-248z" fill="#d1cfe9"/>
<path d="M1124 1536h248v6h-248zM1124 1683h248v3h-248zM1124 1689h248v3h-248zM1124 2397h248v6h-248z" fill="#d7d6ec"/>
<path d="M1124 1533h248v3h-248zM1124 1692h248v3h-248z" fill="#deddef"/>
<path d="M1124 1506h248v6h-248zM1124 2394h248v3h-248z" fill="#e4e4f2"/>
<path d="M1124 2529h248v6h-248z" fill="#f8f8fc"/>
<path d="M1124 1515h248v3h-248zM1124 1524h248v6h-248zM1124 2421h248v3h-248zM1124 2526h248v3h-248z" fill="#ffffff"/>
<path d="M1124 1518h248v6h-248zM1124 1530h248v3h-248zM1124 2418h248v3h-248zM1124 2424h248v3h-248zM1124 2520h248v6h-248zM1124 2736h248v3h-248zM1124 3201h248v6h-248z" fill="#fef8f8"/>
<path d="M1124 2535h248v3h-248zM1124 2733h248v3h-248zM1124 2739h248v3h-248z" fill="#fef2f2"/>
<path d="M1124 1512h248v3h-248zM1124 2742h248v6h-248z" fill="#fce4e4"/>
<path d="M1124 2568h248v3h-248z" fill="#fcddde"/>
<path d="M1124 2562h248v6h-248zM1124 2571h248v3h-248z" fill="#fbd0d1"/>
<path d="M1124 3210h248v3h-248z" fill="#f9c2c4"/>
<path d="M1124 2592h248v3h-248zM1124 2874h248v3h-248zM1124 2889h248v6h-248zM1124 3033h248v3h-248z" fill="#f9bcbd"/>
<path d="M1124 2544h248v3h-248zM1124 2595h248v3h-248zM1124 2724h248v3h-248zM1124 2925h248v3h-248z" fill="#f8b5b6"/>
<path d="M1124 2691h248v3h-248zM1124 2697h248v3h-248zM1124 2727h248v3h-248zM1124 2913h248v3h-248zM1124 3024h248v3h-248zM1124 3030h248v3h-248zM1124 3213h248v6h-248zM1124 3225h248v2h-248z" fill="#f8aeb0"/>
<path d="M1124 2541h248v3h-248zM1124 2547h248v3h-248zM1124 2553h248v3h-248zM1124 2574h248v3h-248zM1124 2589h248v3h-248zM1124 2604h248v3h-248zM1124 2694h248v3h-248zM1124 2706h248v3h-248zM1124 2883h248v3h-248zM1124 2919h248v6h-248zM1124 3003h248v3h-248zM1124 3015h248v3h-248zM1124 3207h248v3h-248zM1124 3222h248v3h-248z" fill="#f7a8aa"/>
<path d="M1124 2550h248v3h-248zM1124 2556h248v6h-248zM1124 2577h248v3h-248zM1124 2583h248v6h-248zM1124 2601h248v3h-248zM1124 2700h248v6h-248zM1124 2718h248v3h-248zM1124 2730h248v3h-248zM1124 2805h248v3h-248zM1124 2877h248v6h-248zM1124 2886h248v3h-248zM1124 2895h248v3h-248zM1124 2910h248v3h-248zM1124 3009h248v3h-248zM1124 3018h248v6h-248zM1124 3027h248v3h-248zM1124 3219h248v3h-248z" fill="#f6a1a3"/>
<path d="M1124 2580h248v3h-248zM1124 2613h248v3h-248zM1124 2673h248v3h-248zM1124 2685h248v6h-248zM1124 2709h248v3h-248zM1124 2715h248v3h-248zM1124 2721h248v3h-248zM1124 2802h248v3h-248zM1124 2814h248v3h-248zM1124 2862h248v6h-248zM1124 2916h248v3h-248zM1124 3006h248v3h-248zM1124 3078h248v6h-248z" fill="#f69b9c"/>
<path d="M1124 2598h248v3h-248zM1124 2607h248v3h-248zM1124 2616h248v6h-248zM1124 2655h248v6h-248zM1124 2667h248v3h-248zM1124 2676h248v3h-248zM1124 2682h248v3h-248zM1124 2712h248v3h-248zM1124 2799h248v3h-248zM1124 2811h248v3h-248zM1124 2817h248v3h-248zM1124 2844h248v9h-248zM1124 2856h248v6h-248zM1124 2907h248v3h-248zM1124 2928h248v6h-248zM1124 2937h248v6h-248zM1124 2946h248v3h-248zM1124 2988h248v6h-248zM1124 3012h248v3h-248zM1124 3036h248v3h-248zM1124 3093h248v3h-248zM1124 3195h248v6h-248z" fill="#f59496"/>
<path d="M1124 2646h248v3h-248zM1124 2670h248v3h-248zM1124 2679h248v3h-248zM1124 2748h248v3h-248zM1124 2766h248v3h-248zM1124 2790h248v9h-248zM1124 2808h248v3h-248zM1124 2853h248v3h-248zM1124 2868h248v6h-248zM1124 2904h248v3h-248zM1124 2949h248v6h-248zM1124 3051h248v3h-248zM1124 3075h248v3h-248zM1124 3084h248v3h-248zM1124 3090h248v3h-248zM1124 3183h248v3h-248z" fill="#f48d8f"/>
<path d="M1124 2610h248v3h-248zM1124 2622h248v3h-248zM1124 2631h248v3h-248zM1124 2640h248v6h-248zM1124 2652h248v3h-248zM1124 2664h248v3h-248zM1124 2763h248v3h-248zM1124 2898h248v3h-248zM1124 2934h248v3h-248zM1124 2973h248v3h-248zM1124 2994h248v9h-248zM1124 3054h248v3h-248zM1124 3066h248v3h-248zM1124 3072h248v3h-248zM1124 3087h248v3h-248zM1124 3189h248v6h-248z" fill="#f48688"/>
<path d="M1124 2538h248v3h-248zM1124 2625h248v6h-248zM1124 2634h248v6h-248zM1124 2649h248v3h-248zM1124 2661h248v3h-248zM1124 2751h248v6h-248zM1124 2760h248v3h-248zM1124 2775h248v6h-248zM1124 2787h248v3h-248zM1124 2943h248v3h-248zM1124 2955h248v6h-248zM1124 2976h248v3h-248zM1124 2985h248v3h-248zM1124 3042h248v3h-248zM1124 3057h248v9h-248zM1124 3069h248v3h-248zM1124 3180h248v3h-248zM1124 3186h248v3h-248z" fill="#f47f81"/>
<path d="M1124 2757h248v3h-248zM1124 2769h248v6h-248zM1124 2781h248v6h-248zM1124 2901h248v3h-248zM1124 3039h248v3h-248zM1124 3045h248v6h-248zM1124 3123h248v6h-248zM1124 3150h248v3h-248zM1124 3156h248v3h-248z" fill="#f3787a"/>
<path d="M1124 2832h248v9h-248zM1124 2961h248v12h-248zM1124 2979h248v6h-248zM1124 3096h248v6h-248zM1124 3105h248v9h-248zM1124 3120h248v3h-248zM1124 3138h248v3h-248zM1124 3144h248v3h-248zM1124 3153h248v3h-248z" fill="#f27173"/>
<path d="M1124 2829h248v3h-248zM1124 2841h248v3h-248zM1124 3102h248v3h-248zM1124 3117h248v3h-248zM1124 3129h248v3h-248zM1124 3141h248v3h-248zM1124 3147h248v3h-248zM1124 3159h248v6h-248zM1124 3168h248v3h-248z" fill="#f26a6c"/>
<path d="M1124 2820h248v3h-248zM1124 2826h248v3h-248zM1124 3114h248v3h-248zM1124 3132h248v3h-248zM1124 3165h248v3h-248zM1124 3174h248v3h-248z" fill="#f26365"/>
<path d="M1124 2823h248v3h-248zM1124 3135h248v3h-248zM1124 3171h248v3h-248zM1124 3177h248v3h-248z" fill="#f15c5e"/>
<path d="M1372 3021h246v3h-246z" fill="#515eab"/>
<path d="M1372 3027h246v3h-246z" fill="#5560ac"/>
<path d="M1372 3024h246v3h-246zM1372 3102h246v3h-246z" fill="#5862ad"/>
<path d="M1372 3030h246v3h-246zM1372 3150h246v3h-246z" fill="#5c64ae"/>
<path d="M1372 3015h246v6h-246zM1372 3099h246v3h-246zM1372 3105h246v6h-246z" fill="#6269b1"/>
<path d="M1372 3045h246v3h-246zM1372 3096h246v3h-246zM1372 3153h246v3h-246zM1372 3201h246v3h-246z" fill="#686eb4"/>
<path d="M1372 3111h246v3h-246zM1372 3156h246v3h-246zM1372 3168h246v3h-246z" fill="#6e72b7"/>
<path d="M1372 3009h246v3h-246zM1372 3042h246v3h-246zM1372 3048h246v6h-246zM1372 3120h246v3h-246zM1372 3165h246v3h-246zM1372 3171h246v3h-246zM1372 3207h246v6h-246z" fill="#7477ba"/>
<path d="M1372 3039h246v3h-246zM1372 3054h246v3h-246zM1372 3078h246v3h-246zM1372 3126h246v3h-246zM1372 3159h246v6h-246zM1372 3174h246v3h-246zM1372 3204h246v3h-246z" fill="#7a7cbd"/>
<path d="M1372 2679h246v3h-246zM1372 2691h246v3h-246zM1372 3012h246v3h-246zM1372 3036h246v3h-246zM1372 3057h246v3h-246zM1372 3072h246v6h-246zM1372 3081h246v3h-246zM1372 3117h246v3h-246zM1372 3123h246v3h-246zM1372 3213h246v3h-246z" fill="#8080c0"/>
<path d="M1372 2544h246v3h-246zM1372 2550h246v9h-246zM1372 2565h246v6h-246zM1372 2640h246v3h-246zM1372 2670h246v3h-246zM1372 2697h246v3h-246zM1372 2973h246v3h-246zM1372 3033h246v3h-246zM1372 3063h246v6h-246zM1372 3084h246v6h-246zM1372 3093h246v3h-246zM1372 3219h246v3h-246z" fill="#8685c3"/>
<path d="M1372 2541h246v3h-246zM1372 2547h246v3h-246zM1372 2559h246v6h-246zM1372 2673h246v6h-246zM1372 2682h246v3h-246zM1372 2694h246v3h-246zM1372 2964h246v9h-246zM1372 2976h246v3h-246zM1372 3060h246v3h-246zM1372 3090h246v3h-246zM1372 3114h246v3h-246z" fill="#8c8ac6"/>
<path d="M1372 2628h246v6h-246zM1372 2643h246v3h-246zM1372 2685h246v3h-246zM1372 2751h246v3h-246zM1372 3069h246v3h-246zM1372 3216h246v3h-246zM1372 3222h246v3h-246z" fill="#9492ca"/>
<path d="M1372 2634h246v6h-246zM1372 2646h246v3h-246zM1372 2655h246v3h-246zM1372 2667h246v3h-246zM1372 2688h246v3h-246zM1372 2754h246v3h-246zM1372 2892h246v3h-246zM1372 2955h246v6h-246zM1372 3225h246v2h-246z" fill="#9c9ace"/>
<path d="M1372 2574h246v3h-246zM1372 2649h246v3h-246zM1372 2658h246v6h-246zM1372 2742h246v3h-246zM1372 2748h246v3h-246zM1372 2760h246v3h-246zM1372 2856h246v3h-246zM1372 2952h246v3h-246zM1372 2961h246v3h-246zM1372 2988h246v3h-246z" fill="#a3a1d2"/>
<path d="M1372 2571h246v3h-246zM1372 2577h246v3h-246zM1372 2664h246v3h-246zM1372 2745h246v3h-246zM1372 2757h246v3h-246zM1372 2763h246v3h-246zM1372 2946h246v6h-246zM1372 2979h246v9h-246zM1372 3006h246v3h-246z" fill="#aba9d6"/>
<path d="M1372 2652h246v3h-246zM1372 2859h246v3h-246zM1372 2943h246v3h-246zM1372 2997h246v6h-246z" fill="#b3b1da"/>
<path d="M1372 2580h246v3h-246zM1372 2613h246v3h-246zM1372 2787h246v3h-246zM1372 2793h246v3h-246zM1372 2895h246v12h-246zM1372 2937h246v6h-246zM1372 2991h246v6h-246zM1372 3003h246v3h-246zM1372 3177h246v3h-246z" fill="#bab8de"/>
<path d="M1372 2592h246v3h-246zM1372 2700h246v3h-246zM1372 2862h246v6h-246z" fill="#c2c0e2"/>
<path d="M1372 2583h246v9h-246zM1372 2601h246v3h-246zM1372 2607h246v3h-246zM1372 2616h246v3h-246zM1372 2703h246v3h-246zM1372 2790h246v3h-246zM1372 2838h246v3h-246zM1372 3129h246v3h-246zM1372 3135h246v3h-246zM1372 3141h246v3h-246zM1372 3147h246v3h-246zM1372 3180h246v3h-246z" fill="#cac8e6"/>
<path d="M1372 2595h246v3h-246zM1372 2709h246v3h-246zM1372 2766h246v3h-246zM1372 2778h246v9h-246zM1372 2796h246v15h-246zM1372 2835h246v3h-246zM1372 2850h246v6h-246zM1372 3132h246v3h-246zM1372 3144h246v3h-246z" fill="#d1cfe9"/>
<path d="M1372 2604h246v3h-246zM1372 2610h246v3h-246zM1372 2622h246v6h-246zM1372 2706h246v3h-246zM1372 2772h246v6h-246zM1372 2823h246v6h-246zM1372 2844h246v3h-246zM1372 2868h246v15h-246zM1372 3138h246v3h-246z" fill="#d7d6ec"/>
<path d="M1372 2598h246v3h-246zM1372 2769h246v3h-246zM1372 2814h246v3h-246zM1372 2829h246v6h-246zM1372 2841h246v3h-246zM1372 2847h246v3h-246zM1372 2889h246v3h-246z" fill="#deddef"/>
<path d="M1372 2619h246v3h-246zM1372 2727h246v3h-246zM1372 2811h246v3h-246zM1372 2817h246v3h-246zM1372 2883h246v3h-246z" fill="#e4e4f2"/>
<path d="M1372 2721h246v6h-246zM1372 2730h246v3h-246z" fill="#ebeaf6"/>
<path d="M1372 1545h246v3h-246zM1372 1551h246v3h-246zM1372 2712h246v3h-246zM1372 2718h246v3h-246zM1372 2820h246v3h-246zM1372 2886h246v3h-246zM1372 3192h246v3h-246z" fill="#f2f1f9"/>
<path d="M1372 1548h246v3h-246zM1372 1554h246v3h-246zM1372 1563h246v3h-246zM1372 2715h246v3h-246zM1372 2733h246v9h-246zM1372 3195h246v6h-246z" fill="#f8f8fc"/>
<path d="M1372 1539h246v3h-246z" fill="#ffffff"/>
<path d="M1372 1530h246v3h-246zM1372 1536h246v3h-246zM1372 1560h246v3h-246zM1372 2928h246v3h-246zM1372 2934h246v3h-246z" fill="#fef8f8"/>
<path d="M1372 1533h246v3h-246zM1372 1557h246v3h-246zM1372 1566h246v3h-246zM1372 1572h246v3h-246zM1372 1623h246v3h-246zM1372 1986h246v3h-246zM1372 2919h246v3h-246zM1372 2925h246v3h-246zM1372 2931h246v3h-246z" fill="#fef2f2"/>
<path d="M1372 1506h246v3h-246zM1372 1569h246v3h-246zM1372 1575h246v3h-246zM1372 1983h246v3h-246zM1372 2922h246v3h-246zM1372 3186h246v3h-246z" fill="#fdebeb"/>
<path d="M1372 1503h246v3h-246zM1372 1542h246v3h-246zM1372 1578h246v3h-246zM1372 1611h246v3h-246zM1372 1620h246v3h-246zM1372 1626h246v6h-246zM1372 1677h246v3h-246zM1372 2361h246v3h-246zM1372 3183h246v3h-246zM1372 3189h246v3h-246z" fill="#fce4e4"/>
<path d="M1372 1608h246v3h-246zM1372 1614h246v6h-246zM1372 1665h246v12h-246zM1372 1980h246v3h-246zM1372 2364h246v3h-246z" fill="#fcddde"/>
<path d="M1372 1581h246v3h-246zM1372 1599h246v6h-246zM1372 1632h246v3h-246zM1372 1977h246v3h-246zM1372 2202h246v6h-246zM1372 2358h246v3h-246zM1372 2907h246v6h-246z" fill="#fbd6d7"/>
<path d="M1372 1605h246v3h-246zM1372 1704h246v6h-246zM1372 1809h246v3h-246zM1372 1818h246v3h-246zM1372 2046h246v6h-246zM1372 2055h246v3h-246zM1372 2061h246v6h-246zM1372 2199h246v3h-246zM1372 2217h246v6h-246zM1372 2355h246v3h-246zM1372 2913h246v6h-246z" fill="#fbd0d1"/>
<path d="M1372 1695h246v6h-246zM1372 1710h246v3h-246zM1372 1737h246v3h-246zM1372 2043h246v3h-246zM1372 2052h246v3h-246zM1372 2058h246v3h-246zM1372 2067h246v3h-246zM1372 2106h246v3h-246zM1372 2208h246v9h-246zM1372 2226h246v3h-246z" fill="#fac9ca"/>
<path d="M1372 1701h246v3h-246zM1372 1740h246v6h-246zM1372 1806h246v3h-246zM1372 1815h246v3h-246zM1372 2010h246v6h-246zM1372 2070h246v3h-246zM1372 2091h246v6h-246zM1372 2100h246v3h-246zM1372 2196h246v3h-246zM1372 2331h246v3h-246zM1372 2343h246v3h-246z" fill="#f9c2c4"/>
<path d="M1372 1482h246v3h-246zM1372 1689h246v6h-246zM1372 1812h246v3h-246zM1372 1995h246v3h-246zM1372 2040h246v3h-246zM1372 2097h246v3h-246zM1372 2223h246v3h-246zM1372 2250h246v6h-246zM1372 2337h246v6h-246zM1372 2352h246v3h-246zM1372 2427h246v3h-246z" fill="#f9bcbd"/>
<path d="M1372 1458h246v6h-246zM1372 1479h246v3h-246zM1372 1509h246v3h-246zM1372 1515h246v3h-246zM1372 1524h246v3h-246zM1372 1596h246v3h-246zM1372 1680h246v9h-246zM1372 1728h246v3h-246zM1372 1746h246v3h-246zM1372 1911h246v6h-246zM1372 2016h246v3h-246zM1372 2037h246v3h-246zM1372 2109h246v3h-246zM1372 2118h246v3h-246zM1372 2262h246v3h-246zM1372 2274h246v3h-246zM1372 2325h246v6h-246zM1372 2349h246v3h-246zM1372 2424h246v3h-246z" fill="#f8b5b6"/>
<path d="M1372 1464h246v3h-246zM1372 1470h246v3h-246zM1372 1527h246v3h-246zM1372 1584h246v12h-246zM1372 1713h246v3h-246zM1372 1719h246v3h-246zM1372 1908h246v3h-246zM1372 1929h246v6h-246zM1372 1938h246v3h-246zM1372 2019h246v3h-246zM1372 2103h246v3h-246zM1372 2121h246v3h-246zM1372 2244h246v3h-246zM1372 2259h246v3h-246zM1372 2265h246v9h-246zM1372 2286h246v9h-246zM1372 2346h246v3h-246zM1372 2394h246v3h-246zM1372 2403h246v3h-246zM1372 2421h246v3h-246zM1372 2430h246v6h-246zM1372 2523h246v3h-246zM1372 2529h246v3h-246z" fill="#f8aeb0"/>
<path d="M1372 1467h246v3h-246zM1372 1473h246v3h-246zM1372 1518h246v6h-246zM1372 1716h246v3h-246zM1372 1725h246v3h-246zM1372 1731h246v3h-246zM1372 1755h246v3h-246zM1372 1770h246v3h-246zM1372 1893h246v3h-246zM1372 1926h246v3h-246zM1372 1941h246v3h-246zM1372 1989h246v6h-246zM1372 1998h246v6h-246zM1372 2007h246v3h-246zM1372 2025h246v12h-246zM1372 2076h246v6h-246zM1372 2088h246v3h-246zM1372 2112h246v3h-246zM1372 2190h246v3h-246zM1372 2229h246v3h-246zM1372 2238h246v3h-246zM1372 2256h246v3h-246zM1372 2295h246v3h-246zM1372 2301h246v3h-246zM1372 2334h246v3h-246zM1372 2397h246v6h-246zM1372 2418h246v3h-246zM1372 2520h246v3h-246z" fill="#f7a8aa"/>
<path d="M1372 1476h246v3h-246zM1372 1512h246v3h-246zM1372 1650h246v6h-246zM1372 1722h246v3h-246zM1372 1758h246v3h-246zM1372 1779h246v3h-246zM1372 1917h246v6h-246zM1372 1944h246v9h-246zM1372 2004h246v3h-246zM1372 2022h246v3h-246zM1372 2073h246v3h-246zM1372 2115h246v3h-246zM1372 2187h246v3h-246zM1372 2247h246v3h-246zM1372 2442h246v3h-246zM1372 2469h246v3h-246zM1372 2526h246v3h-246z" fill="#f6a1a3"/>
<path d="M1372 1734h246v3h-246zM1372 1752h246v3h-246zM1372 1767h246v3h-246zM1372 1821h246v6h-246zM1372 1836h246v3h-246zM1372 1848h246v3h-246zM1372 1866h246v6h-246zM1372 1896h246v12h-246zM1372 1923h246v3h-246zM1372 1935h246v3h-246zM1372 2082h246v3h-246zM1372 2124h246v3h-246zM1372 2145h246v6h-246zM1372 2184h246v3h-246zM1372 2193h246v3h-246zM1372 2241h246v3h-246zM1372 2277h246v3h-246zM1372 2283h246v3h-246zM1372 2298h246v3h-246zM1372 2466h246v3h-246zM1372 2472h246v3h-246z" fill="#f69b9c"/>
<path d="M1372 1641h246v3h-246zM1372 1647h246v3h-246zM1372 1656h246v3h-246zM1372 1662h246v3h-246zM1372 1761h246v6h-246zM1372 1833h246v3h-246zM1372 1842h246v3h-246zM1372 2085h246v3h-246zM1372 2154h246v3h-246zM1372 2232h246v6h-246zM1372 2280h246v3h-246zM1372 2436h246v6h-246zM1372 2463h246v3h-246z" fill="#f59496"/>
<path d="M1372 1485h246v3h-246zM1372 1635h246v3h-246zM1372 1644h246v3h-246zM1372 1659h246v3h-246zM1372 1749h246v3h-246zM1372 1773h246v6h-246zM1372 1782h246v6h-246zM1372 1800h246v3h-246zM1372 1827h246v6h-246zM1372 1839h246v3h-246zM1372 1845h246v3h-246zM1372 1851h246v3h-246zM1372 1878h246v3h-246zM1372 1884h246v3h-246zM1372 2151h246v3h-246zM1372 2172h246v3h-246zM1372 2178h246v3h-246zM1372 2313h246v3h-246zM1372 2412h246v6h-246z" fill="#f48d8f"/>
<path d="M1372 1788h246v6h-246zM1372 1803h246v3h-246zM1372 1854h246v12h-246zM1372 1872h246v3h-246zM1372 1887h246v6h-246zM1372 2136h246v3h-246zM1372 2142h246v3h-246zM1372 2169h246v3h-246zM1372 2175h246v3h-246zM1372 2181h246v3h-246zM1372 2307h246v6h-246zM1372 2316h246v3h-246zM1372 2322h246v3h-246zM1372 2409h246v3h-246zM1372 2484h246v3h-246z" fill="#f48688"/>
<path d="M1372 1500h246v3h-246zM1372 1638h246v3h-246zM1372 1794h246v6h-246zM1372 1875h246v3h-246zM1372 1881h246v3h-246zM1372 1959h246v3h-246zM1372 1965h246v6h-246zM1372 2139h246v3h-246zM1372 2157h246v3h-246zM1372 2304h246v3h-246zM1372 2454h246v3h-246zM1372 2475h246v3h-246zM1372 2496h246v6h-246zM1372 2517h246v3h-246z" fill="#f47f81"/>
<path d="M1372 1488h246v3h-246zM1372 1962h246v3h-246zM1372 2130h246v6h-246zM1372 2319h246v3h-246zM1372 2370h246v3h-246zM1372 2448h246v3h-246zM1372 2457h246v3h-246zM1372 2478h246v6h-246zM1372 2487h246v3h-246zM1372 2493h246v3h-246zM1372 2502h246v15h-246z" fill="#f3787a"/>
<path d="M1372 1491h246v9h-246zM1372 1953h246v6h-246zM1372 1971h246v3h-246zM1372 2127h246v3h-246zM1372 2367h246v3h-246zM1372 2373h246v6h-246zM1372 2406h246v3h-246zM1372 2445h246v3h-246zM1372 2451h246v3h-246zM1372 2460h246v3h-246zM1372 2490h246v3h-246zM1372 2535h246v6h-246z" fill="#f27173"/>
<path d="M1372 2379h246v15h-246z" fill="#f26a6c"/>
<path d="M1372 1974h246v3h-246zM1372 2160h246v9h-246zM1372 2532h246v3h-246z" fill="#f26365"/>
<path d="M1618 2805h247v3h-247z" fill="#3f53a5"/>
<path d="M1618 2799h247v6h-247zM1618 2808h247v6h-247z" fill="#3f53a5"/>
<path d="M1618 2772h247v6h-247zM1618 2784h247v3h-247zM1618 2796h247v3h-247zM1618 2814h247v6h-247z" fill="#4355a6"/>
<path d="M1618 2724h247v3h-247zM1618 2766h247v6h-247zM1618 2778h247v6h-247zM1618 2787h247v9h-247z" fill="#4657a7"/>
<path d="M1618 2718h247v6h-247z" fill="#4a59a8"/>
<path d="M1618 2730h247v6h-247zM1618 2760h247v6h-247z" fill="#4e5caa"/>
<path d="M1618 2727h247v3h-247z" fill="#515eab"/>
<path d="M1618 2577h247v3h-247zM1618 2583h247v6h-247zM1618 2598h247v3h-247zM1618 2607h247v3h-247zM1618 2715h247v3h-247zM1618 2736h247v3h-247zM1618 2745h247v3h-247zM1618 2754h247v6h-247zM1618 2832h247v3h-247zM1618 2913h247v3h-247zM1618 2922h247v3h-247z" fill="#5560ac"/>
<path d="M1618 2562h247v3h-247zM1618 2574h247v3h-247zM1618 2580h247v3h-247zM1618 2592h247v3h-247zM1618 2601h247v3h-247zM1618 2610h247v3h-247zM1618 2625h247v3h-247zM1618 2652h247v3h-247zM1618 2706h247v3h-247zM1618 2712h247v3h-247zM1618 2748h247v3h-247zM1618 2919h247v3h-247z" fill="#5862ad"/>
<path d="M1618 2559h247v3h-247zM1618 2565h247v3h-247zM1618 2571h247v3h-247zM1618 2589h247v3h-247zM1618 2595h247v3h-247zM1618 2613h247v6h-247zM1618 2628h247v3h-247zM1618 2649h247v3h-247zM1618 2709h247v3h-247zM1618 2739h247v3h-247zM1618 2751h247v3h-247zM1618 2835h247v6h-247zM1618 2847h247v3h-247zM1618 2907h247v3h-247zM1618 2916h247v3h-247z" fill="#5c64ae"/>
<path d="M1618 2544h247v3h-247zM1618 2604h247v3h-247zM1618 2619h247v3h-247zM1618 2631h247v3h-247zM1618 2646h247v3h-247zM1618 2661h247v3h-247zM1618 2682h247v3h-247zM1618 2691h247v3h-247zM1618 2742h247v3h-247zM1618 2841h247v3h-247zM1618 2910h247v3h-247zM1618 3012h247v6h-247z" fill="#6269b1"/>
<path d="M1618 2541h247v3h-247zM1618 2550h247v6h-247zM1618 2568h247v3h-247zM1618 2622h247v3h-247zM1618 2655h247v3h-247zM1618 2667h247v3h-247zM1618 2685h247v3h-247zM1618 2694h247v12h-247zM1618 2829h247v3h-247zM1618 2844h247v3h-247zM1618 2880h247v3h-247zM1618 2931h247v3h-247zM1618 3006h247v3h-247z" fill="#686eb4"/>
<path d="M1618 2547h247v3h-247zM1618 2556h247v3h-247zM1618 2670h247v6h-247zM1618 2679h247v3h-247zM1618 2688h247v3h-247zM1618 2820h247v9h-247zM1618 2925h247v3h-247zM1618 3009h247v3h-247z" fill="#6e72b7"/>
<path d="M1618 2643h247v3h-247zM1618 2664h247v3h-247zM1618 2883h247v3h-247zM1618 2928h247v3h-247zM1618 3177h247v3h-247z" fill="#7477ba"/>
<path d="M1618 2640h247v3h-247zM1618 2658h247v3h-247zM1618 2676h247v3h-247zM1618 2862h247v6h-247zM1618 2871h247v3h-247zM1618 2877h247v3h-247zM1618 2886h247v3h-247zM1618 2934h247v3h-247zM1618 2976h247v3h-247zM1618 2982h247v6h-247zM1618 3003h247v3h-247z" fill="#7a7cbd"/>
<path d="M1618 2637h247v3h-247zM1618 2868h247v3h-247zM1618 2874h247v3h-247zM1618 2970h247v3h-247zM1618 2979h247v3h-247zM1618 3171h247v6h-247z" fill="#8080c0"/>
<path d="M1618 2412h247v3h-247zM1618 2889h247v3h-247zM1618 2895h247v3h-247zM1618 2904h247v3h-247zM1618 2967h247v3h-247zM1618 2988h247v3h-247zM1618 3150h247v3h-247z" fill="#8685c3"/>
<path d="M1618 2898h247v6h-247zM1618 2964h247v3h-247zM1618 2973h247v3h-247zM1618 3105h247v15h-247zM1618 3132h247v3h-247zM1618 3144h247v3h-247z" fill="#8c8ac6"/>
<path d="M1618 2415h247v3h-247zM1618 2634h247v3h-247zM1618 2853h247v3h-247zM1618 2892h247v3h-247zM1618 2940h247v3h-247zM1618 2991h247v3h-247zM1618 3129h247v3h-247zM1618 3159h247v6h-247zM1618 3168h247v3h-247z" fill="#9492ca"/>
<path d="M1618 2850h247v3h-247zM1618 2856h247v3h-247zM1618 2949h247v3h-247zM1618 2958h247v3h-247zM1618 2997h247v6h-247zM1618 3045h247v3h-247zM1618 3057h247v9h-247zM1618 3090h247v6h-247zM1618 3135h247v3h-247zM1618 3141h247v3h-247zM1618 3153h247v6h-247zM1618 3165h247v3h-247z" fill="#9c9ace"/>
<path d="M1618 2409h247v3h-247zM1618 2859h247v3h-247zM1618 2937h247v3h-247zM1618 2943h247v6h-247zM1618 2955h247v3h-247zM1618 2961h247v3h-247zM1618 2994h247v3h-247zM1618 3030h247v12h-247zM1618 3048h247v6h-247zM1618 3066h247v3h-247zM1618 3072h247v3h-247zM1618 3138h247v3h-247zM1618 3147h247v3h-247z" fill="#a3a1d2"/>
<path d="M1618 2952h247v3h-247zM1618 3042h247v3h-247zM1618 3054h247v3h-247zM1618 3069h247v3h-247zM1618 3075h247v6h-247zM1618 3084h247v6h-247z" fill="#aba9d6"/>
<path d="M1618 3081h247v3h-247z" fill="#b3b1da"/>
<path d="M1618 3216h247v6h-247z" fill="#c2c0e2"/>
<path d="M1618 3102h247v3h-247z" fill="#cac8e6"/>
<path d="M1618 3096h247v3h-247zM1618 3207h247v3h-247zM1618 3225h247v2h-247z" fill="#d1cfe9"/>
<path d="M1618 3099h247v3h-247zM1618 3192h247v3h-247zM1618 3198h247v3h-247zM1618 3213h247v3h-247zM1618 3222h247v3h-247z" fill="#d7d6ec"/>
<path d="M1618 3021h247v3h-247zM1618 3195h247v3h-247zM1618 3210h247v3h-247z" fill="#deddef"/>
<path d="M1618 3018h247v3h-247z" fill="#e4e4f2"/>
<path d="M1618 3024h247v3h-247z" fill="#ebeaf6"/>
<path d="M1618 2391h247v6h-247zM1618 3027h247v3h-247zM1618 3120h247v6h-247z" fill="#f2f1f9"/>
<path d="M1618 2397h247v3h-247zM1618 2406h247v3h-247zM1618 3126h247v3h-247zM1618 3180h247v3h-247zM1618 3189h247v3h-247zM1618 3204h247v3h-247z" fill="#f8f8fc"/>
<path d="M1618 2400h247v3h-247zM1618 3183h247v3h-247zM1618 3201h247v3h-247z" fill="#ffffff"/>
<path d="M1618 2403h247v3h-247zM1618 3186h247v3h-247z" fill="#fef8f8"/>
<path d="M1618 2376h247v3h-247z" fill="#fef2f2"/>
<path d="M1618 1890h247v3h-247zM1618 2370h247v3h-247z" fill="#fdebeb"/>
<path d="M1618 1974h247v3h-247zM1618 2367h247v3h-247zM1618 2373h247v3h-247z" fill="#fce4e4"/>
<path d="M1618 1893h247v3h-247zM1618 1953h247v3h-247zM1618 1962h247v6h-247zM1618 1971h247v3h-247zM1618 2349h247v3h-247z" fill="#fcddde"/>
<path d="M1618 1734h247v3h-247zM1618 1740h247v3h-247zM1618 1887h247v3h-247zM1618 1896h247v3h-247zM1618 1956h247v6h-247zM1618 2343h247v3h-247zM1618 2352h247v3h-247zM1618 2382h247v6h-247z" fill="#fbd6d7"/>
<path d="M1618 1737h247v3h-247zM1618 1968h247v3h-247zM1618 2346h247v3h-247zM1618 2379h247v3h-247zM1618 2439h247v3h-247z" fill="#fbd0d1"/>
<path d="M1618 2388h247v3h-247zM1618 2442h247v3h-247zM1618 2478h247v3h-247zM1618 2487h247v3h-247z" fill="#fac9ca"/>
<path d="M1618 2445h247v6h-247zM1618 2484h247v3h-247z" fill="#f9c2c4"/>
<path d="M1618 1512h247v3h-247zM1618 1650h247v3h-247zM1618 1848h247v6h-247zM1618 2169h247v3h-247zM1618 2175h247v3h-247zM1618 2331h247v6h-247zM1618 2451h247v3h-247zM1618 2532h247v3h-247zM1618 2538h247v3h-247z" fill="#f9bcbd"/>
<path d="M1618 1518h247v9h-247zM1618 1653h247v3h-247zM1618 1707h247v9h-247zM1618 1719h247v3h-247zM1618 1725h247v3h-247zM1618 1731h247v3h-247zM1618 1782h247v3h-247zM1618 1875h247v3h-247zM1618 1881h247v3h-247zM1618 1926h247v3h-247zM1618 1935h247v3h-247zM1618 2160h247v3h-247zM1618 2172h247v3h-247zM1618 2178h247v3h-247zM1618 2313h247v6h-247zM1618 2481h247v3h-247zM1618 2529h247v3h-247zM1618 2535h247v3h-247z" fill="#f8b5b6"/>
<path d="M1618 1527h247v3h-247zM1618 1647h247v3h-247zM1618 1656h247v6h-247zM1618 1716h247v3h-247zM1618 1722h247v3h-247zM1618 1764h247v3h-247zM1618 1824h247v3h-247zM1618 1854h247v3h-247zM1618 1860h247v3h-247zM1618 1866h247v3h-247zM1618 1878h247v3h-247zM1618 1884h247v3h-247zM1618 1911h247v3h-247zM1618 1920h247v6h-247zM1618 1932h247v3h-247zM1618 2136h247v3h-247zM1618 2166h247v3h-247zM1618 2184h247v6h-247zM1618 2205h247v3h-247zM1618 2250h247v3h-247zM1618 2256h247v3h-247zM1618 2304h247v3h-247zM1618 2319h247v12h-247zM1618 2337h247v6h-247zM1618 2361h247v3h-247z" fill="#f8aeb0"/>
<path d="M1618 1515h247v3h-247zM1618 1551h247v3h-247zM1618 1728h247v3h-247zM1618 1770h247v3h-247zM1618 1776h247v6h-247zM1618 1785h247v3h-247zM1618 1791h247v6h-247zM1618 1812h247v3h-247zM1618 1821h247v3h-247zM1618 1836h247v3h-247zM1618 1857h247v3h-247zM1618 1869h247v6h-247zM1618 1899h247v3h-247zM1618 1908h247v3h-247zM1618 1929h247v3h-247zM1618 2004h247v3h-247zM1618 2163h247v3h-247zM1618 2190h247v3h-247zM1618 2253h247v3h-247zM1618 2259h247v6h-247zM1618 2283h247v6h-247zM1618 2298h247v3h-247zM1618 2307h247v3h-247zM1618 2358h247v3h-247zM1618 2364h247v3h-247z" fill="#f7a8aa"/>
<path d="M1618 1500h247v3h-247zM1618 1533h247v3h-247zM1618 1545h247v6h-247zM1618 1641h247v3h-247zM1618 1695h247v3h-247zM1618 1704h247v3h-247zM1618 1743h247v3h-247zM1618 1761h247v3h-247zM1618 1767h247v3h-247zM1618 1773h247v3h-247zM1618 1788h247v3h-247zM1618 1797h247v6h-247zM1618 1827h247v3h-247zM1618 1839h247v3h-247zM1618 1863h247v3h-247zM1618 1902h247v6h-247zM1618 1914h247v3h-247zM1618 1938h247v3h-247zM1618 1944h247v9h-247zM1618 2019h247v6h-247zM1618 2028h247v3h-247zM1618 2181h247v3h-247zM1618 2208h247v3h-247zM1618 2292h247v6h-247zM1618 2310h247v3h-247z" fill="#f6a1a3"/>
<path d="M1618 1470h247v6h-247zM1618 1554h247v6h-247zM1618 1563h247v3h-247zM1618 1623h247v3h-247zM1618 1644h247v3h-247zM1618 1662h247v3h-247zM1618 1683h247v3h-247zM1618 1698h247v3h-247zM1618 1752h247v9h-247zM1618 1803h247v3h-247zM1618 1809h247v3h-247zM1618 1815h247v6h-247zM1618 1842h247v3h-247zM1618 1917h247v3h-247zM1618 1941h247v3h-247zM1618 2031h247v3h-247zM1618 2106h247v9h-247zM1618 2130h247v6h-247zM1618 2199h247v6h-247zM1618 2277h247v3h-247zM1618 2289h247v3h-247zM1618 2301h247v3h-247zM1618 2355h247v3h-247zM1618 2421h247v3h-247zM1618 2433h247v3h-247z" fill="#f69b9c"/>
<path d="M1618 1464h247v6h-247zM1618 1476h247v3h-247zM1618 1485h247v3h-247zM1618 1539h247v6h-247zM1618 1560h247v3h-247zM1618 1587h247v3h-247zM1618 1680h247v3h-247zM1618 1701h247v3h-247zM1618 1806h247v3h-247zM1618 1845h247v3h-247zM1618 1980h247v3h-247zM1618 2007h247v6h-247zM1618 2016h247v3h-247zM1618 2025h247v3h-247zM1618 2127h247v3h-247zM1618 2157h247v3h-247zM1618 2244h247v6h-247zM1618 2424h247v3h-247zM1618 2430h247v3h-247zM1618 2469h247v3h-247z" fill="#f59496"/>
<path d="M1618 1458h247v3h-247zM1618 1479h247v3h-247zM1618 1488h247v3h-247zM1618 1530h247v3h-247zM1618 1665h247v3h-247zM1618 1677h247v3h-247zM1618 1686h247v6h-247zM1618 1749h247v3h-247zM1618 1830h247v6h-247zM1618 2037h247v6h-247zM1618 2058h247v3h-247zM1618 2139h247v3h-247zM1618 2193h247v6h-247zM1618 2211h247v3h-247zM1618 2265h247v3h-247zM1618 2274h247v3h-247zM1618 2280h247v3h-247zM1618 2427h247v3h-247zM1618 2436h247v3h-247zM1618 2466h247v3h-247zM1618 2472h247v6h-247zM1618 2490h247v3h-247zM1618 2511h247v6h-247z" fill="#f48d8f"/>
<path d="M1618 1461h247v3h-247zM1618 1494h247v6h-247zM1618 1536h247v3h-247zM1618 1584h247v3h-247zM1618 1668h247v9h-247zM1618 1692h247v3h-247zM1618 1746h247v3h-247zM1618 1977h247v3h-247zM1618 2013h247v3h-247zM1618 2034h247v3h-247zM1618 2046h247v3h-247zM1618 2070h247v3h-247zM1618 2115h247v3h-247zM1618 2142h247v3h-247zM1618 2241h247v3h-247zM1618 2268h247v6h-247zM1618 2418h247v3h-247zM1618 2457h247v3h-247zM1618 2493h247v3h-247zM1618 2508h247v3h-247z" fill="#f48688"/>
<path d="M1618 1482h247v3h-247zM1618 1593h247v3h-247zM1618 1611h247v6h-247zM1618 1626h247v3h-247zM1618 1998h247v6h-247zM1618 2049h247v3h-247zM1618 2055h247v3h-247zM1618 2085h247v12h-247zM1618 2121h247v6h-247zM1618 2454h247v3h-247zM1618 2499h247v6h-247zM1618 2520h247v3h-247zM1618 2526h247v3h-247z" fill="#f47f81"/>
<path d="M1618 1491h247v3h-247zM1618 1590h247v3h-247zM1618 1599h247v3h-247zM1618 1620h247v3h-247zM1618 1629h247v9h-247zM1618 1992h247v3h-247zM1618 2043h247v3h-247zM1618 2052h247v3h-247zM1618 2061h247v3h-247zM1618 2067h247v3h-247zM1618 2073h247v3h-247zM1618 2118h247v3h-247zM1618 2145h247v12h-247zM1618 2214h247v6h-247zM1618 2460h247v6h-247zM1618 2496h247v3h-247zM1618 2505h247v3h-247zM1618 2517h247v3h-247z" fill="#f3787a"/>
<path d="M1618 1503h247v6h-247zM1618 1596h247v3h-247zM1618 1602h247v3h-247zM1618 1608h247v3h-247zM1618 1617h247v3h-247zM1618 1983h247v9h-247zM1618 2064h247v3h-247zM1618 2079h247v6h-247zM1618 2097h247v3h-247zM1618 2220h247v3h-247zM1618 2229h247v6h-247zM1618 2238h247v3h-247zM1618 2523h247v3h-247z" fill="#f27173"/>
<path d="M1618 1509h247v3h-247zM1618 1566h247v3h-247zM1618 1578h247v3h-247zM1618 1605h247v3h-247zM1618 1638h247v3h-247zM1618 1995h247v3h-247zM1618 2076h247v3h-247zM1618 2100h247v3h-247zM1618 2223h247v3h-247z" fill="#f26a6c"/>
<path d="M1618 2103h247v3h-247zM1618 2226h247v3h-247zM1618 2235h247v3h-247z" fill="#f26365"/>
<path d="M1618 1575h247v3h-247zM1618 1581h247v3h-247z" fill="#f15c5e"/>
<path d="M1618 1569h247v6h-247z" fill="#f15658"/>
<path d="M1865 3183h248v3h-248zM1865 3195h248v3h-248z" fill="#4a59a8"/>
<path d="M1865 3186h248v3h-248zM1865 3198h248v9h-248z" fill="#4e5caa"/>
<path d="M1865 2856h248v6h-248zM1865 3180h248v3h-248zM1865 3192h248v3h-248zM1865 3207h248v3h-248z" fill="#515eab"/>
<path d="M1865 3189h248v3h-248zM1865 3216h248v3h-248zM1865 3225h248v2h-248z" fill="#5560ac"/>
<path d="M1865 2853h248v3h-248z" fill="#5862ad"/>
<path d="M1865 3129h248v3h-248zM1865 3210h248v3h-248zM1865 3219h248v3h-248z" fill="#5c64ae"/>
<path d="M1865 2925h248v3h-248zM1865 2931h248v3h-248zM1865 3144h248v3h-248zM1865 3213h248v3h-248zM1865 3222h248v3h-248z" fill="#6269b1"/>
<path d="M1865 2907h248v3h-248zM1865 2922h248v3h-248zM1865 3120h248v3h-248zM1865 3132h248v6h-248z" fill="#686eb4"/>
<path d="M1865 2910h248v6h-248zM1865 2928h248v3h-248zM1865 2934h248v3h-248zM1865 3072h248v3h-248zM1865 3078h248v3h-248zM1865 3123h248v6h-248zM1865 3147h248v3h-248z" fill="#6e72b7"/>
<path d="M1865 2868h248v3h-248zM1865 2886h248v3h-248zM1865 2892h248v3h-248zM1865 3075h248v3h-248zM1865 3081h248v6h-248z" fill="#7477ba"/>
<path d="M1865 2634h248v6h-248zM1865 2862h248v3h-248zM1865 2889h248v3h-248zM1865 2904h248v3h-248zM1865 3138h248v6h-248z" fill="#7a7cbd"/>
<path d="M1865 2838h248v3h-248zM1865 2865h248v3h-248zM1865 2901h248v3h-248zM1865 2916h248v3h-248zM1865 2976h248v3h-248zM1865 3000h248v3h-248z" fill="#8080c0"/>
<path d="M1865 2631h248v3h-248zM1865 2841h248v3h-248zM1865 2871h248v3h-248zM1865 2895h248v6h-248zM1865 2919h248v3h-248zM1865 2979h248v3h-248zM1865 2991h248v6h-248zM1865 3003h248v3h-248zM1865 3087h248v3h-248z" fill="#8685c3"/>
<path d="M1865 2640h248v6h-248zM1865 2835h248v3h-248zM1865 2874h248v3h-248zM1865 2883h248v3h-248zM1865 2985h248v3h-248zM1865 3069h248v3h-248z" fill="#8c8ac6"/>
<path d="M1865 2625h248v3h-248zM1865 2844h248v9h-248zM1865 2877h248v6h-248zM1865 2949h248v3h-248zM1865 2997h248v3h-248zM1865 3090h248v3h-248zM1865 3096h248v6h-248zM1865 3117h248v3h-248zM1865 3159h248v3h-248zM1865 3165h248v3h-248z" fill="#9492ca"/>
<path d="M1865 2607h248v6h-248zM1865 2622h248v3h-248zM1865 2628h248v3h-248zM1865 2646h248v3h-248zM1865 2706h248v3h-248zM1865 2940h248v3h-248zM1865 2958h248v3h-248zM1865 2988h248v3h-248zM1865 3063h248v6h-248zM1865 3162h248v3h-248zM1865 3168h248v6h-248z" fill="#9c9ace"/>
<path d="M1865 2616h248v3h-248zM1865 2712h248v12h-248zM1865 2937h248v3h-248zM1865 2943h248v3h-248zM1865 2952h248v6h-248zM1865 2982h248v3h-248zM1865 3093h248v3h-248zM1865 3102h248v3h-248zM1865 3111h248v3h-248zM1865 3156h248v3h-248zM1865 3177h248v3h-248z" fill="#a3a1d2"/>
<path d="M1865 2586h248v3h-248zM1865 2595h248v6h-248zM1865 2604h248v3h-248zM1865 2613h248v3h-248zM1865 2619h248v3h-248zM1865 2655h248v6h-248zM1865 2667h248v3h-248zM1865 2709h248v3h-248zM1865 2961h248v9h-248zM1865 3045h248v3h-248zM1865 3057h248v6h-248zM1865 3105h248v3h-248zM1865 3114h248v3h-248zM1865 3150h248v6h-248zM1865 3174h248v3h-248z" fill="#aba9d6"/>
<path d="M1865 2583h248v3h-248zM1865 2592h248v3h-248zM1865 2601h248v3h-248zM1865 2649h248v6h-248zM1865 2670h248v3h-248zM1865 2679h248v3h-248zM1865 2688h248v3h-248zM1865 2700h248v6h-248zM1865 2724h248v3h-248zM1865 2730h248v3h-248zM1865 2946h248v3h-248zM1865 3048h248v3h-248zM1865 3108h248v3h-248z" fill="#b3b1da"/>
<path d="M1865 2580h248v3h-248zM1865 2589h248v3h-248zM1865 2661h248v6h-248zM1865 2682h248v6h-248zM1865 2691h248v3h-248zM1865 2697h248v3h-248zM1865 3051h248v3h-248z" fill="#bab8de"/>
<path d="M1865 2676h248v3h-248zM1865 2694h248v3h-248zM1865 2727h248v3h-248zM1865 2733h248v6h-248zM1865 2784h248v3h-248zM1865 3033h248v6h-248zM1865 3054h248v3h-248z" fill="#c2c0e2"/>
<path d="M1865 2673h248v3h-248zM1865 2781h248v3h-248zM1865 2787h248v3h-248zM1865 2970h248v3h-248zM1865 3009h248v3h-248zM1865 3030h248v3h-248zM1865 3039h248v6h-248z" fill="#cac8e6"/>
<path d="M1865 2745h248v6h-248zM1865 2766h248v12h-248zM1865 2790h248v9h-248zM1865 2832h248v3h-248zM1865 2973h248v3h-248zM1865 3006h248v3h-248z" fill="#d1cfe9"/>
<path d="M1865 2571h248v9h-248zM1865 2742h248v3h-248zM1865 2751h248v6h-248zM1865 2778h248v3h-248zM1865 2823h248v9h-248zM1865 3012h248v15h-248z" fill="#d7d6ec"/>
<path d="M1865 2562h248v3h-248zM1865 2568h248v3h-248zM1865 2739h248v3h-248zM1865 2820h248v3h-248z" fill="#deddef"/>
<path d="M1865 1503h248v3h-248zM1865 2556h248v3h-248zM1865 2565h248v3h-248z" fill="#e4e4f2"/>
<path d="M1865 2538h248v6h-248zM1865 2547h248v9h-248zM1865 2559h248v3h-248zM1865 2817h248v3h-248z" fill="#ebeaf6"/>
<path d="M1865 1494h248v6h-248zM1865 2757h248v6h-248zM1865 2799h248v9h-248zM1865 2811h248v3h-248z" fill="#f2f1f9"/>
<path d="M1865 1500h248v3h-248zM1865 2544h248v3h-248zM1865 2763h248v3h-248zM1865 2808h248v3h-248zM1865 2814h248v3h-248z" fill="#f8f8fc"/>
<path d="M1865 1827h248v6h-248zM1865 1836h248v3h-248z" fill="#ffffff"/>
<path d="M1865 1824h248v3h-248zM1865 1833h248v3h-248z" fill="#fef8f8"/>
<path d="M1865 1485h248v6h-248zM1865 1839h248v9h-248zM1865 3027h248v3h-248z" fill="#fef2f2"/>
<path d="M1865 1821h248v3h-248zM1865 1848h248v3h-248z" fill="#fdebeb"/>
<path d="M1865 1461h248v3h-248zM1865 1491h248v3h-248zM1865 2100h248v3h-248z" fill="#fce4e4"/>
<path d="M1865 2088h248v3h-248zM1865 2097h248v3h-248z" fill="#fcddde"/>
<path d="M1865 1458h248v3h-248zM1865 2085h248v3h-248zM1865 2091h248v3h-248zM1865 2130h248v3h-248zM1865 2322h248v6h-248zM1865 2451h248v3h-248z" fill="#fbd6d7"/>
<path d="M1865 1464h248v3h-248zM1865 2094h248v3h-248zM1865 2127h248v3h-248zM1865 2133h248v3h-248zM1865 2145h248v3h-248zM1865 2187h248v3h-248z" fill="#fbd0d1"/>
<path d="M1865 1632h248v3h-248zM1865 1995h248v6h-248zM1865 2136h248v9h-248zM1865 2184h248v3h-248zM1865 2190h248v3h-248zM1865 2454h248v9h-248z" fill="#fac9ca"/>
<path d="M1865 1635h248v3h-248zM1865 2067h248v6h-248zM1865 2103h248v6h-248zM1865 2232h248v3h-248zM1865 2463h248v6h-248z" fill="#f9c2c4"/>
<path d="M1865 1992h248v3h-248zM1865 2001h248v3h-248zM1865 2076h248v3h-248zM1865 2082h248v3h-248zM1865 2496h248v3h-248z" fill="#f9bcbd"/>
<path d="M1865 1524h248v3h-248zM1865 1638h248v3h-248zM1865 1851h248v3h-248zM1865 1863h248v3h-248zM1865 1881h248v3h-248zM1865 1989h248v3h-248zM1865 2007h248v6h-248zM1865 2061h248v3h-248zM1865 2073h248v3h-248zM1865 2229h248v3h-248zM1865 2235h248v3h-248zM1865 2355h248v3h-248zM1865 2388h248v6h-248zM1865 2469h248v6h-248zM1865 2493h248v3h-248zM1865 2502h248v3h-248z" fill="#f8b5b6"/>
<path d="M1865 1470h248v6h-248zM1865 1479h248v6h-248zM1865 1506h248v3h-248zM1865 1515h248v3h-248zM1865 1521h248v3h-248zM1865 1650h248v3h-248zM1865 1761h248v3h-248zM1865 1854h248v6h-248zM1865 1872h248v3h-248zM1865 1878h248v3h-248zM1865 1884h248v3h-248zM1865 2013h248v3h-248zM1865 2028h248v9h-248zM1865 2055h248v3h-248zM1865 2079h248v3h-248zM1865 2109h248v6h-248zM1865 2238h248v3h-248zM1865 2319h248v3h-248zM1865 2340h248v3h-248zM1865 2346h248v9h-248zM1865 2385h248v3h-248zM1865 2499h248v3h-248zM1865 2517h248v9h-248z" fill="#f8aeb0"/>
<path d="M1865 1467h248v3h-248zM1865 1476h248v3h-248zM1865 1512h248v3h-248zM1865 1518h248v3h-248zM1865 1569h248v6h-248zM1865 1653h248v6h-248zM1865 1719h248v3h-248zM1865 1746h248v3h-248zM1865 1758h248v3h-248zM1865 1860h248v3h-248zM1865 1866h248v6h-248zM1865 1875h248v3h-248zM1865 1926h248v3h-248zM1865 2004h248v3h-248zM1865 2025h248v3h-248zM1865 2037h248v3h-248zM1865 2052h248v3h-248zM1865 2058h248v3h-248zM1865 2172h248v3h-248zM1865 2181h248v3h-248zM1865 2313h248v3h-248zM1865 2331h248v3h-248zM1865 2337h248v3h-248zM1865 2343h248v3h-248zM1865 2358h248v3h-248zM1865 2514h248v3h-248z" fill="#f7a8aa"/>
<path d="M1865 1509h248v3h-248zM1865 1563h248v3h-248zM1865 1578h248v3h-248zM1865 1587h248v9h-248zM1865 1647h248v3h-248zM1865 1749h248v3h-248zM1865 1782h248v3h-248zM1865 1794h248v3h-248zM1865 1905h248v3h-248zM1865 1920h248v6h-248zM1865 2016h248v6h-248zM1865 2043h248v3h-248zM1865 2115h248v3h-248zM1865 2148h248v3h-248zM1865 2175h248v6h-248zM1865 2205h248v3h-248zM1865 2226h248v3h-248zM1865 2316h248v3h-248zM1865 2328h248v3h-248zM1865 2334h248v3h-248zM1865 2382h248v3h-248zM1865 2418h248v6h-248zM1865 2490h248v3h-248zM1865 2526h248v12h-248z" fill="#f6a1a3"/>
<path d="M1865 1527h248v3h-248zM1865 1575h248v3h-248zM1865 1581h248v6h-248zM1865 1596h248v3h-248zM1865 1629h248v3h-248zM1865 1659h248v3h-248zM1865 1722h248v3h-248zM1865 1752h248v6h-248zM1865 1776h248v3h-248zM1865 1797h248v9h-248zM1865 1902h248v3h-248zM1865 1911h248v6h-248zM1865 1950h248v3h-248zM1865 2022h248v3h-248zM1865 2040h248v3h-248zM1865 2046h248v3h-248zM1865 2064h248v3h-248zM1865 2118h248v3h-248zM1865 2124h248v3h-248zM1865 2154h248v3h-248zM1865 2160h248v12h-248zM1865 2214h248v6h-248zM1865 2241h248v3h-248zM1865 2262h248v6h-248zM1865 2286h248v3h-248zM1865 2433h248v3h-248z" fill="#f69b9c"/>
<path d="M1865 1530h248v6h-248zM1865 1542h248v3h-248zM1865 1599h248v3h-248zM1865 1641h248v3h-248zM1865 1662h248v9h-248zM1865 1680h248v6h-248zM1865 1689h248v3h-248zM1865 1701h248v3h-248zM1865 1743h248v3h-248zM1865 1779h248v3h-248zM1865 1788h248v3h-248zM1865 1917h248v3h-248zM1865 1959h248v3h-248zM1865 1980h248v3h-248zM1865 1986h248v3h-248zM1865 2049h248v3h-248zM1865 2121h248v3h-248zM1865 2151h248v3h-248zM1865 2193h248v6h-248zM1865 2259h248v3h-248zM1865 2304h248v3h-248zM1865 2361h248v3h-248zM1865 2415h248v3h-248zM1865 2475h248v3h-248zM1865 2484h248v3h-248z" fill="#f59496"/>
<path d="M1865 1539h248v3h-248zM1865 1566h248v3h-248zM1865 1626h248v3h-248zM1865 1644h248v3h-248zM1865 1671h248v9h-248zM1865 1686h248v3h-248zM1865 1692h248v3h-248zM1865 1731h248v3h-248zM1865 1770h248v3h-248zM1865 1791h248v3h-248zM1865 1899h248v3h-248zM1865 1908h248v3h-248zM1865 1929h248v6h-248zM1865 1947h248v3h-248zM1865 1953h248v3h-248zM1865 1962h248v9h-248zM1865 1977h248v3h-248zM1865 2157h248v3h-248zM1865 2199h248v6h-248zM1865 2208h248v6h-248zM1865 2220h248v6h-248zM1865 2244h248v3h-248zM1865 2253h248v6h-248zM1865 2268h248v3h-248zM1865 2283h248v3h-248zM1865 2298h248v3h-248zM1865 2307h248v6h-248zM1865 2427h248v6h-248zM1865 2478h248v6h-248zM1865 2508h248v3h-248z" fill="#f48d8f"/>
<path d="M1865 1536h248v3h-248zM1865 1602h248v3h-248zM1865 1623h248v3h-248zM1865 1698h248v3h-248zM1865 1728h248v3h-248zM1865 1767h248v3h-248zM1865 1785h248v3h-248zM1865 1815h248v3h-248zM1865 1935h248v3h-248zM1865 1971h248v3h-248zM1865 1983h248v3h-248zM1865 2247h248v6h-248zM1865 2289h248v9h-248zM1865 2301h248v3h-248zM1865 2367h248v3h-248zM1865 2487h248v3h-248zM1865 2505h248v3h-248zM1865 2511h248v3h-248z" fill="#f48688"/>
<path d="M1865 1614h248v3h-248zM1865 1695h248v3h-248zM1865 1716h248v3h-248zM1865 1764h248v3h-248zM1865 1773h248v3h-248zM1865 1806h248v9h-248zM1865 1887h248v3h-248zM1865 1941h248v3h-248zM1865 1956h248v3h-248zM1865 2277h248v6h-248zM1865 2364h248v3h-248zM1865 2424h248v3h-248z" fill="#f47f81"/>
<path d="M1865 1608h248v6h-248zM1865 1617h248v6h-248zM1865 1710h248v6h-248zM1865 1725h248v3h-248zM1865 1818h248v3h-248zM1865 1938h248v3h-248zM1865 1944h248v3h-248zM1865 1974h248v3h-248zM1865 2271h248v3h-248zM1865 2379h248v3h-248z" fill="#f3787a"/>
<path d="M1865 1560h248v3h-248zM1865 1605h248v3h-248zM1865 1707h248v3h-248zM1865 1890h248v9h-248zM1865 2370h248v9h-248zM1865 2394h248v3h-248z" fill="#f27173"/>
<path d="M1865 1557h248v3h-248zM1865 1704h248v3h-248zM1865 1734h248v9h-248zM1865 2274h248v3h-248zM1865 2397h248v15h-248zM1865 2436h248v3h-248zM1865 2445h248v6h-248z" fill="#f26a6c"/>
<path d="M1865 1551h248v6h-248zM1865 2412h248v3h-248zM1865 2439h248v6h-248z" fill="#f26365"/>
<path d="M1865 1548h248v3h-248z" fill="#f15c5e"/>
<path d="M1865 1545h248v3h-248z" fill="#f15658"/>
</g>
<defs><linearGradient id="cb" x1="0" y1="0" x2="0" y2="1"><stop offset="0" stop-color="#ed262a"/><stop offset="0.1318" stop-color="#f0585a"/><stop offset="0.2565" stop-color="#f49194"/><stop offset="0.3813" stop-color="#f9c7c8"/><stop offset="0.5061" stop-color="#ffffff"/><stop offset="0.6309" stop-color="#cac8e6"/><stop offset="0.7557" stop-color="#8785c3"/><stop offset="0.8805" stop-color="#5862ac"/><stop offset="1" stop-color="#3f53a5"/></linearGradient></defs>
<rect x="2133.7" y="1458" width="39.8" height="573" fill="url(#cb)"/>
<g class="ss" font-size="29" fill="#333" stroke="#333" stroke-width="0.5">
<text x="2189.5" y="1611">1</text>
<text x="2188.5" y="1756.5" font-size="25" textLength="18" lengthAdjust="spacingAndGlyphs">0</text>
<text x="2188.5" y="1896.6" textLength="35" lengthAdjust="spacingAndGlyphs">−1</text>
</g>
<g class="ss" font-size="31.5" fill="#262626" stroke="#262626" stroke-width="0.25">
<text transform="translate(743 3237) rotate(90)">HSL6</text>
<text transform="translate(989.5 3237) rotate(90)">HSL8</text>
<text transform="translate(1237 3237) rotate(90)">HSL9</text>
<text transform="translate(1484 3237) rotate(90)">CONL2</text>
<text transform="translate(1730.5 3237) rotate(90)">CONL3</text>
<text transform="translate(1978 3237) rotate(90)">CONL4</text>
</g>
<g id="dendro">
<defs><linearGradient id="dg" x1="0" y1="0" x2="1" y2="0"><stop offset="0" stop-color="#161616" stop-opacity="0"/><stop offset="0.4" stop-color="#161616" stop-opacity="0.4"/><stop offset="1" stop-color="#0c0c0c" stop-opacity="0.96"/></linearGradient></defs>
<rect x="548" y="1458" width="66" height="1769" fill="url(#dg)"/>
<rect x="613" y="1458" width="18" height="1769" fill="#0a0a0a"/>
<defs><filter id="halo" x="-0.02" y="-0.01" width="1.04" height="1.02"><feGaussianBlur stdDeviation="1.5" result="b"/><feMerge><feMergeNode in="b"/><feMergeNode in="SourceGraphic"/></feMerge></filter></defs>
<path d="M231.8 1832H231.8M231.8 1831V2924.6M231.8 1832H315.4M315.4 1497V2168M315.4 1498H399.5M399.5 1477.7V1517.7M399.5 1478.7H451.7M451.7 1463.4V1494.4M451.7 1464.4H501M451.7 1493.4H484M399.5 1516.7H436.3M436.3 1506.8V1525.4M436.3 1507.8H536M436.3 1524.4H512M315.4 2167H334.8M334.8 1892V2437.8M334.8 1893H369.2M369.2 1612.5V2175.7M369.2 1613.5H413M413 1542.8V1683M413 1543.8H456.4M456.4 1537V1552M456.4 1538H485M456.4 1551H512M413 1682H447.9M447.9 1615.2V1747M447.9 1616.2H485.4M485.4 1572.6V1663.7M485.4 1573.6H514M485.4 1662.7H509.8M509.8 1642V1677M509.8 1643H545M509.8 1676H528M447.9 1746H477.7M477.7 1715V1774.9M477.7 1716H524.6M524.6 1703.5V1728.4M524.6 1704.5H552M524.6 1727.4H545M477.7 1773.9H511.8M511.8 1752.7V1796.5M511.8 1753.7H554M511.8 1795.5H540.8M540.8 1780V1814.7M540.8 1781H565M540.8 1813.7H560M369.2 2174.7H390.9M390.9 1987V2361M390.9 1988H432.4M432.4 1867V2108M432.4 1868H461.4M461.4 1832V1903.8M461.4 1833H513.7M513.7 1824.4V1840M513.7 1825.4H540M513.7 1839H546M461.4 1902.8H501.3M501.3 1869V1936.7M501.3 1870H541M501.3 1935.7H511.8M511.8 1909.6V1962M511.8 1910.6H550M511.8 1961H533M432.4 2107H445.9M445.9 2031.6V2182.7M445.9 2032.6H497.4M497.4 1989V2074M497.4 1990H524.6M524.6 1981V1999M524.6 1982H552M524.6 1998H556M497.4 2073H511.8M511.8 2047V2097.5M511.8 2048H550M511.8 2096.5H541M445.9 2181.7H488.5M488.5 2136V2227M488.5 2137H530M530 2122.6V2149.8M530 2123.6H552M530 2148.8H556M488.5 2226H509.8M509.8 2192V2264M509.8 2193H548M509.8 2263H523.4M523.4 2231V2302.7M523.4 2232H556M523.4 2301.7H550M390.9 2360H416.9M416.9 2343.6V2380.9M416.9 2344.6H510M416.9 2379.9H485M334.8 2436.8H353M353 2401.7V2470.7M353 2402.7H453.7M453.7 2397V2410.7M453.7 2398H485M453.7 2409.7H500M353 2469.7H420.8M420.8 2432.7V2508.3M420.8 2433.7H475.8M475.8 2421V2446.3M475.8 2422H529M475.8 2445.3H500M420.8 2507.3H448.6M448.6 2476.5V2533.9M448.6 2477.5H488.5M488.5 2463.7V2490M488.5 2464.7H518M488.5 2489H518M448.6 2532.9H463.4M231.8 2923.6H315M315 2755.3V3094.3M315 2756.3H385.1M385.1 2650V2859.2M385.1 2651H430.4M430.4 2561V2741.9M430.4 2562H490.5M490.5 2548V2573.4M490.5 2549H528M490.5 2572.4H502M430.4 2740.9H455.6M455.6 2706V2776.7M455.6 2707H488.5M488.5 2672V2743.8M488.5 2673H511.8M511.8 2633.3V2714.7M511.8 2634.3H530M530 2604.3V2663.2M530 2605.3H554M530 2662.2H554M511.8 2713.7H529M488.5 2742.8H510M455.6 2775.7H473.8M473.8 2757.3V2792.2M473.8 2758.3H545M473.8 2791.2H513M513 2776.6V2805.8M513 2777.6H550M513 2804.8H533M385.1 2858.2H411.9M411.9 2825V2890.2M411.9 2826H501.3M501.3 2819V2833M501.3 2820H530M501.3 2832H528M411.9 2889.2H467.2M467.2 2861.8V2917M467.2 2862.8H517.6M517.6 2848.3V2877.4M517.6 2849.3H552M517.6 2876.4H537M467.2 2916H490.5M490.5 2910V2924M490.5 2911H506M490.5 2923H528M315 3093.3H351.8M351.8 3016.8V3169.8M351.8 3017.8H428.5M428.5 2983.9V3051.7M428.5 2984.9H497.4M497.4 2957.9V3005.2M497.4 2958.9H537M497.4 3004.2H506M428.5 3050.7H453.7M453.7 3026.5V3075M453.7 3027.5H560M453.7 3074H476.9M476.9 3044.7V3104M476.9 3045.7H524.6M476.9 3103H521M351.8 3168.8H381.3M381.3 3136.8V3200M381.3 3137.8H459.5M459.5 3125.2V3152.4M459.5 3126.2H498M459.5 3151.4H492.4M381.3 3199H422.7M422.7 3187.2V3212.4M422.7 3188.2H502M422.7 3211.4H494.3M613.1 1459.3H614M608.5 1461.2H614M603.9 1458.3V1462.2M603.9 1459.3H613.1M603.9 1461.2H608.5M588.4 1457.3V1461.3M588.4 1458.3H614M588.4 1460.3H603.9M606.6 1462.4V1467.1M606.6 1463.4H614M606.6 1466.1H614M596.9 1461.5V1465.7M596.9 1462.5H614M596.9 1464.7H606.6M607.4 1470.6H614M597.5 1467.6V1471.6M597.5 1468.6H614M597.5 1470.6H607.4M579.9 1462.6V1470.6M579.9 1463.6H596.9M579.9 1469.6H597.5M603.1 1473.5H614M573.6 1465.6V1474.5M573.6 1466.6H579.9M573.6 1473.5H603.1M501 1458.3V1471M501 1459.3H588.4M501 1470H573.6M609.9 1475.5H614M602.2 1477.5H614M595.2 1474.5V1478.5M595.2 1475.5H609.9M595.2 1477.5H602.2M604.2 1480H614M587.4 1475.5V1481M587.4 1476.5H595.2M587.4 1480H604.2M581.2 1477.3V1482.3M581.2 1478.3H587.4M581.2 1481.3H614M613.2 1482H614M577 1478.8V1483M577 1479.8H581.2M577 1482H613.2M613.9 1483.4H614M613.2 1485H614M605.6 1482.4V1486M605.6 1483.4H613.9M605.6 1485H613.2M606.8 1486.5H614M597.8 1483.2V1487.5M597.8 1484.2H605.6M597.8 1486.5H606.8M606 1488.3H614M593.3 1484.3V1489.3M593.3 1485.3H597.8M593.3 1488.3H606M610.8 1489.7V1494.4M610.8 1490.7H614M610.8 1493.4H614M613 1495.4H614M603 1491.1V1496.4M603 1492.1H610.8M603 1495.4H613M594 1492.7V1497.1M594 1493.7H603M594 1496.1H614M551.8 1485.8V1495.9M551.8 1486.8H593.3M551.8 1494.9H594M540.8 1479.9V1491.9M540.8 1480.9H577M540.8 1490.9H551.8M613.4 1497.7H614M603.7 1496.7V1500.4M603.7 1497.7H613.4M603.7 1499.4H614M608.3 1501.4V1506.2M608.3 1502.4H614M608.3 1505.2H614M599.3 1502.8V1506.5M599.3 1503.8H608.3M599.3 1505.5H614M612.9 1506H614M591.2 1503.6V1507M591.2 1504.6H599.3M591.2 1506H612.9M569.5 1497.6V1506.3M569.5 1498.6H603.7M569.5 1505.3H591.2M484 1484.9V1502.9M484 1485.9H540.8M484 1501.9H569.5M608.8 1506.8H614M608.9 1508.7H614M609.7 1510.7H614M599.3 1507.7V1511.7M599.3 1508.7H608.9M599.3 1510.7H609.7M592.2 1508.7V1512.3M592.2 1509.7H599.3M592.2 1511.3H614M607.7 1512H614M586.1 1509.5V1513M586.1 1510.5H592.2M586.1 1512H607.7M536 1505.8V1512.3M536 1506.8H608.8M536 1511.3H586.1M601 1513.8H614M613.4 1516.7H614M608.6 1518.7H614M607.2 1520.9H614M603.2 1517.7V1521.9M603.2 1518.7H608.6M603.2 1520.9H607.2M596.4 1515.7V1520.8M596.4 1516.7H613.4M596.4 1519.8H603.2M585.4 1514.4V1519.3M585.4 1515.4H614M585.4 1518.3H596.4M580.1 1512.8V1517.9M580.1 1513.8H601M580.1 1516.9H585.4M607.8 1523.3H614M597.5 1522.3V1526.2M597.5 1523.3H607.8M597.5 1525.2H614M572.3 1514.3V1525.2M572.3 1515.3H580.1M572.3 1524.2H597.5M610.5 1526.8H614M607.8 1528.7V1533.2M607.8 1529.7H614M607.8 1532.2H614M601.5 1525.8V1531.9M601.5 1526.8H610.5M601.5 1530.9H607.8M594.7 1524.9V1529.9M594.7 1525.9H614M594.7 1528.9H601.5M611.1 1533H614M585.8 1526.4V1534M585.8 1527.4H594.7M585.8 1533H611.1M512 1518.8V1531.2M512 1519.8H572.3M512 1530.2H585.8M607.8 1534.9H614M606.2 1536.9H614M602 1533.9V1537.9M602 1534.9H607.8M602 1536.9H606.2M608.8 1537.9H614M607.4 1539.4H614M606 1541.9H614M600.5 1538.4V1542.9M600.5 1539.4H607.4M600.5 1541.9H606M577.6 1536.9V1541.6M577.6 1537.9H608.8M577.6 1540.6H600.5M485 1534.9V1540.3M485 1535.9H602M485 1539.3H577.6M611.7 1543V1546.6M611.7 1544H614M611.7 1545.6H614M604 1543.8V1547.8M604 1544.8H611.7M604 1546.8H614M598.6 1548.2H614M593.4 1544.8V1549.2M593.4 1545.8H604M593.4 1548.2H598.6M585.8 1546V1550.7M585.8 1547H593.4M585.8 1549.7H614M601.5 1551.8H614M613.1 1553.6H614M605.8 1552.6V1556.5M605.8 1553.6H613.1M605.8 1555.5H614M596.5 1550.8V1555.5M596.5 1551.8H601.5M596.5 1554.5H605.8M609.3 1557.7H614M589 1552.2V1558.7M589 1553.2H596.5M589 1557.7H609.3M580.5 1549.4V1556.4M580.5 1550.4H614M580.5 1555.4H589M609.1 1559.6H614M572.6 1551.9V1560.6M572.6 1552.9H580.5M572.6 1559.6H609.1M512 1547.4V1557.3M512 1548.4H585.8M512 1556.3H572.6M607.4 1561.9H614M612.7 1563.8H614M602.8 1560.9V1564.8M602.8 1561.9H607.4M602.8 1563.8H612.7M605.5 1565.7H614M609.2 1567.7H614M601.1 1564.7V1568.7M601.1 1565.7H605.5M601.1 1567.7H609.2M593.5 1561.8V1567.7M593.5 1562.8H602.8M593.5 1566.7H601.1M610.3 1568.8H614M611.1 1570.1H614M608.2 1572.4H614M599.7 1569.1V1573.4M599.7 1570.1H611.1M599.7 1572.4H608.2M590.2 1570.2V1575.1M590.2 1571.2H599.7M590.2 1574.1H614M584.1 1567.8V1573.7M584.1 1568.8H610.3M584.1 1572.7H590.2M598.1 1575.8H614M610 1577.6H614M610.4 1578.6V1582.6M610.4 1579.6H614M610.4 1581.6H614M602.4 1576.6V1581.6M602.4 1577.6H610M602.4 1580.6H610.4M612.1 1583.2H614M612.5 1584.9H614M605 1582.2V1585.9M605 1583.2H612.1M605 1584.9H612.5M597.2 1583V1586.9M597.2 1584H605M597.2 1585.9H614M610.1 1587.7H614M603.3 1586.7V1590.4M603.3 1587.7H610.1M603.3 1589.4H614M591.1 1583.9V1589.6M591.1 1584.9H597.2M591.1 1588.6H603.3M584.9 1578.1V1587.8M584.9 1579.1H602.4M584.9 1586.8H591.1M579.5 1574.8V1583.9M579.5 1575.8H598.1M579.5 1582.9H584.9M608.8 1590.5H614M607.4 1592.3H614M602.5 1589.5V1593.3M602.5 1590.5H608.8M602.5 1592.3H607.4M610.5 1596.1H614M601 1593V1597.1M601 1594H614M601 1596.1H610.5M578.9 1590.4V1596.1M578.9 1591.4H602.5M578.9 1595.1H601M559 1578.4V1594.2M559 1579.4H579.5M559 1593.2H578.9M552.8 1569.7V1587.3M552.8 1570.7H584.1M552.8 1586.3H559M514 1563.7V1579.5M514 1564.7H593.5M514 1578.5H552.8M606.6 1598.7H614M613.4 1600.1H614M611.4 1599.6V1603.9M611.4 1600.6H614M611.4 1602.9H614M606.4 1600.7V1606.2M606.4 1601.7H611.4M606.4 1605.2H614M598.5 1599.1V1604.5M598.5 1600.1H613.4M598.5 1603.5H606.4M589.1 1600.8V1606.8M589.1 1601.8H598.5M589.1 1605.8H614M573.6 1597.7V1604.8M573.6 1598.7H606.6M573.6 1603.8H589.1M613 1606.8H614M609.8 1608.6H614M609.7 1610.6H614M603.2 1607.6V1611.6M603.2 1608.6H609.8M603.2 1610.6H609.7M596.7 1608.6V1612.7M596.7 1609.6H603.2M596.7 1611.7H614M609.9 1611.4V1615.5M609.9 1612.4H614M609.9 1614.5H614M611 1616.2V1620.5M611 1617.2H614M611 1619.5H614M601.2 1612.5V1619.4M601.2 1613.5H609.9M601.2 1618.4H611M609.8 1621.7H614M591.2 1614.9V1622.7M591.2 1615.9H601.2M591.2 1621.7H609.8M587.2 1609.6V1619.8M587.2 1610.6H596.7M587.2 1618.8H591.2M579 1605.8V1615.7M579 1606.8H613M579 1614.7H587.2M565.1 1600.3V1611.7M565.1 1601.3H573.6M565.1 1610.7H579M611.4 1623.3H614M613.2 1624.1H614M606 1625.7H614M597.1 1623.1V1626.7M597.1 1624.1H613.2M597.1 1625.7H606M604.4 1628.6H614M606 1631.5H614M594.6 1627.6V1632.5M594.6 1628.6H604.4M594.6 1631.5H606M589 1623.9V1631.1M589 1624.9H597.1M589 1630.1H594.6M607.4 1633.3H614M613.7 1641.8H614M609.7 1636.6V1642.8M609.7 1637.6H614M609.7 1641.8H613.7M610.7 1643.1H614M611.3 1644.9H614M605.4 1642.1V1645.9M605.4 1643.1H610.7M605.4 1644.9H611.3M600 1638.7V1645M600 1639.7H609.7M600 1644H605.4M601.9 1647.2H614M593.3 1640.8V1648.2M593.3 1641.8H600M593.3 1647.2H601.9M584.5 1632.3V1645.5M584.5 1633.3H607.4M584.5 1644.5H593.3M576.8 1626.5V1639.9M576.8 1627.5H589M576.8 1638.9H584.5M602.4 1649.4H614M572.1 1632.2V1650.4M572.1 1633.2H576.8M572.1 1649.4H602.4M563.2 1622.3V1642.3M563.2 1623.3H611.4M563.2 1641.3H572.1M554.6 1605V1633.3M554.6 1606H565.1M554.6 1632.3H563.2M610.4 1651.5H614M613.6 1653.2H614M605.2 1650.5V1654.2M605.2 1651.5H610.4M605.2 1653.2H613.6M612.2 1655.3H614M608.3 1656V1660.4M608.3 1657H614M608.3 1659.4H614M600.8 1655V1659.2M600.8 1656H614M600.8 1658.2H608.3M590.7 1654.3V1658.1M590.7 1655.3H612.2M590.7 1657.1H600.8M599.4 1662.2H614M583.3 1655.2V1663.2M583.3 1656.2H590.7M583.3 1662.2H599.4M612 1665.3H614M603.5 1662.6V1666.3M603.5 1663.6H614M603.5 1665.3H612M599.4 1668.4H614M594.2 1663.4V1669.4M594.2 1664.4H603.5M594.2 1668.4H599.4M606.5 1671H614M585.7 1665.4V1672M585.7 1666.4H594.2M585.7 1671H606.5M576 1658.2V1669.7M576 1659.2H583.3M576 1668.7H585.7M567.9 1653.1V1665M567.9 1654.1H614M567.9 1664H576M558.7 1651.4V1660.1M558.7 1652.4H605.2M558.7 1659.1H567.9M599.6 1673H614M553.9 1654.7V1674M553.9 1655.7H558.7M553.9 1673H599.6M545 1618.2V1665.4M545 1619.2H554.6M545 1664.4H553.9M601.5 1674.7H614M613.9 1676V1680.7M613.9 1677H614M613.9 1679.7H614M607 1677.4V1682.5M607 1678.4H613.9M607 1681.5H614M599.6 1674.7V1680.9M599.6 1675.7H614M599.6 1679.9H607M601.4 1683H614M590.8 1676.8V1684M590.8 1677.8H599.6M590.8 1683H601.4M528 1673.7V1681.4M528 1674.7H601.5M528 1680.4H590.8M609.8 1684.5H614M607.4 1686.3H614M613.9 1689V1693.3M613.9 1690H614M613.9 1692.3H614M608.8 1686.9V1692.1M608.8 1687.9H614M608.8 1691.1H613.9M610.6 1693.8H614M600.3 1688.5V1694.8M600.3 1689.5H608.8M600.3 1693.8H610.6M595.4 1685.3V1692.7M595.4 1686.3H607.4M595.4 1691.7H600.3M604.7 1696.7V1701.1M604.7 1697.7H614M604.7 1700.1H614M596.3 1694.3V1699.9M596.3 1695.3H614M596.3 1698.9H604.7M586.4 1688V1698.1M586.4 1689H595.4M586.4 1697.1H596.3M578.5 1683.5V1694M578.5 1684.5H609.8M578.5 1693H586.4M610.9 1700.7V1704.4M610.9 1701.7H614M610.9 1703.4H614M605.3 1701.6V1704.9M605.3 1702.6H610.9M605.3 1703.9H614M600.9 1702.2V1705.5M600.9 1703.2H605.3M600.9 1704.5H614M600.7 1705.8H614M576.6 1702.8V1706.8M576.6 1703.8H600.9M576.6 1705.8H600.7M559.5 1687.8V1705.8M559.5 1688.8H578.5M559.5 1704.8H576.6M602.6 1708.5H614M596 1705.9V1709.5M596 1706.9H614M596 1708.5H602.6M596.1 1711.6H614M578.9 1706.7V1712.6M578.9 1707.7H596M578.9 1711.6H596.1M573.5 1708.6V1714.7M573.5 1709.6H578.9M573.5 1713.7H614M604.6 1715.7H614M613 1717.9H614M598 1714.7V1718.9M598 1715.7H604.6M598 1717.9H613M589.5 1715.8V1719.8M589.5 1716.8H598M589.5 1718.8H614M611.4 1719.7H614M580.5 1716.8V1720.7M580.5 1717.8H589.5M580.5 1719.7H611.4M557.5 1710.7V1719.8M557.5 1711.7H573.5M557.5 1718.8H580.5M552 1695.8V1716.2M552 1696.8H559.5M552 1715.2H557.5M603.3 1721.7H614M607.2 1724.4H614M597.8 1720.7V1725.4M597.8 1721.7H603.3M597.8 1724.4H607.2M613.8 1726.5H614M603.7 1728.6H614M612.4 1730.8H614M613.6 1733.2H614M607.7 1729.8V1734.2M607.7 1730.8H612.4M607.7 1733.2H613.6M598.4 1727.6V1733M598.4 1728.6H603.7M598.4 1732H607.7M601.6 1736.1H614M593.9 1729.3V1737.1M593.9 1730.3H598.4M593.9 1736.1H601.6M587.7 1725.5V1734.2M587.7 1726.5H613.8M587.7 1733.2H593.9M545 1722V1730.9M545 1723H597.8M545 1729.9H587.7M604.8 1738.6H614M608.7 1740.7H614M611.6 1741.6V1745.3M611.6 1742.6H614M611.6 1744.3H614M612.7 1746.6H614M605.3 1742.4V1747.6M605.3 1743.4H611.6M605.3 1746.6H612.7M614 1748.9H614M600.8 1744V1749.9M600.8 1745H605.3M600.8 1748.9H614M590.9 1746V1750.9M590.9 1747H600.8M590.9 1749.9H614M610.3 1750.6H614M584.2 1747.4V1751.6M584.2 1748.4H590.9M584.2 1750.6H610.3M609.1 1752.8H614M601.4 1750.1V1753.8M601.4 1751.1H614M601.4 1752.8H609.1M578.7 1748.5V1753M578.7 1749.5H584.2M578.7 1752H601.4M568.6 1739.7V1751.7M568.6 1740.7H608.7M568.6 1750.7H578.7M563.2 1737.6V1746.7M563.2 1738.6H604.8M563.2 1745.7H568.6M612 1755.3H614M613.9 1757H614M606.6 1754.3V1758M606.6 1755.3H612M606.6 1757H613.9M610 1758.9H614M601.9 1755.1V1759.9M601.9 1756.1H606.6M601.9 1758.9H610M605.2 1761.2H614M595 1756.5V1762.2M595 1757.5H601.9M595 1761.2H605.2M612.3 1762.5H614M596.8 1764.3H614M592.1 1761.5V1765.3M592.1 1762.5H612.3M592.1 1764.3H596.8M584.2 1758.4V1764.4M584.2 1759.4H595M584.2 1763.4H592.1M603.4 1767.2H614M559.6 1760.4V1768.2M559.6 1761.4H584.2M559.6 1767.2H603.4M554 1741.2V1765.3M554 1742.2H563.2M554 1764.3H559.6M604.5 1770.1H614M600.4 1772.9H614M610.3 1775.4H614M613.7 1777.2H614M603.7 1774.4V1778.2M603.7 1775.4H610.3M603.7 1777.2H613.7M592.7 1771.9V1777.3M592.7 1772.9H600.4M592.7 1776.3H603.7M588.2 1769.1V1775.6M588.2 1770.1H604.5M588.2 1774.6H592.7M603.4 1778.9H614M569 1771.4V1779.9M569 1772.4H588.2M569 1778.9H603.4M611.4 1781V1784.9M611.4 1782H614M611.4 1783.9H614M602.3 1779.2V1784M602.3 1780.2H614M602.3 1783H611.4M606.1 1784.4V1788.2M606.1 1785.4H614M606.1 1787.2H614M596.9 1783.5V1787.3M596.9 1784.5H614M596.9 1786.3H606.1M585.3 1780.6V1786.4M585.3 1781.6H602.3M585.3 1785.4H596.9M611.9 1789H614M578.7 1782.5V1790M578.7 1783.5H585.3M578.7 1789H611.9M604.5 1790.6H614M608.7 1790.9V1794.8M608.7 1791.9H614M608.7 1793.8H614M599.1 1789.6V1793.9M599.1 1790.6H604.5M599.1 1792.9H608.7M572.2 1785.3V1792.7M572.2 1786.3H578.7M572.2 1791.7H599.1M565 1774.6V1790M565 1775.6H569M565 1789H572.2M598.4 1796.4H614M609.8 1799.1H614M612.9 1801.1H614M604.3 1798.1V1802.1M604.3 1799.1H609.8M604.3 1801.1H612.9M596.9 1799.1V1803.2M596.9 1800.1H604.3M596.9 1802.2H614M587.2 1796.5V1802.1M587.2 1797.5H614M587.2 1801.1H596.9M577.2 1795.4V1800.3M577.2 1796.4H598.4M577.2 1799.3H587.2M604.7 1803.4H614M600 1805.3H614M595.2 1802.4V1806.3M595.2 1803.4H604.7M595.2 1805.3H600M602.6 1807.6H614M590.6 1803.3V1808.6M590.6 1804.3H595.2M590.6 1807.6H602.6M601.3 1809.7H614M608.8 1811.8V1815.8M608.8 1812.8H614M608.8 1814.8H614M600.8 1809.9V1814.8M600.8 1810.9H614M600.8 1813.8H608.8M595.1 1808.7V1813.4M595.1 1809.7H601.3M595.1 1812.4H600.8M590.7 1810V1816.4M590.7 1811H595.1M590.7 1815.4H614M582.9 1805V1814.2M582.9 1806H590.6M582.9 1813.2H590.7M601.9 1816.6H614M578.1 1808.6V1817.6M578.1 1809.6H582.9M578.1 1816.6H601.9M569.9 1796.9V1814.1M569.9 1797.9H577.2M569.9 1813.1H578.1M610.9 1819H614M603 1818V1821.7M603 1819H610.9M603 1820.7H614M612.3 1823.6H614M605.7 1820.8V1824.6M605.7 1821.8H614M605.7 1823.6H612.3M596.1 1818.8V1823.7M596.1 1819.8H603M596.1 1822.7H605.7M560 1804.5V1822.3M560 1805.5H569.9M560 1821.3H596.1M604.7 1826.5H614M612.2 1828.6H614M589 1825.5V1829.6M589 1826.5H604.7M589 1828.6H612.2M540 1823.8V1828.5M540 1824.8H614M540 1827.5H589M612 1830H614M611 1831.4V1836.6M611 1832.4H614M611 1835.6H614M603.3 1829V1835M603.3 1830H612M603.3 1834H611M593.9 1831V1838.2M593.9 1832H603.3M593.9 1837.2H614M607.6 1839.3V1844.3M607.6 1840.3H614M607.6 1843.3H614M600.9 1837.8V1842.8M600.9 1838.8H614M600.9 1841.8H607.6M591.7 1837.1V1841.3M591.7 1838.1H614M591.7 1840.3H600.9M612.4 1845.4V1849.1M612.4 1846.4H614M612.4 1848.1H614M603.5 1844.2V1848.3M603.5 1845.2H614M603.5 1847.3H612.4M601.1 1850H614M594.3 1845.2V1851M594.3 1846.2H603.5M594.3 1850H601.1M614 1851.3H614M576.4 1847.1V1852.3M576.4 1848.1H594.3M576.4 1851.3H614M560.5 1838.2V1850.7M560.5 1839.2H591.7M560.5 1849.7H576.4M546 1833.6V1845.5M546 1834.6H593.9M546 1844.5H560.5M609.7 1852.7H614M604.1 1855H614M608.1 1857.1H614M599.5 1854V1858.1M599.5 1855H604.1M599.5 1857.1H608.1M583.1 1851.7V1857.1M583.1 1852.7H609.7M583.1 1856.1H599.5M599.9 1859.6H614M604.3 1862.1H614M590.4 1858.6V1863.1M590.4 1859.6H599.9M590.4 1862.1H604.3M600.5 1864.6H614M585.6 1859.8V1865.6M585.6 1860.8H590.4M585.6 1864.6H600.5M576.5 1853.4V1863.7M576.5 1854.4H583.1M576.5 1862.7H585.6M612.7 1866.6H614M568.9 1857.5V1867.6M568.9 1858.5H576.5M568.9 1866.6H612.7M609.2 1868.4H614M560.4 1861.6V1869.4M560.4 1862.6H568.9M560.4 1868.4H609.2M610.2 1869.9H614M601.8 1871.8H614M587.7 1868.9V1872.8M587.7 1869.9H610.2M587.7 1871.8H601.8M601.6 1874.8H614M611.3 1876.9H614M611.1 1878.4H614M606 1877.4V1881.2M606 1878.4H611.1M606 1880.2H614M609.2 1881.4H614M600.2 1878.3V1882.4M600.2 1879.3H606M600.2 1881.4H609.2M612.9 1882.8H614M607.9 1881.8V1885.6M607.9 1882.8H612.9M607.9 1884.6H614M611.3 1886.8H614M602.2 1882.7V1887.8M602.2 1883.7H607.9M602.2 1886.8H611.3M592.8 1879.4V1886.2M592.8 1880.4H600.2M592.8 1885.2H602.2M586.1 1875.9V1883.8M586.1 1876.9H611.3M586.1 1882.8H592.8M604.9 1888.7H614M580.2 1878.8V1889.7M580.2 1879.8H586.1M580.2 1888.7H604.9M572.1 1873.8V1885.3M572.1 1874.8H601.6M572.1 1884.3H580.2M566.9 1869.8V1880.6M566.9 1870.8H587.7M566.9 1879.6H572.1M541 1864.5V1876.2M541 1865.5H560.4M541 1875.2H566.9M610.9 1890.3H614M606.8 1892.6H614M601.3 1889.3V1893.6M601.3 1890.3H610.9M601.3 1892.6H606.8M601.8 1894.9H614M594.5 1890.4V1895.9M594.5 1891.4H601.3M594.5 1894.9H601.8M607.7 1897H614M571.2 1892.2V1898M571.2 1893.2H594.5M571.2 1897H607.7M610.3 1898.5H614M598.5 1900.2H614M591.4 1897.5V1901.2M591.4 1898.5H610.3M591.4 1900.2H598.5M561.6 1894.1V1900.4M561.6 1895.1H571.2M561.6 1899.4H591.4M601.8 1902.6H614M606.5 1905H614M591.2 1901.6V1906M591.2 1902.6H601.8M591.2 1905H606.5M612 1907H614M601.3 1908.7H614M596.1 1906V1909.7M596.1 1907H612M596.1 1908.7H601.3M586.2 1902.8V1908.9M586.2 1903.8H591.2M586.2 1907.9H596.1M556.9 1896.2V1906.8M556.9 1897.2H561.6M556.9 1905.8H586.2M598.3 1910.6H614M601.6 1912.9H614M592.6 1909.6V1913.9M592.6 1910.6H598.3M592.6 1912.9H601.6M586.1 1910.7V1915.4M586.1 1911.7H592.6M586.1 1914.4H614M610.1 1915.7H614M601 1918.3H614M607.1 1921H614M608.3 1922.9H614M596.4 1920V1923.9M596.4 1921H607.1M596.4 1922.9H608.3M609.8 1925H614M613.9 1927H614M602.3 1924V1928M602.3 1925H609.8M602.3 1927H613.9M605 1928.3H614M597.2 1925V1929.3M597.2 1926H602.3M597.2 1928.3H605M607.3 1930.3H614M609.1 1932.2H614M599.5 1929.3V1933.2M599.5 1930.3H607.3M599.5 1932.2H609.1M591.9 1926.2V1932.2M591.9 1927.2H597.2M591.9 1931.2H599.5M587.4 1921V1930.2M587.4 1922H596.4M587.4 1929.2H591.9M580.3 1924.6V1934.3M580.3 1925.6H587.4M580.3 1933.3H614M570.5 1917.3V1930.5M570.5 1918.3H601M570.5 1929.5H580.3M565 1914.7V1924.9M565 1915.7H610.1M565 1923.9H570.5M560.6 1912.1V1920.8M560.6 1913.1H586.1M560.6 1919.8H565M550 1900.5V1917.4M550 1901.5H556.9M550 1916.4H560.6M610.4 1934.3H614M608.5 1936.3H614M604 1933.3V1937.3M604 1934.3H610.4M604 1936.3H608.5M605.7 1938.4H614M604.1 1940.4H614M592.4 1937.4V1941.4M592.4 1938.4H605.7M592.4 1940.4H604.1M570.3 1934.3V1940.4M570.3 1935.3H604M570.3 1939.4H592.4M603.3 1942.7H614M603.1 1945.2H614M595.1 1941.7V1946.2M595.1 1942.7H603.3M595.1 1945.2H603.1M606.9 1947.3H614M605.8 1948.9H614M607.3 1950.5H614M598.7 1947.9V1951.5M598.7 1948.9H605.8M598.7 1950.5H607.3M594.3 1946.3V1950.7M594.3 1947.3H606.9M594.3 1949.7H598.7M586 1943V1949.5M586 1944H595.1M586 1948.5H594.3M609 1950.5V1954.1M609 1951.5H614M609 1953.1H614M613.6 1954.8H614M601.8 1951.3V1955.8M601.8 1952.3H609M601.8 1954.8H613.6M595.9 1952.5V1956.2M595.9 1953.5H601.8M595.9 1955.2H614M576.3 1945.2V1955.3M576.3 1946.2H586M576.3 1954.3H595.9M597.8 1956.6H614M604.6 1958.8H614M593.5 1955.6V1959.8M593.5 1956.6H597.8M593.5 1958.8H604.6M582.7 1956.7V1961.1M582.7 1957.7H593.5M582.7 1960.1H614M602.9 1962H614M574 1957.9V1963M574 1958.9H582.7M574 1962H602.9M568 1949.3V1961.5M568 1950.3H576.3M568 1960.5H574M561.1 1936.3V1956.4M561.1 1937.3H570.3M561.1 1955.4H568M602.5 1964.3H614M556.3 1945.4V1965.3M556.3 1946.4H561.1M556.3 1964.3H602.5M608.8 1966H614M606.3 1968.3H614M600.2 1965V1969.3M600.2 1966H608.8M600.2 1968.3H606.3M610.7 1970.6H614M600.8 1972.6H614M602 1975.4H614M588.2 1971.6V1976.4M588.2 1972.6H600.8M588.2 1975.4H602M583.4 1969.6V1975M583.4 1970.6H610.7M583.4 1974H588.2M577.6 1966.2V1973.3M577.6 1967.2H600.2M577.6 1972.3H583.4M607.3 1978.4H614M560.2 1968.7V1979.4M560.2 1969.7H577.6M560.2 1978.4H607.3M533 1954.3V1975.1M533 1955.3H556.3M533 1974.1H560.2M611.7 1980.4H614M609.8 1982.7V1987.1M609.8 1983.7H614M609.8 1986.1H614M605.2 1983.9V1987.6M605.2 1984.9H609.8M605.2 1986.6H614M599.5 1984.8V1988M599.5 1985.8H605.2M599.5 1987H614M592.7 1980.2V1987.4M592.7 1981.2H614M592.7 1986.4H599.5M552 1979.4V1984.8M552 1980.4H611.7M552 1983.8H592.7M612.3 1987.6H614M610.1 1988.4V1992.9M610.1 1989.4H614M610.1 1991.9H614M608 1993.8H614M600.7 1989.6V1994.8M600.7 1990.6H610.1M600.7 1993.8H608M590.9 1986.6V1993.2M590.9 1987.6H612.3M590.9 1992.2H600.7M606.9 1995.8H614M611.4 1997.6H614M602 1994.8V1998.6M602 1995.8H606.9M602 1997.6H611.4M608.7 1999H614M597.5 2001.4H614M605.9 2004H614M605.7 2006.3H614M599.2 2003V2007.3M599.2 2004H605.9M599.2 2006.3H605.7M613.7 2007.6H614M607.3 2007.1V2012.7M607.3 2008.1H614M607.3 2011.7H614M600.8 2006.6V2010.9M600.8 2007.6H613.7M600.8 2009.9H607.3M593.2 2004.2V2009.8M593.2 2005.2H599.2M593.2 2008.8H600.8M583.7 2006V2016.4M583.7 2007H593.2M583.7 2015.4H614M577.6 2000.4V2012.2M577.6 2001.4H597.5M577.6 2011.2H583.7M570.3 1998V2007.3M570.3 1999H608.7M570.3 2006.3H577.6M562.6 1995.7V2003.7M562.6 1996.7H602M562.6 2002.7H570.3M556 1988.9V2000.7M556 1989.9H590.9M556 1999.7H562.6M596.9 2017.1H614M613.6 2018.5H614M609.8 2020.7H614M611.8 2022.8H614M603.7 2019.7V2023.8M603.7 2020.7H609.8M603.7 2022.8H611.8M596.2 2018.1V2022.7M596.2 2019.1H614M596.2 2021.7H603.7M591 2017.5V2021.4M591 2018.5H613.6M591 2020.4H596.2M613.6 2024.6H614M610.7 2026.4H614M605.1 2023.6V2027.4M605.1 2024.6H613.6M605.1 2026.4H610.7M610.2 2028H614M600.3 2024.5V2029M600.3 2025.5H605.1M600.3 2028H610.2M594.6 2025.7V2030.1M594.6 2026.7H600.3M594.6 2029.1H614M573.8 2018.4V2028.9M573.8 2019.4H591M573.8 2027.9H594.6M605.5 2030.2H614M612.1 2031V2034.6M612.1 2032H614M612.1 2033.6H614M607.4 2030.2V2033.8M607.4 2031.2H614M607.4 2032.8H612.1M608.6 2035.8H614M601.8 2031V2036.8M601.8 2032H607.4M601.8 2035.8H608.6M597.6 2032.9V2038.2M597.6 2033.9H601.8M597.6 2037.2H614M587.7 2029.2V2036.5M587.7 2030.2H605.5M587.7 2035.5H597.6M565.6 2022.7V2033.9M565.6 2023.7H573.8M565.6 2032.9H587.7M603.9 2038.2H614M601.8 2040H614M610.8 2042.2H614M611.8 2043.8H614M599.8 2041.2V2044.8M599.8 2042.2H610.8M599.8 2043.8H611.8M602.1 2045.4H614M590.8 2042V2046.4M590.8 2043H599.8M590.8 2045.4H602.1M581.4 2039V2045.2M581.4 2040H601.8M581.4 2044.2H590.8M606.4 2047.1H614M597.6 2048.9H614M590.7 2046.1V2049.9M590.7 2047.1H606.4M590.7 2048.9H597.6M574.8 2041.1V2049M574.8 2042.1H581.4M574.8 2048H590.7M567.2 2037.2V2046M567.2 2038.2H603.9M567.2 2045H574.8M559.2 2027.3V2042.6M559.2 2028.3H565.6M559.2 2041.6H567.2M554.9 2016.1V2035.9M554.9 2017.1H596.9M554.9 2034.9H559.2M606.3 2051.5H614M597.6 2054.4H614M610.9 2060.6H614M606 2056.6V2061.6M606 2057.6H614M606 2060.6H610.9M596.6 2058.1V2063.1M596.6 2059.1H606M596.6 2062.1H614M591.4 2053.4V2061.6M591.4 2054.4H597.6M591.4 2060.6H596.6M607.6 2063.3H614M584.4 2056.5V2064.3M584.4 2057.5H591.4M584.4 2063.3H607.6M573.7 2050.5V2061.4M573.7 2051.5H606.3M573.7 2060.4H584.4M603.6 2065.5H614M602.7 2068H614M594.9 2064.5V2069M594.9 2065.5H603.6M594.9 2068H602.7M611.1 2068.4V2072M611.1 2069.4H614M611.1 2071H614M602.1 2069.2V2073.9M602.1 2070.2H611.1M602.1 2072.9H614M578.5 2065.8V2072.6M578.5 2066.8H594.9M578.5 2071.6H602.1M563.8 2055V2070.2M563.8 2056H573.7M563.8 2069.2H578.5M593.3 2074.8H614M554.2 2061.6V2075.8M554.2 2062.6H563.8M554.2 2074.8H593.3M550 2025V2069.7M550 2026H554.9M550 2068.7H554.2M599.7 2077.4H614M602.5 2079.9H614M613.7 2081.3H614M605.4 2082.5V2086.7M605.4 2083.5H614M605.4 2085.7H614M598.5 2080.3V2085.6M598.5 2081.3H613.7M598.5 2084.6H605.4M612.7 2085.9V2091.5M612.7 2086.9H614M612.7 2090.5H614M612 2093.6H614M604 2087.7V2094.6M604 2088.7H612.7M604 2093.6H612M613.4 2094.5H614M598.4 2090.2V2095.5M598.4 2091.2H604M598.4 2094.5H613.4M588.6 2081.9V2093.9M588.6 2082.9H598.5M588.6 2092.9H598.4M605.2 2096.6H614M583 2086.9V2097.6M583 2087.9H588.6M583 2096.6H605.2M576.4 2078.9V2093.3M576.4 2079.9H602.5M576.4 2092.3H583M565.1 2076.4V2087.1M565.1 2077.4H599.7M565.1 2086.1H576.4M606.1 2099.3H614M608.4 2099.6V2103.8M608.4 2100.6H614M608.4 2102.8H614M603.2 2100.7V2106.1M603.2 2101.7H608.4M603.2 2105.1H614M597.1 2098.3V2104.4M597.1 2099.3H606.1M597.1 2103.4H603.2M588.1 2100.4V2106.7M588.1 2101.4H597.1M588.1 2105.7H614M579.9 2102.5V2107.3M579.9 2103.5H588.1M579.9 2106.3H614M610.8 2107.2H614M610.3 2108.6H614M613.1 2110.9H614M603.5 2107.6V2111.9M603.5 2108.6H610.3M603.5 2110.9H613.1M594.8 2106.2V2110.8M594.8 2107.2H610.8M594.8 2109.8H603.5M611.3 2112.8H614M588.2 2107.5V2113.8M588.2 2108.5H594.8M588.2 2112.8H611.3M557.3 2103.9V2111.7M557.3 2104.9H579.9M557.3 2110.7H588.2M541 2080.8V2108.8M541 2081.8H565.1M541 2107.8H557.3M602.2 2114.3H614M609.2 2116.1H614M613 2118.3H614M604 2115.1V2119.3M604 2116.1H609.2M604 2118.3H613M608.4 2120.4H614M609.1 2122.2H614M602.6 2119.4V2123.2M602.6 2120.4H608.4M602.6 2122.2H609.1M596.6 2116.2V2122.3M596.6 2117.2H604M596.6 2121.3H602.6M587.2 2113.3V2120.2M587.2 2114.3H602.2M587.2 2119.2H596.6M605.1 2124.3H614M601.9 2127H614M596.9 2123.3V2128M596.9 2124.3H605.1M596.9 2127H601.9M592 2124.7V2130M592 2125.7H596.9M592 2129H614M612.2 2130.4H614M611.6 2132.3H614M602.2 2129.4V2133.3M602.2 2130.4H612.2M602.2 2132.3H611.6M607.9 2134.2H614M592.3 2130.3V2135.2M592.3 2131.3H602.2M592.3 2134.2H607.9M575.7 2126.3V2133.8M575.7 2127.3H592M575.7 2132.8H592.3M552 2115.8V2131M552 2116.8H587.2M552 2130H575.7M610.4 2136.5H614M609.6 2138.6V2142.4M609.6 2139.6H614M609.6 2141.4H614M602.6 2135.5V2141.5M602.6 2136.5H610.4M602.6 2140.5H609.6M609.4 2142.2H614M609.2 2144H614M600.8 2141.2V2145M600.8 2142.2H609.4M600.8 2144H609.2M592.7 2137.5V2144.1M592.7 2138.5H602.6M592.7 2143.1H600.8M609.1 2146H614M583.2 2139.8V2147M583.2 2140.8H592.7M583.2 2146H609.1M601.4 2148.3H614M608.7 2149.9V2153.7M608.7 2150.9H614M608.7 2152.7H614M601.4 2148.9V2152.8M601.4 2149.9H614M601.4 2151.8H608.7M595.5 2147.3V2151.9M595.5 2148.3H601.4M595.5 2150.9H601.4M606 2154.5H614M603.2 2157H614M594.2 2153.5V2158M594.2 2154.5H606M594.2 2157H603.2M586.5 2148.6V2156.8M586.5 2149.6H595.5M586.5 2155.8H594.2M581.2 2151.7V2160M581.2 2152.7H586.5M581.2 2159H614M608.8 2160.4H614M610 2162.4H614M600 2159.4V2163.4M600 2160.4H608.8M600 2162.4H610M585.7 2160.4V2164.6M585.7 2161.4H600M585.7 2163.6H614M575.1 2154.8V2163.5M575.1 2155.8H581.2M575.1 2162.5H585.7M592.2 2165.3H614M563.2 2158.1V2166.3M563.2 2159.1H575.1M563.2 2165.3H592.2M556 2142.4V2163.2M556 2143.4H583.2M556 2162.2H563.2M607.4 2167.9H614M607.7 2170.6H614M600.1 2166.9V2171.6M600.1 2167.9H607.4M600.1 2170.6H607.7M609.5 2173.8H614M604.2 2171.1V2174.8M604.2 2172.1H614M604.2 2173.8H609.5M609.6 2175.7H614M599.2 2171.9V2176.7M599.2 2172.9H604.2M599.2 2175.7H609.6M589.8 2168.3V2175.3M589.8 2169.3H600.1M589.8 2174.3H599.2M607.1 2177.1H614M578.7 2170.8V2178.1M578.7 2171.8H589.8M578.7 2177.1H607.1M611.2 2178.7H614M572.3 2173.4V2179.7M572.3 2174.4H578.7M572.3 2178.7H611.2M611.5 2180.1H614M613.5 2181.1H614M611.3 2182.5H614M609.3 2184.5H614M602.3 2181.5V2185.5M602.3 2182.5H611.3M602.3 2184.5H609.3M592.5 2180.1V2184.5M592.5 2181.1H613.5M592.5 2183.5H602.3M581.8 2179.1V2183.3M581.8 2180.1H611.5M581.8 2182.3H592.5M610.1 2185.7H614M572.5 2180.2V2186.7M572.5 2181.2H581.8M572.5 2185.7H610.1M563.8 2175.5V2184.4M563.8 2176.5H572.3M563.8 2183.4H572.5M613.4 2186.7V2190.7M613.4 2187.7H614M613.4 2189.7H614M608.3 2185.8V2189.7M608.3 2186.8H614M608.3 2188.7H613.4M602.7 2185.5V2188.8M602.7 2186.5H614M602.7 2187.8H608.3M608.9 2192.7H614M604.5 2190V2193.7M604.5 2191H614M604.5 2192.7H608.9M595.8 2186.1V2192.8M595.8 2187.1H602.7M595.8 2191.8H604.5M613.9 2194.4H614M588.9 2188.5V2195.4M588.9 2189.5H595.8M588.9 2194.4H613.9M557.8 2179V2192.9M557.8 2180H563.8M557.8 2191.9H588.9M609.2 2195.5H614M612.2 2197.5H614M604.9 2196.5V2200.2M604.9 2197.5H612.2M604.9 2199.2H614M588.8 2194.5V2199.3M588.8 2195.5H609.2M588.8 2198.3H604.9M610.2 2200.5H614M612 2202.2H614M613.6 2203.4H614M609.9 2204.5V2208.6M609.9 2205.5H614M609.9 2207.6H614M600.8 2202.4V2207.5M600.8 2203.4H613.6M600.8 2206.5H609.9M606.1 2209.1H614M602.2 2211.9H614M596.5 2208.1V2212.9M596.5 2209.1H606.1M596.5 2211.9H602.2M612.9 2213.7H614M591 2209.5V2214.7M591 2210.5H596.5M591 2213.7H612.9M584.9 2203.9V2213.1M584.9 2204.9H600.8M584.9 2212.1H591M575.5 2201.2V2209.5M575.5 2202.2H612M575.5 2208.5H584.9M566.9 2199.5V2206.4M566.9 2200.5H610.2M566.9 2205.4H575.5M562 2195.9V2203.9M562 2196.9H588.8M562 2202.9H566.9M599.6 2215H614M555.4 2198.9V2216M555.4 2199.9H562M555.4 2215H599.6M548 2185V2208.4M548 2186H557.8M548 2207.4H555.4M600.7 2217.1H614M603.4 2219.1H614M593.1 2216.1V2220.1M593.1 2217.1H600.7M593.1 2219.1H603.4M611.7 2221.2H614M611.7 2223.1H614M602.8 2220.2V2224.1M602.8 2221.2H611.7M602.8 2223.1H611.7M596.4 2221.1V2224.8M596.4 2222.1H602.8M596.4 2223.8H614M605 2224.5H614M607.4 2226.2H614M595.5 2223.5V2227.2M595.5 2224.5H605M595.5 2226.2H607.4M590.6 2222V2226.4M590.6 2223H596.4M590.6 2225.4H595.5M582.5 2217.1V2225.2M582.5 2218.1H593.1M582.5 2224.2H590.6M611.9 2228.3H614M611.6 2228.8V2233.3M611.6 2229.8H614M611.6 2232.3H614M603.7 2228.4V2232.1M603.7 2229.4H614M603.7 2231.1H611.6M600.9 2235.7H614M595.9 2229.2V2236.7M595.9 2230.2H603.7M595.9 2235.7H600.9M607.3 2238.3H614M587.5 2232V2239.3M587.5 2233H595.9M587.5 2238.3H607.3M579.7 2227.3V2236.7M579.7 2228.3H611.9M579.7 2235.7H587.5M611.3 2240.3H614M598.5 2242.6H614M588.5 2239.3V2243.6M588.5 2240.3H611.3M588.5 2242.6H598.5M570.7 2231V2242.5M570.7 2232H579.7M570.7 2241.5H588.5M604.8 2245H614M607.2 2246.5H614M613.1 2248.7H614M608.7 2247.7V2251.9M608.7 2248.7H613.1M608.7 2250.9H614M605.3 2252.5H614M600.6 2248.8V2253.5M600.6 2249.8H608.7M600.6 2252.5H605.3M594 2245.5V2252.1M594 2246.5H607.2M594 2251.1H600.6M578.5 2244V2249.8M578.5 2245H604.8M578.5 2248.8H594M601.6 2254.9H614M592.2 2253.9V2257.9M592.2 2254.9H601.6M592.2 2256.9H614M573.2 2245.9V2256.9M573.2 2246.9H578.5M573.2 2255.9H592.2M563.6 2235.7V2252.4M563.6 2236.7H570.7M563.6 2251.4H573.2M556 2220.1V2245.1M556 2221.1H582.5M556 2244.1H563.6M612.7 2257.8H614M603.1 2259.7H614M591.1 2256.8V2260.7M591.1 2257.8H612.7M591.1 2259.7H603.1M608.9 2260.3V2263.9M608.9 2261.3H614M608.9 2262.9H614M609.4 2265.3H614M602.4 2261.1V2266.3M602.4 2262.1H608.9M602.4 2265.3H609.4M609.1 2267H614M596 2262.7V2268M596 2263.7H602.4M596 2267H609.1M581.7 2257.8V2266.4M581.7 2258.8H591.1M581.7 2265.4H596M605.1 2268.6H614M610.1 2270.4H614M610.6 2273.2V2279.3M610.6 2274.2H614M610.6 2278.3H614M601.4 2269.4V2277.3M601.4 2270.4H610.1M601.4 2276.3H610.6M613 2280H614M592.7 2272.3V2281M592.7 2273.3H601.4M592.7 2280H613M584.3 2267.6V2277.7M584.3 2268.6H605.1M584.3 2276.7H592.7M601.9 2281.7H614M604.3 2284.4H614M596.5 2280.7V2285.4M596.5 2281.7H601.9M596.5 2284.4H604.3M603 2287.2H614M590.5 2282.1V2288.2M590.5 2283.1H596.5M590.5 2287.2H603M607.1 2288.9V2294M607.1 2289.9H614M607.1 2293H614M608.1 2296H614M598.6 2290.4V2297M598.6 2291.4H607.1M598.6 2296H608.1M600.7 2298H614M592.8 2292.7V2299M592.8 2293.7H598.6M592.8 2298H600.7M585.5 2284.1V2296.8M585.5 2285.1H590.5M585.5 2295.8H592.8M578.6 2271.6V2291.5M578.6 2272.6H584.3M578.6 2290.5H585.5M613.1 2298.5V2302.3M613.1 2299.5H614M613.1 2301.3H614M607.7 2298.2V2301.4M607.7 2299.2H614M607.7 2300.4H613.1M599.9 2298.8V2304.2M599.9 2299.8H607.7M599.9 2303.2H614M588.7 2300.5V2304.8M588.7 2301.5H599.9M588.7 2303.8H614M572.1 2280.6V2303.7M572.1 2281.6H578.6M572.1 2302.7H588.7M564.6 2261.1V2293.1M564.6 2262.1H581.7M564.6 2292.1H572.1M597.5 2305.8H614M557.4 2276.1V2306.8M557.4 2277.1H564.6M557.4 2305.8H597.5M600.6 2308.9H614M609.6 2309.5V2313.3M609.6 2310.5H614M609.6 2312.3H614M613.8 2314.8H614M603.1 2310.4V2315.8M603.1 2311.4H609.6M603.1 2314.8H613.8M597.2 2312.1V2316.7M597.2 2313.1H603.1M597.2 2315.7H614M611.2 2317.2H614M609.9 2319.3H614M604.8 2316.2V2320.3M604.8 2317.2H611.2M604.8 2319.3H609.9M596.3 2315.1V2319.3M596.3 2316.1H614M596.3 2318.3H604.8M606.7 2319.9V2324.1M606.7 2320.9H614M606.7 2323.1H614M598.5 2319.6V2323M598.5 2320.6H614M598.5 2322H606.7M591.3 2316.2V2322.3M591.3 2317.2H596.3M591.3 2321.3H598.5M581.6 2318.2V2326.4M581.6 2319.2H591.3M581.6 2325.4H614M613.6 2325.9H614M612.9 2330.7H614M605.8 2327.3V2331.7M605.8 2328.3H614M605.8 2330.7H612.9M597.1 2324.9V2330.5M597.1 2325.9H613.6M597.1 2329.5H605.8M606.5 2332H614M609.1 2333.8H614M601.7 2331V2334.8M601.7 2332H606.5M601.7 2333.8H609.1M592.5 2326.7V2333.9M592.5 2327.7H597.1M592.5 2332.9H601.7M569.4 2321.3V2331.3M569.4 2322.3H581.6M569.4 2330.3H592.5M563.8 2313.4V2327.3M563.8 2314.4H597.2M563.8 2326.3H569.4M554.3 2307.9V2321.4M554.3 2308.9H600.6M554.3 2320.4H563.8M550 2290.5V2315.6M550 2291.5H557.4M550 2314.6H554.3M608.4 2335.8H614M607.7 2337.7H614M601.3 2334.8V2338.7M601.3 2335.8H608.4M601.3 2337.7H607.7M613.3 2340.1H614M605.9 2339.1V2342.8M605.9 2340.1H613.3M605.9 2341.8H614M601.4 2339.9V2343.1M601.4 2340.9H605.9M601.4 2342.1H614M593.5 2337.4V2342.5M593.5 2338.4H614M593.5 2341.5H601.4M586.5 2335.7V2341M586.5 2336.7H601.3M586.5 2340H593.5M572.4 2337.3V2343.5M572.4 2338.3H586.5M572.4 2342.5H614M613.6 2343.3H614M608.7 2344.8H614M608.1 2346.3H614M609.3 2346.3V2351.5M609.3 2347.3H614M609.3 2350.5H614M609.5 2352.7V2356.9M609.5 2353.7H614M609.5 2355.9H614M603.5 2347.9V2355.8M603.5 2348.9H609.3M603.5 2354.8H609.5M613.1 2358.1H614M595.3 2350.8V2359.1M595.3 2351.8H603.5M595.3 2358.1H613.1M587.9 2345.3V2356M587.9 2346.3H608.1M587.9 2355H595.3M580.1 2343.8V2351.6M580.1 2344.8H608.7M580.1 2350.6H587.9M552.2 2342.3V2348.7M552.2 2343.3H613.6M552.2 2347.7H580.1M510 2339.4V2346.5M510 2340.4H572.4M510 2345.5H552.2M591 2360H614M610.2 2362.1H614M608.1 2364H614M601.8 2361.1V2365M601.8 2362.1H610.2M601.8 2364H608.1M594.9 2366.7H614M586.7 2362.1V2367.7M586.7 2363.1H601.8M586.7 2366.7H594.9M606.9 2369.5H614M607.5 2371.6H614M601 2368.5V2372.6M601 2369.5H606.9M601 2371.6H607.5M596.5 2373.6H614M591.8 2369.5V2374.6M591.8 2370.5H601M591.8 2373.6H596.5M582.5 2363.9V2373.1M582.5 2364.9H586.7M582.5 2372.1H591.8M606.5 2376.2H614M610.6 2378.1H614M586.9 2375.2V2379.1M586.9 2376.2H606.5M586.9 2378.1H610.6M573.5 2367.5V2378.2M573.5 2368.5H582.5M573.5 2377.2H586.9M565.9 2359V2373.8M565.9 2360H591M565.9 2372.8H573.5M611 2379V2383M611 2380H614M611 2382H614M602.7 2377.8V2382M602.7 2378.8H614M602.7 2381H611M538.2 2365.4V2380.9M538.2 2366.4H565.9M538.2 2379.9H602.7M605.7 2384.1H614M605.6 2386.6H614M609.8 2386.4V2390M609.8 2387.4H614M609.8 2389H614M601.5 2385.6V2389.2M601.5 2386.6H605.6M601.5 2388.2H609.8M597 2384.6V2388.4M597 2385.6H614M597 2387.4H601.5M607.2 2391.6H614M605.9 2393.9H614M599.9 2390.6V2394.9M599.9 2391.6H607.2M599.9 2393.9H605.9M591.2 2385.5V2393.7M591.2 2386.5H597M591.2 2392.7H599.9M582.2 2383.1V2390.6M582.2 2384.1H605.7M582.2 2389.6H591.2M485 2372.2V2387.9M485 2373.2H538.2M485 2386.9H582.2M609.4 2396.2H614M596.9 2398.8H614M609.4 2401.3H614M582.7 2397.8V2402.3M582.7 2398.8H596.9M582.7 2401.3H609.4M485 2395.2V2401.1M485 2396.2H609.4M485 2400.1H582.7M596.1 2403.7H614M603.7 2406H614M604.4 2408.5H614M596.3 2405V2409.5M596.3 2406H603.7M596.3 2408.5H604.4M588.8 2402.7V2408.3M588.8 2403.7H596.1M588.8 2407.3H596.3M608.2 2410.9H614M607.5 2411.4V2415.1M607.5 2412.4H614M607.5 2414.1H614M601.7 2409.9V2414.3M601.7 2410.9H608.2M601.7 2413.3H607.5M611.8 2415.7H614M584 2411.1V2416.7M584 2412.1H601.7M584 2415.7H611.8M579.3 2409.1V2414.9M579.3 2410.1H614M579.3 2413.9H584M500 2404.5V2413M500 2405.5H588.8M500 2412H579.3M609.1 2417.2H614M608 2419.2H614M599 2416.2V2420.2M599 2417.2H609.1M599 2419.2H608M604.5 2421.7H614M608.2 2424H614M609 2426.5H614M602.7 2423V2427.5M602.7 2424H608.2M602.7 2426.5H609M595.4 2420.7V2426.3M595.4 2421.7H604.5M595.4 2425.3H602.7M603.5 2429.2H614M574 2422.5V2430.2M574 2423.5H595.4M574 2429.2H603.5M529 2417.2V2427.4M529 2418.2H599M529 2426.4H574M608.3 2431.4V2436M608.3 2432.4H614M608.3 2435H614M603 2432.7V2437M603 2433.7H608.3M603 2436H614M593.2 2433.9V2437.4M593.2 2434.9H603M593.2 2436.4H614M583.1 2434.6V2437.9M583.1 2435.6H593.2M583.1 2436.9H614M609.6 2437.8H614M606.4 2439.8H614M597.9 2436.8V2440.8M597.9 2437.8H609.6M597.9 2439.8H606.4M590.9 2437.8V2442.3M590.9 2438.8H597.9M590.9 2441.3H614M602.1 2443.7H614M592.6 2442.7V2446.9M592.6 2443.7H602.1M592.6 2445.9H614M586.4 2440.8V2445.8M586.4 2441.8H614M586.4 2444.8H592.6M581.8 2439.1V2444.3M581.8 2440.1H590.9M581.8 2443.3H586.4M572.5 2435.3V2442.7M572.5 2436.3H583.1M572.5 2441.7H581.8M612.4 2446.9H614M609.8 2448.9H614M603.7 2445.9V2449.9M603.7 2446.9H612.4M603.7 2448.9H609.8M607.4 2451.2H614M599 2446.9V2452.2M599 2447.9H603.7M599 2451.2H607.4M602.3 2453.4H614M592.8 2448.6V2454.4M592.8 2449.6H599M592.8 2453.4H602.3M607.7 2456.1H614M587.2 2450.5V2457.1M587.2 2451.5H592.8M587.2 2456.1H607.7M500 2438V2454.8M500 2439H572.5M500 2453.8H587.2M609.5 2461.4H614M604.3 2457.7V2462.4M604.3 2458.7H614M604.3 2461.4H609.5M599.3 2459V2464.2M599.3 2460H604.3M599.3 2463.2H614M612.8 2463.8H614M610 2464V2468.3M610 2465H614M610 2467.3H614M603.3 2465.1V2470M603.3 2466.1H610M603.3 2469H614M597.5 2462.8V2468.6M597.5 2463.8H612.8M597.5 2467.6H603.3M592.1 2464.7V2470.7M592.1 2465.7H597.5M592.1 2469.7H614M608.3 2471.3H614M607.6 2473.5H614M601.6 2470.3V2474.5M601.6 2471.3H608.3M601.6 2473.5H607.6M583.1 2466.7V2473.4M583.1 2467.7H592.1M583.1 2472.4H601.6M518 2460.6V2471M518 2461.6H599.3M518 2470H583.1M601.7 2475.4H614M599.4 2477.9H614M613.7 2479.5H614M607.5 2481H614M608.7 2483.5H614M600.3 2480V2484.5M600.3 2481H607.5M600.3 2483.5H608.7M591.9 2478.5V2483.3M591.9 2479.5H613.7M591.9 2482.3H600.3M610.3 2485.6H614M582.9 2479.9V2486.6M582.9 2480.9H591.9M582.9 2485.6H610.3M576.8 2476.9V2484.2M576.8 2477.9H599.4M576.8 2483.2H582.9M566.8 2474.4V2481.6M566.8 2475.4H601.7M566.8 2480.6H576.8M613.9 2486.8H614M557 2477V2487.8M557 2478H566.8M557 2486.8H613.9M606.5 2487.8H614M608.4 2490.5H614M608.3 2492.5H614M599.3 2489.5V2493.5M599.3 2490.5H608.4M599.3 2492.5H608.3M611.6 2494.7H614M606.9 2493.7V2498.3M606.9 2494.7H611.6M606.9 2497.3H614M613.7 2498.8H614M597.3 2495V2499.8M597.3 2496H606.9M597.3 2498.8H613.7M591.3 2490.5V2498.4M591.3 2491.5H599.3M591.3 2497.4H597.3M585.6 2487.9V2495.4M585.6 2488.9H614M585.6 2494.4H591.3M579.9 2486.8V2492.6M579.9 2487.8H606.5M579.9 2491.6H585.6M609.1 2499.4H614M602.7 2500.8H614M610.9 2502.6H614M610.5 2504.6H614M603.3 2501.6V2505.6M603.3 2502.6H610.9M603.3 2504.6H610.5M601.8 2506.5H614M596.3 2502.6V2507.5M596.3 2503.6H603.3M596.3 2506.5H601.8M587.1 2499.8V2506M587.1 2500.8H602.7M587.1 2505H596.3M583 2498.4V2503.9M583 2499.4H609.1M583 2502.9H587.1M575.2 2488.7V2502.1M575.2 2489.7H579.9M575.2 2501.1H583M518 2481.4V2496.4M518 2482.4H557M518 2495.4H575.2M600.9 2508.3H614M605.9 2509.9H614M603 2511.6H614M594 2508.9V2512.6M594 2509.9H605.9M594 2511.6H603M610.7 2513H614M610.4 2514.2H614M606.1 2516H614M598.4 2513.2V2517M598.4 2514.2H610.4M598.4 2516H606.1M590.6 2512V2516.1M590.6 2513H610.7M590.6 2515.1H598.4M580.6 2509.7V2515M580.6 2510.7H594M580.6 2514H590.6M611.1 2517.5H614M601 2519.6H614M592.8 2516.5V2520.6M592.8 2517.5H611.1M592.8 2519.6H601M573.2 2511.4V2519.6M573.2 2512.4H580.6M573.2 2518.6H592.8M608.9 2522.2H614M609.4 2524.6H614M600.3 2521.2V2525.6M600.3 2522.2H608.9M600.3 2524.6H609.4M612.1 2526.3H614M608.9 2526.9V2530.6M608.9 2527.9H614M608.9 2529.6H614M613.9 2530.3H614M602.4 2527.8V2531.3M602.4 2528.8H608.9M602.4 2530.3H613.9M596.3 2525.3V2530.5M596.3 2526.3H612.1M596.3 2529.5H602.4M586.4 2522.4V2528.9M586.4 2523.4H600.3M586.4 2527.9H596.3M605.3 2531.3H614M612.5 2531.2V2535.4M612.5 2532.2H614M612.5 2534.4H614M604.7 2532.3V2537.8M604.7 2533.3H612.5M604.7 2536.8H614M599.5 2530.3V2536M599.5 2531.3H605.3M599.5 2535H604.7M611.6 2537.6H614M595.3 2532.2V2538.6M595.3 2533.2H599.5M595.3 2537.6H611.6M554.7 2524.7V2536.4M554.7 2525.7H586.4M554.7 2535.4H595.3M532.1 2514.5V2531.5M532.1 2515.5H573.2M532.1 2530.5H554.7M527.3 2507.3V2524M527.3 2508.3H600.9M527.3 2523H532.1M613.1 2539.9H614M610.9 2542.3V2547.8M610.9 2543.3H614M610.9 2546.8H614M603.8 2538.9V2546M603.8 2539.9H613.1M603.8 2545H610.9M595.6 2541.5V2548.7M595.6 2542.5H603.8M595.6 2547.7H614M591.1 2538.1V2546.1M591.1 2539.1H614M591.1 2545.1H595.6M579.4 2537.5V2543.1M579.4 2538.5H614M579.4 2542.1H591.1M463.4 2514.6V2541.3M463.4 2515.6H527.3M463.4 2540.3H579.4M604.7 2550H614M610.3 2552.2H614M605.9 2554.4H614M601.3 2551.2V2555.4M601.3 2552.2H610.3M601.3 2554.4H605.9M592.1 2549V2554.3M592.1 2550H604.7M592.1 2553.3H601.3M528 2547.6V2552.6M528 2548.6H614M528 2551.6H592.1M608.4 2557H614M608.1 2559H614M600.8 2556V2560M600.8 2557H608.4M600.8 2559H608.1M591.6 2554.5V2559M591.6 2555.5H614M591.6 2558H600.8M610.7 2561.7H614M602.3 2559V2562.7M602.3 2560H614M602.3 2561.7H610.7M613.9 2563.3H614M612.6 2563.4V2567.6M612.6 2564.4H614M612.6 2566.6H614M604.9 2562.3V2566.5M604.9 2563.3H613.9M604.9 2565.5H612.6M596.8 2563.4V2569.1M596.8 2564.4H604.9M596.8 2568.1H614M592.4 2559.9V2567.3M592.4 2560.9H602.3M592.4 2566.3H596.8M612 2569.4V2573M612 2570.4H614M612 2572H614M603.3 2567.9V2572.2M603.3 2568.9H614M603.3 2571.2H612M598.1 2567.3V2571M598.1 2568.3H614M598.1 2570H603.3M586.1 2562.6V2570.2M586.1 2563.6H592.4M586.1 2569.2H598.1M557.1 2555.8V2567.4M557.1 2556.8H591.6M557.1 2566.4H586.1M600.3 2574H614M609.6 2576.2H614M592.3 2573V2577.2M592.3 2574H600.3M592.3 2576.2H609.6M601.7 2577.9H614M583.8 2574.1V2578.9M583.8 2575.1H592.3M583.8 2577.9H601.7M610.5 2579.7H614M572.9 2575.5V2580.7M572.9 2576.5H583.8M572.9 2579.7H610.5M604.2 2581.4H614M610.5 2582.7H614M602.1 2584.6H614M596.5 2581.7V2585.6M596.5 2582.7H610.5M596.5 2584.6H602.1M604.4 2586.8H614M592.2 2582.7V2587.8M592.2 2583.7H596.5M592.2 2586.8H604.4M602.2 2588.3H614M576.1 2584.2V2589.3M576.1 2585.2H592.2M576.1 2588.3H602.2M567.9 2580.4V2587.8M567.9 2581.4H604.2M567.9 2586.8H576.1M551 2577.1V2585.1M551 2578.1H572.9M551 2584.1H567.9M502 2560.6V2582.1M502 2561.6H557.1M502 2581.1H551M612 2593.6H614M607.8 2590.1V2594.6M607.8 2591.1H614M607.8 2593.6H612M600.7 2591.3V2595.3M600.7 2592.3H607.8M600.7 2594.3H614M613.9 2597.1H614M608.9 2594.2V2598.1M608.9 2595.2H614M608.9 2597.1H613.9M606.6 2598.8H614M602.1 2595.1V2599.8M602.1 2596.1H608.9M602.1 2598.8H606.6M610.3 2600.4H614M594.8 2596.5V2601.4M594.8 2597.5H602.1M594.8 2600.4H610.3M576.6 2592.3V2599.9M576.6 2593.3H600.7M576.6 2598.9H594.8M610.1 2601.7H614M562.4 2595.1V2602.7M562.4 2596.1H576.6M562.4 2601.7H610.1M610.1 2602.7H614M609.8 2603.5V2607.3M609.8 2604.5H614M609.8 2606.3H614M600.9 2604.4V2608.4M600.9 2605.4H609.8M600.9 2607.4H614M596.2 2602.3V2607.4M596.2 2603.3H614M596.2 2606.4H600.9M586.4 2601.7V2605.9M586.4 2602.7H610.1M586.4 2604.9H596.2M607.7 2608.5H614M581.1 2602.8V2609.5M581.1 2603.8H586.4M581.1 2608.5H607.7M604.7 2610H614M604.9 2611.4H614M609.8 2613H614M612.4 2613.6V2617.5M612.4 2614.6H614M612.4 2616.5H614M611.5 2619.4H614M604.7 2614.6V2620.4M604.7 2615.6H612.4M604.7 2619.4H611.5M596.2 2612V2618.5M596.2 2613H609.8M596.2 2617.5H604.7M591.4 2610.4V2616.3M591.4 2611.4H604.9M591.4 2615.3H596.2M586.8 2609V2614.3M586.8 2610H604.7M586.8 2613.3H591.4M612.6 2624.8H614M606.3 2622V2625.8M606.3 2623H614M606.3 2624.8H612.6M597.7 2620.3V2624.9M597.7 2621.3H614M597.7 2623.9H606.3M611.4 2625.8H614M585.2 2621.6V2626.8M585.2 2622.6H597.7M585.2 2625.8H611.4M576.8 2610.6V2625.2M576.8 2611.6H586.8M576.8 2624.2H585.2M570.9 2605.2V2618.9M570.9 2606.2H581.1M570.9 2617.9H576.8M607.8 2627H614M563.2 2611V2628M563.2 2612H570.9M563.2 2627H607.8M554 2597.9V2620.5M554 2598.9H562.4M554 2619.5H563.2M613.7 2629.4H614M604.6 2630.7H614M605.2 2633H614M608.6 2635.3H614M598.5 2632V2636.3M598.5 2633H605.2M598.5 2635.3H608.6M592.3 2629.7V2635.1M592.3 2630.7H604.6M592.3 2634.1H598.5M603.2 2636.7H614M599.5 2638.9H614M589.8 2635.7V2639.9M589.8 2636.7H603.2M589.8 2638.9H599.5M582.9 2631.4V2638.8M582.9 2632.4H592.3M582.9 2637.8H589.8M576.4 2628.4V2636.1M576.4 2629.4H613.7M576.4 2635.1H582.9M568 2627.2V2633.2M568 2628.2H614M568 2632.2H576.4M609.8 2641.6H614M608.9 2643.7H614M602 2640.6V2644.7M602 2641.6H609.8M602 2643.7H608.9M600 2645.5H614M594.9 2641.7V2646.5M594.9 2642.7H602M594.9 2645.5H600M611.1 2647.3V2651.9M611.1 2648.3H614M611.1 2650.9H614M609.8 2652.6V2656.2M609.8 2653.6H614M609.8 2655.2H614M604 2648.6V2655.4M604 2649.6H611.1M604 2654.4H609.8M596.3 2645.8V2653M596.3 2646.8H614M596.3 2652H604M607.2 2654.9V2659M607.2 2655.9H614M607.2 2658H614M598.4 2656V2661M598.4 2657H607.2M598.4 2660H614M589.9 2648.4V2659.5M589.9 2649.4H596.3M589.9 2658.5H598.4M581.5 2643.1V2654.9M581.5 2644.1H594.9M581.5 2653.9H589.9M610 2661.4H614M608.9 2663.2H614M602.8 2660.4V2664.2M602.8 2661.4H610M602.8 2663.2H608.9M598.1 2659.5V2663.3M598.1 2660.5H614M598.1 2662.3H602.8M571.6 2648V2662.4M571.6 2649H581.5M571.6 2661.4H598.1M563.4 2629.2V2656.2M563.4 2630.2H568M563.4 2655.2H571.6M610.1 2665.4H614M609.1 2668.4H614M601.9 2665.8V2669.4M601.9 2666.8H614M601.9 2668.4H609.1M595.1 2666.6V2670.9M595.1 2667.6H601.9M595.1 2669.9H614M577.3 2664.4V2669.8M577.3 2665.4H610.1M577.3 2668.8H595.1M607.9 2670.7H614M611.5 2672.6H614M613.4 2674.5H614M604.1 2671.6V2675.5M604.1 2672.6H611.5M604.1 2674.5H613.4M594 2672.6V2676.4M594 2673.6H604.1M594 2675.4H614M609.7 2676.5V2680.4M609.7 2677.5H614M609.7 2679.4H614M601.2 2677.4V2680.9M601.2 2678.4H609.7M601.2 2679.9H614M607.8 2679.9V2683.8M607.8 2680.9H614M607.8 2682.8H614M598.3 2679.5V2682.8M598.3 2680.5H614M598.3 2681.8H607.8M593.6 2678.2V2682.2M593.6 2679.2H601.2M593.6 2681.2H598.3M612.7 2687.5H614M606.6 2684.9V2688.5M606.6 2685.9H614M606.6 2687.5H612.7M601.2 2685.7V2689.6M601.2 2686.7H606.6M601.2 2688.6H614M612.3 2689.5H614M606.5 2688.5V2692.1M606.5 2689.5H612.3M606.5 2691.1H614M591.8 2686.6V2691.3M591.8 2687.6H601.2M591.8 2690.3H606.5M586.8 2679.2V2690M586.8 2680.2H593.6M586.8 2689H591.8M578.7 2673.5V2685.6M578.7 2674.5H594M578.7 2684.6H586.8M569.7 2669.7V2680.5M569.7 2670.7H607.9M569.7 2679.5H578.7M560.2 2666.1V2676.1M560.2 2667.1H577.3M560.2 2675.1H569.7M554 2641.7V2672.1M554 2642.7H563.4M554 2671.1H560.2M613.4 2693H614M608.3 2695H614M603.7 2697.2H614M606.6 2698.8H614M609.1 2700.3H614M609.6 2702V2705.7M609.6 2703H614M609.6 2704.7H614M603.6 2700.3V2704.9M603.6 2701.3H614M603.6 2703.9H609.6M599.5 2699.3V2703.6M599.5 2700.3H609.1M599.5 2702.6H603.6M593.1 2697.8V2702.4M593.1 2698.8H606.6M593.1 2701.4H599.5M597 2706.2H614M599.8 2708.6H614M588.6 2705.2V2709.6M588.6 2706.2H597M588.6 2708.6H599.8M582.9 2699.1V2708.4M582.9 2700.1H593.1M582.9 2707.4H588.6M598.3 2710.8H614M578 2702.8V2711.8M578 2703.8H582.9M578 2710.8H598.3M571.4 2696.2V2708.3M571.4 2697.2H603.7M571.4 2707.3H578M613.3 2713.3H614M607.4 2712.3V2716M607.4 2713.3H613.3M607.4 2715H614M602 2713.2V2716.3M602 2714.2H607.4M602 2715.3H614M561.6 2701.2V2715.7M561.6 2702.2H571.4M561.6 2714.7H602M554.3 2694V2709.5M554.3 2695H608.3M554.3 2708.5H561.6M537.5 2692V2702.7M537.5 2693H613.4M537.5 2701.7H554.3M613.3 2716.1H614M606.6 2717.9H614M600.9 2715.1V2718.9M600.9 2716.1H613.3M600.9 2717.9H606.6M600.6 2720.1H614M593.6 2716V2721.1M593.6 2717H600.9M593.6 2720.1H600.6M611.3 2721.7H614M587.3 2717.5V2722.7M587.3 2718.5H593.6M587.3 2721.7H611.3M601.3 2723.3H614M576.7 2719.1V2724.3M576.7 2720.1H587.3M576.7 2723.3H601.3M613.1 2724.6H614M607.9 2726.2H614M591.2 2723.6V2727.2M591.2 2724.6H613.1M591.2 2726.2H607.9M610 2728.7H614M612.8 2730.7H614M604.2 2727.7V2731.7M604.2 2728.7H610M604.2 2730.7H612.8M582.8 2724.4V2730.7M582.8 2725.4H591.2M582.8 2729.7H604.2M568.3 2720.7V2728.5M568.3 2721.7H576.7M568.3 2727.5H582.8M529 2696.4V2725.6M529 2697.4H537.5M529 2724.6H568.3M606.7 2733.1H614M611 2735.2V2739.8M611 2736.2H614M611 2738.8H614M601.1 2732.1V2738.5M601.1 2733.1H606.7M601.1 2737.5H611M593.8 2730.9V2736.3M593.8 2731.9H614M593.8 2735.3H601.1M613 2740.6H614M606.2 2739.6V2743.2M606.2 2740.6H613M606.2 2742.2H614M577 2732.6V2742.4M577 2733.6H593.8M577 2741.4H606.2M608.8 2743.1H614M571.6 2736.5V2744.1M571.6 2737.5H577M571.6 2743.1H608.8M603.2 2744.4H614M609.9 2746.1H614M609.1 2747.8H614M603.2 2745.1V2748.8M603.2 2746.1H609.9M603.2 2747.8H609.1M594.4 2743.4V2748M594.4 2744.4H603.2M594.4 2747H603.2M611.2 2749.4V2753M611.2 2750.4H614M611.2 2752H614M603.4 2747.8V2752.2M603.4 2748.8H614M603.4 2751.2H611.2M579.5 2744.7V2751M579.5 2745.7H594.4M579.5 2750H603.4M510 2739.3V2748.8M510 2740.3H571.6M510 2747.8H579.5M607 2753.7H614M597.6 2752.7V2756.6M597.6 2753.7H607M597.6 2755.6H614M605.8 2756.7H614M587.5 2753.6V2757.7M587.5 2754.6H597.6M587.5 2756.7H605.8M611.6 2758V2761.9M611.6 2759H614M611.6 2760.9H614M609 2762.2H614M603 2758.9V2763.2M603 2759.9H611.6M603 2762.2H609M594.6 2760.1V2764.4M594.6 2761.1H603M594.6 2763.4H614M608.3 2764.9H614M577.2 2761.3V2765.9M577.2 2762.3H594.6M577.2 2764.9H608.3M545 2754.7V2764.6M545 2755.7H587.5M545 2763.6H577.2M603.9 2767.2H614M604.6 2769.3H614M592.1 2766.2V2770.3M592.1 2767.2H603.9M592.1 2769.3H604.6M606.5 2771.5H614M612.6 2773.3H614M599.5 2770.5V2774.3M599.5 2771.5H606.5M599.5 2773.3H612.6M598.8 2775.5H614M580.7 2771.4V2776.5M580.7 2772.4H599.5M580.7 2775.5H598.8M574.8 2767.3V2774.9M574.8 2768.3H592.1M574.8 2773.9H580.7M606.1 2777.8H614M606.7 2780H614M594.7 2776.8V2781M594.7 2777.8H606.1M594.7 2780H606.7M605.3 2782.1H614M594.6 2784.3H614M613.5 2786.5H614M603.1 2788.7H614M592.6 2785.5V2789.7M592.6 2786.5H613.5M592.6 2788.7H603.1M584.2 2783.3V2788.6M584.2 2784.3H594.6M584.2 2787.6H592.6M576.8 2781.1V2786.9M576.8 2782.1H605.3M576.8 2785.9H584.2M564.8 2777.9V2785M564.8 2778.9H594.7M564.8 2784H576.8M550 2770.1V2782.5M550 2771.1H574.8M550 2781.5H564.8M606.1 2791.2H614M608.7 2793.2H614M609.3 2795H614M601.9 2792.2V2796M601.9 2793.2H608.7M601.9 2795H609.3M604.5 2797.3H614M592.7 2793.1V2798.3M592.7 2794.1H601.9M592.7 2797.3H604.5M584.5 2790.2V2796.7M584.5 2791.2H606.1M584.5 2795.7H592.7M606.8 2799.9H614M558.9 2792.5V2800.9M558.9 2793.5H584.5M558.9 2799.9H606.8M606.7 2802.8V2807.1M606.7 2803.8H614M606.7 2806.1H614M599.7 2803.9V2807.4M599.7 2804.9H606.7M599.7 2806.4H614M580.8 2800.3V2806.7M580.8 2801.3H614M580.8 2805.7H599.7M545.4 2795.7V2804.5M545.4 2796.7H558.9M545.4 2803.5H580.8M610.1 2807.7H614M605.7 2809.5H614M599.9 2806.7V2810.5M599.9 2807.7H610.1M599.9 2809.5H605.7M606.3 2811.4H614M611.1 2813.5H614M601.3 2810.4V2814.5M601.3 2811.4H606.3M601.3 2813.5H611.1M571.5 2807.6V2813.5M571.5 2808.6H599.9M571.5 2812.5H601.3M608.8 2815.2H614M564.9 2809.6V2816.2M564.9 2810.6H571.5M564.9 2815.2H608.8M533 2799.1V2813.9M533 2800.1H545.4M533 2812.9H564.9M611.2 2817.4H614M613.7 2819.1H614M603.9 2816.4V2820.1M603.9 2817.4H611.2M603.9 2819.1H613.7M593.3 2815.1V2819.3M593.3 2816.1H614M593.3 2818.3H603.9M610.7 2820H614M613.5 2821.2H614M607.2 2820.2V2824M607.2 2821.2H613.5M607.2 2823H614M600.1 2819V2823.1M600.1 2820H610.7M600.1 2822.1H607.2M590.6 2820V2825.3M590.6 2821H600.1M590.6 2824.3H614M581.3 2821.7V2825.8M581.3 2822.7H590.6M581.3 2824.8H614M530 2816.2V2824.7M530 2817.2H593.3M530 2823.7H581.3M603.9 2825.9H614M604.8 2828.1H614M605.5 2830.6H614M596.6 2827.1V2831.6M596.6 2828.1H604.8M596.6 2830.6H605.5M588 2824.9V2830.4M588 2825.9H603.9M588 2829.4H596.6M603 2832.9H614M598.7 2831.9V2835.7M598.7 2832.9H603M598.7 2834.7H614M609.2 2836.9H614M609.4 2839H614M602.9 2835.9V2840M602.9 2836.9H609.2M602.9 2839H609.4M597.5 2834.4V2838.9M597.5 2835.4H614M597.5 2837.9H602.9M589.6 2832.8V2837.6M589.6 2833.8H598.7M589.6 2836.6H597.5M528 2826.6V2836.2M528 2827.6H588M528 2835.2H589.6M609.2 2840V2844M609.2 2841H614M609.2 2843H614M603.5 2839.5V2843M603.5 2840.5H614M603.5 2842H609.2M599.1 2840.3V2846M599.1 2841.3H603.5M599.1 2845H614M603.9 2846.8H614M574.5 2842.1V2847.8M574.5 2843.1H599.1M574.5 2846.8H603.9M570.4 2839.1V2846M570.4 2840.1H614M570.4 2845H574.5M608.2 2848.7H614M601.9 2850.5H614M591.1 2847.7V2851.5M591.1 2848.7H608.2M591.1 2850.5H601.9M607.5 2851.5V2855.6M607.5 2852.5H614M607.5 2854.6H614M606.3 2856.9H614M597.8 2852.5V2857.9M597.8 2853.5H607.5M597.8 2856.9H606.3M580.7 2848.6V2856.2M580.7 2849.6H591.1M580.7 2855.2H597.8M601.9 2859.3H614M572.9 2851.4V2860.3M572.9 2852.4H580.7M572.9 2859.3H601.9M552 2841.5V2856.9M552 2842.5H570.4M552 2855.9H572.9M605.8 2862.7H614M609.2 2864.7H614M593.5 2861.7V2865.7M593.5 2862.7H605.8M593.5 2864.7H609.2M587.7 2860.7V2864.7M587.7 2861.7H614M587.7 2863.7H593.5M605.5 2868.3H614M610.4 2869.3V2873.6M610.4 2870.3H614M610.4 2872.6H614M610.9 2875.2H614M601.5 2870.4V2876.2M601.5 2871.4H610.4M601.5 2875.2H610.9M593.8 2867.3V2874.3M593.8 2868.3H605.5M593.8 2873.3H601.5M589.7 2865.2V2871.8M589.7 2866.2H614M589.7 2870.8H593.8M571.4 2861.7V2869.5M571.4 2862.7H587.7M571.4 2868.5H589.7M560 2860.2V2866.6M560 2861.2H614M560 2865.6H571.4M606.6 2876.3V2879.9M606.6 2877.3H614M606.6 2878.9H614M604.5 2880.6H614M598.3 2877.1V2881.6M598.3 2878.1H606.6M598.3 2880.6H604.5M599.7 2883.5H614M585.4 2878.4V2884.5M585.4 2879.4H598.3M585.4 2883.5H599.7M602.1 2886.2H614M610.9 2887.5V2891.5M610.9 2888.5H614M610.9 2890.5H614M605.3 2886.7V2890.5M605.3 2887.7H614M605.3 2889.5H610.9M597.9 2887.6V2893.5M597.9 2888.6H605.3M597.9 2892.5H614M589.1 2885.2V2891.5M589.1 2886.2H602.1M589.1 2890.5H597.9M577.1 2880.4V2889.4M577.1 2881.4H585.4M577.1 2888.4H589.1M537 2862.4V2885.9M537 2863.4H560M537 2884.9H577.1M595.7 2894.4H614M609.7 2895.1V2899.2M609.7 2896.1H614M609.7 2898.2H614M607.1 2901.1H614M602.1 2896.2V2902.1M602.1 2897.2H609.7M602.1 2901.1H607.1M608.4 2902.8H614M592.7 2898.1V2903.8M592.7 2899.1H602.1M592.7 2902.8H608.4M607.6 2904.7H614M577.3 2900V2905.7M577.3 2901H592.7M577.3 2904.7H607.6M572.3 2901.8V2907M572.3 2902.8H577.3M572.3 2906H614M568.1 2893.4V2905.4M568.1 2894.4H595.7M568.1 2904.4H572.3M605.8 2907.8H614M599.1 2906.8V2910.8M599.1 2907.8H605.8M599.1 2909.8H614M605.9 2911H614M605 2913.1H614M597 2910V2914.1M597 2911H605.9M597 2913.1H605M586.1 2907.8V2913.1M586.1 2908.8H599.1M586.1 2912.1H597M541.1 2898.4V2911.4M541.1 2899.4H568.1M541.1 2910.4H586.1M603.2 2915.3H614M608 2917.3H614M598.9 2914.3V2918.3M598.9 2915.3H603.2M598.9 2917.3H608M608 2919.9H614M589.4 2918.9V2922.7M589.4 2919.9H608M589.4 2921.7H614M573.9 2915.3V2921.8M573.9 2916.3H598.9M573.9 2920.8H589.4M506 2903.9V2919.6M506 2904.9H541.1M506 2918.6H573.9M611.9 2922.8H614M608.6 2925.1H614M608.5 2928H614M599.4 2924.1V2929M599.4 2925.1H608.6M599.4 2928H608.5M600.7 2930.9H614M591.8 2925.6V2931.9M591.8 2926.6H599.4M591.8 2930.9H600.7M528 2921.8V2929.7M528 2922.8H611.9M528 2928.7H591.8M612.5 2933.2H614M608.9 2935.1H614M607.3 2937.1H614M593.8 2934.1V2938.1M593.8 2935.1H608.9M593.8 2937.1H607.3M606.2 2939.5H614M596.4 2938.5V2942.4M596.4 2939.5H606.2M596.4 2941.4H614M612.5 2942.6H614M605.4 2944.8H614M597.5 2941.6V2945.8M597.5 2942.6H612.5M597.5 2944.8H605.4M591.6 2942.7V2947.5M591.6 2943.7H597.5M591.6 2946.5H614M612.1 2948.1H614M612.4 2950.3H614M603.4 2947.1V2951.3M603.4 2948.1H612.1M603.4 2950.3H612.4M613.2 2951.1H614M598.5 2948.2V2952.1M598.5 2949.2H603.4M598.5 2951.1H613.2M589.2 2949.2V2952.4M589.2 2950.2H598.5M589.2 2951.4H614M584.1 2944.1V2951.8M584.1 2945.1H591.6M584.1 2950.8H589.2M570.3 2939.4V2948.9M570.3 2940.4H596.4M570.3 2947.9H584.1M592.9 2953.1H614M610.1 2956H614M611.2 2957.8H614M604.6 2955V2958.8M604.6 2956H610.1M604.6 2957.8H611.2M610.3 2959H614M595.1 2955.9V2960M595.1 2956.9H604.6M595.1 2959H610.3M588.1 2952.1V2959M588.1 2953.1H592.9M588.1 2958H595.1M562.6 2943.2V2956.5M562.6 2944.2H570.3M562.6 2955.5H588.1M552.6 2935.1V2950.8M552.6 2936.1H593.8M552.6 2949.8H562.6M543.8 2932.2V2944M543.8 2933.2H612.5M543.8 2943H552.6M600.1 2960.8H614M608.5 2962.6H614M591.1 2959.8V2963.6M591.1 2960.8H600.1M591.1 2962.6H608.5M607.8 2964.4V2968.2M607.8 2965.4H614M607.8 2967.2H614M600.3 2965.3V2968.5M600.3 2966.3H607.8M600.3 2967.5H614M586.5 2962.6V2967.9M586.5 2963.6H614M586.5 2966.9H600.3M605.4 2968.4H614M579.6 2964.3V2969.4M579.6 2965.3H586.5M579.6 2968.4H605.4M602.8 2970.4H614M597.8 2973.1H614M593.4 2969.4V2974.1M593.4 2970.4H602.8M593.4 2973.1H597.8M567.6 2965.8V2972.8M567.6 2966.8H579.6M567.6 2971.8H593.4M604.3 2976.1H614M612.9 2978H614M595.3 2975.1V2979M595.3 2976.1H604.3M595.3 2978H612.9M607 2980H614M608.6 2982.5H614M601.8 2979V2983.5M601.8 2980H607M601.8 2982.5H608.6M590.2 2976V2982.3M590.2 2977H595.3M590.2 2981.3H601.8M561.7 2968.3V2980.2M561.7 2969.3H567.6M561.7 2979.2H590.2M550.4 2960.7V2975.2M550.4 2961.7H591.1M550.4 2974.2H561.7M537 2937.1V2969M537 2938.1H543.8M537 2968H550.4M605.3 2984H614M603.5 2985.8H614M603.2 2987.9H614M605.8 2989.8H614M608.1 2992.2H614M598.6 2988.8V2993.2M598.6 2989.8H605.8M598.6 2992.2H608.1M590.2 2986.9V2992M590.2 2987.9H603.2M590.2 2991H598.6M579.2 2984.8V2990.5M579.2 2985.8H603.5M579.2 2989.5H590.2M572.8 2983V2988.6M572.8 2984H605.3M572.8 2987.6H579.2M613.3 2993.9H614M612.1 2995H614M599.3 2997.3H614M592.4 2994V2998.3M592.4 2995H612.1M592.4 2997.3H599.3M597.4 3000.3H614M587.8 2995.1V3001.3M587.8 2996.1H592.4M587.8 3000.3H597.4M580.5 2992.9V2999.2M580.5 2993.9H613.3M580.5 2998.2H587.8M549.2 2984.8V2997.1M549.2 2985.8H572.8M549.2 2996.1H580.5M610.4 3001.6V3005.3M610.4 3002.6H614M610.4 3004.3H614M602.5 3002.5V3006.8M602.5 3003.5H610.4M602.5 3005.8H614M540.5 2989.9V3005.7M540.5 2990.9H549.2M540.5 3004.7H602.5M613.9 3006.8H614M603.2 3007.8H614M598.7 3009.5H614M609.2 3011.4H614M604.1 3013.5H614M599.4 3010.4V3014.5M599.4 3011.4H609.2M599.4 3013.5H604.1M593.8 3008.5V3013.4M593.8 3009.5H598.7M593.8 3012.4H599.4M587.5 3006.8V3012M587.5 3007.8H603.2M587.5 3011H593.8M612.6 3017.8H614M607.2 3015.1V3018.8M607.2 3016.1H614M607.2 3017.8H612.6M598.6 3013.8V3017.9M598.6 3014.8H614M598.6 3016.9H607.2M609.8 3019.4H614M592 3014.9V3020.4M592 3015.9H598.6M592 3019.4H609.8M579.5 3008.4V3018.6M579.5 3009.4H587.5M579.5 3017.6H592M573.2 3005.8V3014.5M573.2 3006.8H613.9M573.2 3013.5H579.5M506 2996.8V3011.1M506 2997.8H540.5M506 3010.1H573.2M609.4 3021.2H614M611.1 3022.7V3026.9M611.1 3023.7H614M611.1 3025.9H614M603.2 3021.2V3025.8M603.2 3022.2H614M603.2 3024.8H611.1M595.7 3020.2V3024.5M595.7 3021.2H609.4M595.7 3023.5H603.2M603.1 3027.8H614M605.5 3029.4H614M613.2 3030.4H614M612.9 3030.7V3034.6M612.9 3031.7H614M612.9 3033.6H614M610.4 3035.1H614M603.6 3031.6V3036.1M603.6 3032.6H612.9M603.6 3035.1H610.4M596.6 3029.4V3034.9M596.6 3030.4H613.2M596.6 3033.9H603.6M592.3 3028.4V3033.1M592.3 3029.4H605.5M592.3 3032.1H596.6M583.3 3026.8V3031.8M583.3 3027.8H603.1M583.3 3030.8H592.3M560 3021.3V3030.3M560 3022.3H595.7M560 3029.3H583.3M613.9 3037H614M607.8 3036V3040.5M607.8 3037H613.9M607.8 3039.5H614M598.7 3037.3V3041.9M598.7 3038.3H607.8M598.7 3040.9H614M602.8 3042H614M608.4 3044.3H614M610.4 3046.1V3050.5M610.4 3047.1H614M610.4 3049.5H614M602.4 3043.3V3049.3M602.4 3044.3H608.4M602.4 3048.3H610.4M610 3051.1H614M592.5 3045.3V3052.1M592.5 3046.3H602.4M592.5 3051.1H610M601.5 3053H614M610.1 3053.3V3058.1M610.1 3054.3H614M610.1 3057.1H614M607.1 3060.3H614M601.2 3054.7V3061.3M601.2 3055.7H610.1M601.2 3060.3H607.1M592.6 3052V3059M592.6 3053H601.5M592.6 3058H601.2M602.8 3062.3H614M588.5 3054.5V3063.3M588.5 3055.5H592.6M588.5 3062.3H602.8M578.5 3047.7V3059.9M578.5 3048.7H592.5M578.5 3058.9H588.5M602 3064.3H614M572 3052.8V3065.3M572 3053.8H578.5M572 3064.3H602M564.4 3041V3060.1M564.4 3042H602.8M564.4 3059.1H572M524.6 3038.6V3051.5M524.6 3039.6H598.7M524.6 3050.5H564.4M603.1 3066.1H614M604.2 3067.7V3071.3M604.2 3068.7H614M604.2 3070.3H614M597.2 3068.5V3071.8M597.2 3069.5H604.2M597.2 3070.8H614M600.1 3072.1H614M591.1 3069.2V3073.1M591.1 3070.2H597.2M591.1 3072.1H600.1M585.3 3065.1V3072.1M585.3 3066.1H603.1M585.3 3071.1H591.1M605.9 3074H614M611.5 3077.2H614M606.2 3074.3V3078.2M606.2 3075.3H614M606.2 3077.2H611.5M599.1 3073V3077.3M599.1 3074H605.9M599.1 3076.3H606.2M607.8 3079.2H614M594.4 3074.1V3080.2M594.4 3075.1H599.1M594.4 3079.2H607.8M611.1 3080.3V3083.9M611.1 3081.3H614M611.1 3082.9H614M605.7 3081.1V3084.7M605.7 3082.1H611.1M605.7 3083.7H614M599.6 3078.9V3083.9M599.6 3079.9H614M599.6 3082.9H605.7M588.6 3076.2V3082.4M588.6 3077.2H594.4M588.6 3081.4H599.6M607.5 3084.6H614M600.8 3086.5H614M608.4 3089.4H614M611.7 3091.3H614M599.1 3088.4V3092.3M599.1 3089.4H608.4M599.1 3091.3H611.7M591.6 3085.5V3091.4M591.6 3086.5H600.8M591.6 3090.4H599.1M582.2 3083.6V3089.4M582.2 3084.6H607.5M582.2 3088.4H591.6M573.9 3078.3V3087.5M573.9 3079.3H588.6M573.9 3086.5H582.2M566.9 3067.6V3083.9M566.9 3068.6H585.3M566.9 3082.9H573.9M599.9 3093.6H614M591.1 3090.9V3094.6M591.1 3091.9H614M591.1 3093.6H599.9M609 3095.9H614M609.9 3097.9H614M596.1 3094.9V3098.9M596.1 3095.9H609M596.1 3097.9H609.9M586.6 3095.9V3100.2M586.6 3096.9H596.1M586.6 3099.2H614M601.5 3100.7H614M607.9 3103H614M607 3105.2H614M600.8 3102V3106.2M600.8 3103H607.9M600.8 3105.2H607M593 3099.7V3105.1M593 3100.7H601.5M593 3104.1H600.8M567.3 3097.1V3103.4M567.3 3098.1H586.6M567.3 3102.4H593M558.7 3091.8V3101.3M558.7 3092.8H591.1M558.7 3100.3H567.3M535.8 3074.8V3097.5M535.8 3075.8H566.9M535.8 3096.5H558.7M605.1 3107.1H614M592.9 3109.3H614M586 3106.1V3110.3M586 3107.1H605.1M586 3109.3H592.9M529.2 3085.1V3109.2M529.2 3086.1H535.8M529.2 3108.2H586M603.6 3111.7H614M606.8 3114H614M607.3 3116.3V3120.4M607.3 3117.3H614M607.3 3119.4H614M600.2 3117.3V3120.9M600.2 3118.3H607.3M600.2 3119.9H614M613.2 3123.8H614M608.3 3120.6V3124.8M608.3 3121.6H614M608.3 3123.8H613.2M600.6 3121.7V3125.8M600.6 3122.7H608.3M600.6 3124.8H614M594.4 3118.1V3124.8M594.4 3119.1H600.2M594.4 3123.8H600.6M588.9 3113V3122.4M588.9 3114H606.8M588.9 3121.4H594.4M583.9 3110.7V3118.7M583.9 3111.7H603.6M583.9 3117.7H588.9M521 3096.2V3115.7M521 3097.2H529.2M521 3114.7H583.9M605.1 3125.8H614M612.9 3127.6H614M612 3129.8H614M605.5 3126.6V3130.8M605.5 3127.6H612.9M605.5 3129.8H612M597.3 3127.7V3132M597.3 3128.7H605.5M597.3 3131H614M590.8 3128.8V3132.6M590.8 3129.8H597.3M590.8 3131.6H614M610.1 3132.6H614M584.5 3129.7V3133.6M584.5 3130.7H590.8M584.5 3132.6H610.1M498 3124.8V3132.6M498 3125.8H605.1M498 3131.6H584.5M613.2 3133.7H614M609.1 3135.7H614M604.9 3132.7V3136.7M604.9 3133.7H613.2M604.9 3135.7H609.1M598.9 3133.7V3138.1M598.9 3134.7H604.9M598.9 3137.1H614M612 3137.5H614M594.5 3134.9V3138.5M594.5 3135.9H598.9M594.5 3137.5H612M609.6 3138.4V3142M609.6 3139.4H614M609.6 3141H614M600.1 3137V3141.2M600.1 3138H614M600.1 3140.2H609.6M584.2 3135.7V3140.1M584.2 3136.7H594.5M584.2 3139.1H600.1M608.2 3143.6H614M603.1 3140.8V3144.6M603.1 3141.8H614M603.1 3143.6H608.2M609.5 3145.8H614M586.4 3141.7V3146.8M586.4 3142.7H603.1M586.4 3145.8H609.5M573.9 3136.9V3145.3M573.9 3137.9H584.2M573.9 3144.3H586.4M565.8 3140.1V3147.8M565.8 3141.1H573.9M565.8 3146.8H614M613.5 3148.2H614M614 3149.9H614M608.7 3147.2V3150.9M608.7 3148.2H613.5M608.7 3149.9H614M613.8 3151.3H614M602.3 3148.1V3152.3M602.3 3149.1H608.7M602.3 3151.3H613.8M597.7 3146.4V3151.2M597.7 3147.4H614M597.7 3150.2H602.3M540.7 3143V3149.8M540.7 3144H565.8M540.7 3148.8H597.7M605.5 3152.8H614M603 3155.5H614M586.4 3151.8V3156.5M586.4 3152.8H605.5M586.4 3155.5H603M611 3156.7V3160.8M611 3157.7H614M611 3159.8H614M609.5 3161.3H614M604 3157.8V3162.3M604 3158.8H611M604 3161.3H609.5M604.6 3162.6H614M595.1 3159V3163.6M595.1 3160H604M595.1 3162.6H604.6M601 3164.2H614M588 3160.3V3165.2M588 3161.3H595.1M588 3164.2H601M582.2 3153.2V3163.8M582.2 3154.2H586.4M582.2 3162.8H588M601.9 3165.9H614M576.6 3157.5V3166.9M576.6 3158.5H582.2M576.6 3165.9H601.9M603.8 3168.2H614M571.8 3161.2V3169.2M571.8 3162.2H576.6M571.8 3168.2H603.8M492.4 3145.4V3166.2M492.4 3146.4H540.7M492.4 3165.2H571.8M610.9 3170.2H614M607.2 3172.2H614M595.8 3169.2V3173.2M595.8 3170.2H610.9M595.8 3172.2H607.2M605.7 3174.4H614M587.9 3170.2V3175.4M587.9 3171.2H595.8M587.9 3174.4H605.7M595.7 3176.8H614M605 3179.7H614M609.1 3181.7V3185.7M609.1 3182.7H614M609.1 3184.7H614M604.1 3182.7V3186.4M604.1 3183.7H609.1M604.1 3185.4H614M611.9 3186.4H614M596.3 3183.5V3187.4M596.3 3184.5H604.1M596.3 3186.4H611.9M591.9 3178.7V3186.5M591.9 3179.7H605M591.9 3185.5H596.3M582.9 3175.8V3183.6M582.9 3176.8H595.7M582.9 3182.6H591.9M599.8 3188.5H614M573.3 3178.7V3189.5M573.3 3179.7H582.9M573.3 3188.5H599.8M550 3171.8V3185.1M550 3172.8H587.9M550 3184.1H573.3M609.7 3190.5H614M611.1 3192.5H614M601.7 3189.5V3193.5M601.7 3190.5H609.7M601.7 3192.5H611.1M603.5 3194.9H614M592.5 3190.5V3195.9M592.5 3191.5H601.7M592.5 3194.9H603.5M602.7 3197.3H614M594.7 3196.3V3200.1M594.7 3197.3H602.7M594.7 3199.1H614M587.9 3192.2V3199.2M587.9 3193.2H592.5M587.9 3198.2H594.7M613.9 3201.4H614M608 3200.4V3204.1M608 3201.4H613.9M608 3203.1H614M601.6 3198.7V3203.2M601.6 3199.7H614M601.6 3202.2H608M581.9 3194.7V3202M581.9 3195.7H587.9M581.9 3201H601.6M502 3177.5V3199.3M502 3178.5H550M502 3198.3H581.9M609 3202.3V3206.5M609 3203.3H614M609 3205.5H614M601.3 3203.4V3208.6M601.3 3204.4H609M601.3 3207.6H614M604.8 3208.6H614M609.3 3210.5H614M601.2 3212.9H614M593.1 3209.5V3213.9M593.1 3210.5H609.3M593.1 3212.9H601.2M575.6 3207.6V3212.7M575.6 3208.6H604.8M575.6 3211.7H593.1M604 3214.9H614M607.5 3216.5V3220.9M607.5 3217.5H614M607.5 3219.9H614M600.7 3214.7V3219.7M600.7 3215.7H614M600.7 3218.7H607.5M612.5 3222H614M605.1 3221V3224.7M605.1 3222H612.5M605.1 3223.7H614M596.5 3221.9V3225.3M596.5 3222.9H605.1M596.5 3224.3H614M609 3225.8H614M591.8 3222.6V3226.8M591.8 3223.6H596.5M591.8 3225.8H609M582.3 3216.2V3225.7M582.3 3217.2H600.7M582.3 3224.7H591.8M573.9 3213.9V3221.9M573.9 3214.9H604M573.9 3220.9H582.3M564.6 3209.2V3218.9M564.6 3210.2H575.6M564.6 3217.9H573.9M494.3 3205V3215M494.3 3206H601.3M494.3 3214H564.6" stroke="#1e1e1e" stroke-width="2.2" fill="none" filter="url(#halo)"/>
</g>
</svg></body></html>
